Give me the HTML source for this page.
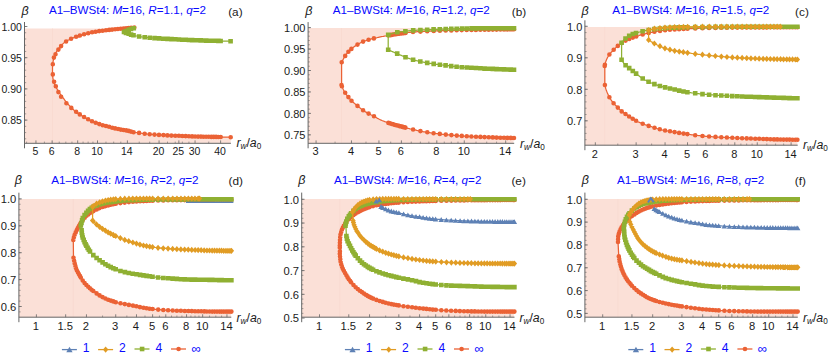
<!DOCTYPE html>
<html><head><meta charset="utf-8"><title>A1-BWSt4 beta vs r_w/a_0</title>
<style>
html,body{margin:0;padding:0;background:#fff;}
body{width:830px;height:362px;overflow:hidden;}
svg{display:block;font-family:"Liberation Sans",sans-serif;}
</style></head><body>
<svg width="830" height="362" viewBox="0 0 830 362">
<rect width="830" height="362" fill="#fff"/>
<path d="M24.5 28.4 H134.3 L134.3 28.4 L133.3 28.4 L132.3 28.4 L131.3 28.4 L130.3 28.4 L129.3 28.4 L128.3 28.4 L127.3 28.4 L126.3 28.4 L125.3 28.4 L124.3 28.4 L123.3 28.5 L122.3 28.6 L121.3 28.7 L120.2 28.8 L119.2 28.9 L118.2 29 L117.2 29.1 L116.2 29.2 L115.2 29.3 L114.2 29.4 L113.2 29.5 L112.2 29.6 L111.2 29.7 L110.2 29.8 L109.2 29.9 L108.2 30 L107.2 30.2 L106.2 30.3 L105.2 30.4 L104.2 30.5 L103.2 30.6 L102.2 30.7 L101.2 30.9 L100.2 31 L99.2 31.1 L98.2 31.3 L97.2 31.4 L96.2 31.6 L95.2 31.8 L94.3 31.9 L93.3 32.1 L92.3 32.3 L91.3 32.5 L90.3 32.7 L89.3 32.9 L88.3 33.1 L87.4 33.4 L86.4 33.6 L85.4 33.9 L84.4 34.1 L83.5 34.4 L82.5 34.7 L81.5 35 L80.6 35.3 L79.6 35.5 L78.6 35.9 L77.7 36.2 L76.7 36.5 L75.8 36.8 L74.8 37.2 L73.9 37.6 L73 38 L72.1 38.5 L71.2 38.9 L70.2 39.3 L69.3 39.7 L68.4 40.1 L67.4 40.5 L66.5 40.9 L65.7 41.4 L64.9 42 L64.1 42.7 L63.4 43.3 L62.7 44.1 L62 44.8 L61.3 45.6 L60.6 46.3 L59.9 47.1 L59.2 47.8 L58.6 48.6 L58 49.4 L57.4 50.2 L56.9 51.1 L56.4 52 L56 52.9 L55.6 53.8 L55.2 54.7 L54.8 55.7 L54.5 56.6 L54.2 57.6 L53.9 58.5 L53.6 59.5 L53.3 60.5 L53.1 61.5 L52.9 62.5 L52.7 63.5 L52.7 64.5 L52.6 65.5 L52.6 66.5 L52.5 67.5 L52.5 68.5 L52.5 69 L52.5 70 L52.5 71 L52.5 72 L52.6 73 L52.6 74 L52.6 75 L52.7 76 L52.8 77 L52.9 78 L53.1 79.1 L53.2 80 L53.4 81 L53.6 82 L53.9 82.9 L54.3 83.8 L54.8 84.7 L55.3 85.6 L55.7 86.5 L56.2 87.4 L56.7 88.3 L57.1 89.2 L57.6 90.1 L58.1 90.9 L58.7 91.8 L59.2 92.6 L59.8 93.4 L60.4 94.2 L61 95 L61.6 95.8 L62.2 96.6 L62.8 97.4 L63.4 98.3 L64 99.1 L64.6 99.9 L65.2 100.7 L65.8 101.5 L66.4 102.3 L67 103.1 L67.7 103.8 L68.4 104.5 L69.1 105.3 L69.8 106 L70.5 106.7 L71.2 107.4 L71.9 108.1 L72.6 108.8 L73.3 109.5 L74.1 110.2 L74.8 110.9 L75.6 111.5 L76.4 112.2 L77.2 112.7 L78 113.3 L78.9 113.8 L79.7 114.4 L80.6 114.9 L81.4 115.4 L82.3 116 L83.1 116.5 L84 117 L84.9 117.5 L85.7 118 L86.6 118.5 L87.5 119 L88.4 119.5 L89.2 119.9 L90.2 120.4 L91.1 120.8 L92 121.2 L92.9 121.6 L93.8 122 L94.7 122.4 L95.7 122.8 L96.6 123.1 L97.5 123.5 L98.5 123.8 L99.4 124.1 L100.4 124.5 L101.3 124.8 L102.3 125 L103.3 125.3 L104.3 125.6 L105.2 125.8 L106.2 126.1 L107.2 126.3 L108.1 126.6 L109.1 126.8 L110.1 127.1 L111 127.3 L112 127.6 L113 127.9 L114 128.1 L114.9 128.3 L115.9 128.6 L116.9 128.8 L117.9 129 L118.9 129.2 L119.8 129.4 L120.8 129.6 L121.8 129.7 L122.8 129.9 L123.8 130.1 L124.8 130.2 L125.8 130.3 L126.8 130.5 L127.8 130.7 L128.7 130.9 L129.7 131.2 L130.7 131.5 L131.6 131.8 L132.6 132 L133.6 132.2 L134.6 132.3 L135.6 132.4 L136.6 132.5 L137.6 132.7 L138.6 132.8 L139.6 132.9 L140.6 133.1 L141.5 133.2 L142.5 133.4 L143.5 133.6 L144.5 133.7 L145.5 133.8 L146.5 133.9 L147.5 134 L148.5 134.1 L149.5 134.2 L150.5 134.3 L151.5 134.4 L152.5 134.4 L153.5 134.5 L154.5 134.6 L155.5 134.7 L156.5 134.7 L157.5 134.8 L158.5 134.9 L159.5 134.9 L160.5 135 L161.5 135 L162.5 135.1 L163.5 135.2 L164.5 135.2 L165.5 135.3 L166.5 135.3 L167.5 135.4 L168.5 135.4 L169.5 135.5 L170.5 135.5 L171.5 135.6 L172.5 135.6 L173.5 135.6 L174.5 135.7 L175.5 135.7 L176.5 135.8 L177.6 135.8 L178.6 135.8 L179.6 135.9 L180.6 135.9 L181.6 135.9 L182.6 136 L183.6 136 L184.6 136.1 L185.6 136.1 L186.6 136.2 L187.6 136.2 L188.6 136.2 L189.6 136.3 L190.6 136.3 L191.6 136.4 L192.6 136.4 L193.6 136.4 L194.6 136.5 L195.6 136.5 L196.6 136.5 L197.6 136.6 L198.6 136.6 L199.6 136.6 L200.6 136.6 L201.6 136.7 L202.6 136.7 L203.6 136.7 L204.6 136.7 L205.6 136.8 L206.6 136.8 L207.6 136.8 L208.6 136.8 L209.6 136.8 L210.6 136.8 L211.6 136.9 L212.6 136.9 L213.6 136.9 L214.7 136.9 L215.7 136.9 L216.7 136.9 L217.7 136.9 L218.7 137 L219.7 137 L220.7 137 L221.7 137 L222.7 137 L223.7 137.1 L224.7 137.1 L225.7 137.1 L226.7 137.2 L227.7 137.2 L228.7 137.2 L229.7 137.3 L230.7 137.3 L230.7 143.3 L24.5 143.3 L24.5 28.4 Z" fill="#FBE0D7"/><path d="M52.5 28.4 V143.3" stroke="#F8D8CE" stroke-width="0.7"/>
<path d="M24.5 22 V148.3" stroke="#666666" stroke-width="1" fill="none"/>
<path d="M24.5 143.3 H230.9" stroke="#666666" stroke-width="1" fill="none"/>
<path d="M35.95 143.3 v-2.9" stroke="#666666" stroke-width="0.8"/>
<text x="35.45" y="155.3" font-size="10.5" fill="#1a1a1a" text-anchor="middle">5</text>
<path d="M52.14 143.3 v-2.9" stroke="#666666" stroke-width="0.8"/>
<text x="51.64" y="155.3" font-size="10.5" fill="#1a1a1a" text-anchor="middle">6</text>
<path d="M77.68 143.3 v-2.9" stroke="#666666" stroke-width="0.8"/>
<text x="77.18" y="155.3" font-size="10.5" fill="#1a1a1a" text-anchor="middle">8</text>
<path d="M97.5 143.3 v-2.9" stroke="#666666" stroke-width="0.8"/>
<text x="97" y="155.3" font-size="10.5" fill="#1a1a1a" text-anchor="middle">10</text>
<path d="M127.38 143.3 v-2.9" stroke="#666666" stroke-width="0.8"/>
<text x="126.88" y="155.3" font-size="10.5" fill="#1a1a1a" text-anchor="middle">14</text>
<path d="M159.05 143.3 v-2.9" stroke="#666666" stroke-width="0.8"/>
<text x="158.55" y="155.3" font-size="10.5" fill="#1a1a1a" text-anchor="middle">20</text>
<path d="M178.86 143.3 v-2.9" stroke="#666666" stroke-width="0.8"/>
<text x="178.36" y="155.3" font-size="10.5" fill="#1a1a1a" text-anchor="middle">25</text>
<path d="M195.05 143.3 v-2.9" stroke="#666666" stroke-width="0.8"/>
<text x="194.55" y="155.3" font-size="10.5" fill="#1a1a1a" text-anchor="middle">30</text>
<path d="M220.6 143.3 v-2.9" stroke="#666666" stroke-width="0.8"/>
<text x="220.1" y="155.3" font-size="10.5" fill="#1a1a1a" text-anchor="middle">40</text>
<path d="M26.59 143.3 v-1.7" stroke="#666666" stroke-width="0.6"/>
<path d="M44.41 143.3 v-1.7" stroke="#666666" stroke-width="0.6"/>
<path d="M59.24 143.3 v-1.7" stroke="#666666" stroke-width="0.6"/>
<path d="M65.82 143.3 v-1.7" stroke="#666666" stroke-width="0.6"/>
<path d="M71.95 143.3 v-1.7" stroke="#666666" stroke-width="0.6"/>
<path d="M83.07 143.3 v-1.7" stroke="#666666" stroke-width="0.6"/>
<path d="M88.14 143.3 v-1.7" stroke="#666666" stroke-width="0.6"/>
<path d="M92.94 143.3 v-1.7" stroke="#666666" stroke-width="0.6"/>
<path d="M105.96 143.3 v-1.7" stroke="#666666" stroke-width="0.6"/>
<path d="M113.69 143.3 v-1.7" stroke="#666666" stroke-width="0.6"/>
<path d="M120.8 143.3 v-1.7" stroke="#666666" stroke-width="0.6"/>
<path d="M139.23 143.3 v-1.7" stroke="#666666" stroke-width="0.6"/>
<path d="M149.69 143.3 v-1.7" stroke="#666666" stroke-width="0.6"/>
<path d="M167.51 143.3 v-1.7" stroke="#666666" stroke-width="0.6"/>
<path d="M175.24 143.3 v-1.7" stroke="#666666" stroke-width="0.6"/>
<path d="M182.35 143.3 v-1.7" stroke="#666666" stroke-width="0.6"/>
<path d="M188.93 143.3 v-1.7" stroke="#666666" stroke-width="0.6"/>
<path d="M208.74 143.3 v-1.7" stroke="#666666" stroke-width="0.6"/>
<path d="M24.5 26.5 h2.9" stroke="#666666" stroke-width="0.8"/>
<text x="21.9" y="30.56" font-size="10.5" fill="#1a1a1a" text-anchor="end">1.00</text>
<path d="M24.5 57.7 h2.9" stroke="#666666" stroke-width="0.8"/>
<text x="21.9" y="61.76" font-size="10.5" fill="#1a1a1a" text-anchor="end">0.95</text>
<path d="M24.5 88.9 h2.9" stroke="#666666" stroke-width="0.8"/>
<text x="21.9" y="92.96" font-size="10.5" fill="#1a1a1a" text-anchor="end">0.90</text>
<path d="M24.5 120.1 h2.9" stroke="#666666" stroke-width="0.8"/>
<text x="21.9" y="124.16" font-size="10.5" fill="#1a1a1a" text-anchor="end">0.85</text>
<path d="M24.5 26.5 h1.7" stroke="#666666" stroke-width="0.6"/>
<path d="M24.5 32.74 h1.7" stroke="#666666" stroke-width="0.6"/>
<path d="M24.5 38.98 h1.7" stroke="#666666" stroke-width="0.6"/>
<path d="M24.5 45.22 h1.7" stroke="#666666" stroke-width="0.6"/>
<path d="M24.5 51.46 h1.7" stroke="#666666" stroke-width="0.6"/>
<path d="M24.5 57.7 h1.7" stroke="#666666" stroke-width="0.6"/>
<path d="M24.5 63.94 h1.7" stroke="#666666" stroke-width="0.6"/>
<path d="M24.5 70.18 h1.7" stroke="#666666" stroke-width="0.6"/>
<path d="M24.5 76.42 h1.7" stroke="#666666" stroke-width="0.6"/>
<path d="M24.5 82.66 h1.7" stroke="#666666" stroke-width="0.6"/>
<path d="M24.5 88.9 h1.7" stroke="#666666" stroke-width="0.6"/>
<path d="M24.5 95.14 h1.7" stroke="#666666" stroke-width="0.6"/>
<path d="M24.5 101.38 h1.7" stroke="#666666" stroke-width="0.6"/>
<path d="M24.5 107.62 h1.7" stroke="#666666" stroke-width="0.6"/>
<path d="M24.5 113.86 h1.7" stroke="#666666" stroke-width="0.6"/>
<path d="M24.5 120.1 h1.7" stroke="#666666" stroke-width="0.6"/>
<path d="M24.5 126.34 h1.7" stroke="#666666" stroke-width="0.6"/>
<path d="M24.5 132.58 h1.7" stroke="#666666" stroke-width="0.6"/>
<path d="M24.5 138.82 h1.7" stroke="#666666" stroke-width="0.6"/>
<path d="M52.5 69L52.5 68L52.5 67L52.6 66L52.6 64.9L52.7 63.9L52.8 62.9L53 61.9L53.2 61L53.4 60L53.7 59L54 58L54.4 57L54.7 56.1L55 55.1L55.4 54.2L55.8 53.3L56.2 52.3L56.7 51.4L57.2 50.6L57.8 49.7L58.3 48.9L59 48.1L59.6 47.3L60.3 46.6L61 45.9L61.7 45.1L62.4 44.4L63.1 43.6L63.9 42.9L64.6 42.2L65.4 41.6L66.2 41.1L67.1 40.6L68 40.2L69 39.8L69.9 39.4L70.9 39L71.8 38.6L72.7 38.2L73.6 37.7L74.6 37.3L75.5 37L76.5 36.6L77.4 36.3L78.4 35.9L79.3 35.6L80.3 35.3L81.3 35L82.2 34.8L83.2 34.5L84.2 34.2L85.2 33.9L86.1 33.7L87.1 33.4L88.1 33.2L89.1 33L90.1 32.7L91.1 32.5L92.1 32.3L93.1 32.2L94.1 32L95.1 31.8L96.1 31.6L97.1 31.5L98.1 31.3L99.1 31.2L100.1 31L101.1 30.9L102.1 30.8L103.1 30.6L104.1 30.5L105.1 30.4L106.1 30.3L107.1 30.2L108.1 30.1L109.1 29.9L110.1 29.8L111.1 29.7L112.1 29.6L113.1 29.5L114.1 29.4L115.1 29.3L116.1 29.2L117.2 29.1L118.2 29L119.2 28.9L120.2 28.8L121.2 28.7L122.2 28.6L123.2 28.5L124.2 28.4L125.2 28.3L126.2 28.2L127.2 28.1L128.2 28.1L129.3 28L130.3 27.9L131.3 27.8L132.3 27.7L133.3 27.7L134.3 27.6M52.5 69L52.5 70L52.5 71L52.5 72L52.6 73L52.6 74L52.6 75L52.7 76.1L52.8 77.1L52.9 78.1L53.1 79.1L53.2 80.1L53.4 81.1L53.6 82L53.9 83L54.3 83.9L54.8 84.8L55.3 85.7L55.8 86.6L56.2 87.5L56.7 88.4L57.2 89.3L57.7 90.2L58.2 91L58.7 91.9L59.3 92.7L59.9 93.5L60.5 94.3L61.1 95.2L61.7 96L62.3 96.8L62.9 97.6L63.5 98.4L64.1 99.2L64.7 100L65.3 100.8L65.9 101.6L66.5 102.4L67.2 103.2L67.8 103.9L68.5 104.7L69.2 105.4L69.9 106.1L70.6 106.8L71.3 107.6L72.1 108.3L72.8 109L73.5 109.7L74.2 110.4L75 111.1L75.8 111.7L76.6 112.3L77.4 112.9L78.2 113.4L79.1 114L79.9 114.5L80.8 115L81.7 115.6L82.5 116.1L83.4 116.6L84.2 117.2L85.1 117.7L86 118.2L86.9 118.7L87.7 119.1L88.6 119.6L89.5 120.1L90.4 120.5L91.4 120.9L92.3 121.3L93.2 121.7L94.1 122.1L95.1 122.5L96 122.9L96.9 123.3L97.9 123.6L98.8 123.9L99.8 124.3L100.8 124.6L101.7 124.9L102.7 125.1L103.7 125.4L104.6 125.7L105.6 125.9L106.6 126.2L107.6 126.4L108.5 126.7L109.5 126.9L110.5 127.2L111.5 127.4L112.4 127.7L113.4 128L114.4 128.2L115.4 128.4L116.4 128.7L117.3 128.9L118.3 129.1L119.3 129.3L120.3 129.5L121.3 129.7L122.3 129.8L123.3 130L124.3 130.1L125.3 130.3L126.3 130.4L127.3 130.6L128.2 130.8L129.2 131.1L130.2 131.4L131.2 131.7L132.1 131.9L133.1 132.1L134.1 132.2L135.1 132.4L136.1 132.5L137.1 132.6L138.1 132.7L139.1 132.9L140.1 133L141.1 133.2L142.1 133.3L143.1 133.5L144.1 133.7L145.1 133.8L146.1 133.9L147.1 134L148.1 134.1L149.1 134.2L150.1 134.3L151.1 134.3L152.1 134.4L153.1 134.5L154.1 134.6L155.1 134.6L156.2 134.7L157.2 134.8L158.2 134.8L159.2 134.9L160.2 135L161.2 135L162.2 135.1L163.2 135.1L164.2 135.2L165.2 135.2L166.2 135.3L167.2 135.4L168.2 135.4L169.2 135.5L170.2 135.5L171.3 135.5L172.3 135.6L173.3 135.6L174.3 135.7L175.3 135.7L176.3 135.7L177.3 135.8L178.3 135.8L179.3 135.9L180.3 135.9L181.3 135.9L182.3 136L183.3 136L184.3 136.1L185.4 136.1L186.4 136.1L187.4 136.2L188.4 136.2L189.4 136.3L190.4 136.3L191.4 136.4L192.4 136.4L193.4 136.4L194.4 136.5L195.4 136.5L196.4 136.5L197.4 136.6L198.4 136.6L199.5 136.6L200.5 136.6L201.5 136.7L202.5 136.7L203.5 136.7L204.5 136.7L205.5 136.8L206.5 136.8L207.5 136.8L208.5 136.8L209.5 136.8L210.5 136.8L211.6 136.9L212.6 136.9L213.6 136.9L214.6 136.9L215.6 136.9L216.6 136.9L217.6 136.9L218.6 137L219.6 137L220.6 137L221.6 137L222.6 137L223.6 137.1L224.7 137.1L225.7 137.1L226.7 137.2L227.7 137.2L228.7 137.2L229.7 137.3L230.7 137.3" fill="none" stroke="#EB6235" stroke-width="1.25" stroke-linejoin="round"/>
<path d="M79.9 35.5h0M84.1 34.2h0M88.2 33.2h0M92.1 32.3h0M95.6 31.7h0M99.2 31.1h0M102.6 30.7h0M106 30.3h0M109.2 29.9h0M112.1 29.6h0M115.1 29.3h0M117.9 29h0M120.7 28.7h0M123.5 28.5h0M126.1 28.2h0M128.7 28h0M131.1 27.8h0M133.5 27.7h0M134.3 27.6h0M79.8 114.4h0M84.1 117h0M88.1 119.3h0M92 121.2h0M95.7 122.8h0M99.3 124.1h0M102.7 125.2h0M106 126h0M109.1 126.8h0M112.2 127.7h0M115.1 128.4h0M118.1 129h0M120.8 129.6h0M123.4 130h0M126.2 130.4h0M128.7 130.9h0M131 131.6h0M133.6 132.2h0M139.1 132.9h0M144.7 133.7h0M149.7 134.2h0M154.5 134.6h0M159 134.9h0M163.4 135.1h0M167.4 135.4h0M171.4 135.6h0M175.3 135.7h0M178.9 135.8h0M182.3 136h0M185.7 136.1h0M188.9 136.3h0M192.1 136.4h0M195.1 136.5h0M198.1 136.6h0M200.9 136.6h0M203.5 136.7h0M206.1 136.8h0M208.7 136.8h0M211.3 136.9h0M213.7 136.9h0M216.1 136.9h0M218.3 137h0M220.7 137h0M230.7 137.3h0M52.8 64.2h0M53.9 57.6h0M55.5 54.2h0M58.4 49.6h0M61.1 46.1h0M66.1 41.5h0M71.1 38.7h0M76.1 36.8h0M52.8 74.4h0M54.1 81.8h0M55.8 86.2h0M58.4 92.1h0M61.1 96.7h0M66.4 103.3h0M71.3 107.9h0M76.1 111.7h0" stroke="#EB6235" stroke-width="4.6" stroke-linecap="round" fill="none"/>
<path d="M124 32L125 31.5L126.1 30.9L127.2 30.4L128.2 30L129.3 29.6L130.4 29.2L131.5 28.8L132.7 28.5L133.8 28.2M124 32L124.9 32.4L125.9 32.8L126.8 33.2L127.8 33.5L128.7 33.8L129.7 34.2L130.6 34.5L131.6 34.8L132.6 35.1L133.6 35.3L134.6 35.6L135.5 35.8L136.5 36L137.5 36.2L138.5 36.4L139.5 36.6L140.5 36.7L141.5 36.9L142.5 37L143.5 37.2L144.5 37.3L145.6 37.4L146.6 37.5L147.6 37.6L148.6 37.7L149.6 37.8L150.6 37.8L151.6 37.9L152.6 38L153.6 38.1L154.6 38.1L155.7 38.2L156.7 38.3L157.7 38.3L158.7 38.4L159.7 38.5L160.7 38.5L161.7 38.6L162.7 38.6L163.8 38.7L164.8 38.7L165.8 38.8L166.8 38.9L167.8 38.9L168.8 39L169.8 39L170.8 39.1L171.8 39.1L172.9 39.2L173.9 39.2L174.9 39.3L175.9 39.3L176.9 39.4L177.9 39.4L178.9 39.5L179.9 39.5L181 39.6L182 39.6L183 39.7L184 39.7L185 39.8L186 39.8L187 39.9L188 39.9L189.1 40L190.1 40L191.1 40.1L192.1 40.1L193.1 40.1L194.1 40.2L195.1 40.2L196.1 40.3L197.2 40.3L198.2 40.3L199.2 40.4L200.2 40.4L201.2 40.4L202.2 40.5L203.2 40.5L204.3 40.5L205.3 40.6L206.3 40.6L207.3 40.6L208.3 40.6L209.3 40.7L210.3 40.7L211.3 40.7L212.4 40.8L213.4 40.8L214.4 40.8L215.4 40.8L216.4 40.9L217.4 40.9L218.4 40.9L219.5 40.9L220.5 41L221.5 41L222.5 41L223.5 41L224.5 41.1L225.5 41.1L226.5 41.1L227.6 41.1L228.6 41.2L229.6 41.2L230.6 41.2" fill="none" stroke="#8FB032" stroke-width="1.25" stroke-linejoin="round"/>
<path d="M124 32h0M126 31h0M128.7 29.8h0M131 29h0M133.6 28.3h0M133.8 28.2h0M124 32h0M126 32.9h0M128.7 33.8h0M131.1 34.6h0M133.5 35.3h0M139.1 36.5h0M144.7 37.3h0M149.7 37.8h0M154.5 38.1h0M159.1 38.4h0M163.3 38.7h0M167.5 38.9h0M171.5 39.1h0M175.3 39.3h0M178.9 39.5h0M182.3 39.7h0M185.7 39.8h0M188.9 40h0M192.1 40.1h0M195.1 40.2h0M197.9 40.3h0M200.7 40.4h0M203.5 40.5h0M206.2 40.6h0M208.8 40.7h0M211.2 40.7h0M213.8 40.8h0M216 40.8h0M218.4 40.9h0M220.6 41h0M230.6 41.2h0" stroke="#8FB032" stroke-width="4.6" stroke-linecap="square" fill="none"/>
<text x="49" y="13.9" font-size="11.65" fill="#0a0aff" text-anchor="start">A1–BWSt4: <tspan font-style="italic">M</tspan>=16, <tspan font-style="italic">R</tspan>=1.1, <tspan font-style="italic">q</tspan>=2</text>
<text x="228.2" y="15.6" font-size="11.8" fill="#1a1a1a" text-anchor="start">(a)</text>
<text x="25" y="15" font-size="12.5" fill="#1a1a1a" text-anchor="middle" font-style="italic">β</text>
<text x="236.4" y="146.7" font-size="12.3" fill="#1a1a1a" font-style="italic">r<tspan font-size="8.2" dy="2.2">w</tspan><tspan dy="-2.2" font-style="normal">/</tspan>a<tspan font-size="8.2" dy="2.4" font-style="normal">0</tspan></text>
<path d="M308.1 28 H514 L514 29.3 L513 29.3 L512 29.3 L511 29.3 L510 29.4 L509 29.4 L508 29.4 L507 29.4 L506 29.4 L505 29.4 L504 29.4 L502.9 29.5 L501.9 29.5 L500.9 29.5 L499.9 29.5 L498.9 29.5 L497.9 29.5 L496.9 29.5 L495.9 29.6 L494.9 29.6 L493.9 29.6 L492.9 29.6 L491.9 29.6 L490.9 29.6 L489.9 29.7 L488.9 29.7 L487.9 29.7 L486.9 29.7 L485.9 29.7 L484.9 29.7 L483.9 29.7 L482.9 29.8 L481.8 29.8 L480.8 29.8 L479.8 29.8 L478.8 29.8 L477.8 29.9 L476.8 29.9 L475.8 29.9 L474.8 29.9 L473.8 29.9 L472.8 29.9 L471.8 30 L470.8 30 L469.8 30 L468.8 30 L467.8 30 L466.8 30 L465.8 30.1 L464.8 30.1 L463.8 30.1 L462.8 30.1 L461.8 30.1 L460.8 30.2 L459.7 30.2 L458.7 30.2 L457.7 30.2 L456.7 30.2 L455.7 30.3 L454.7 30.3 L453.7 30.3 L452.7 30.3 L451.7 30.4 L450.7 30.4 L449.7 30.4 L448.7 30.4 L447.7 30.5 L446.7 30.5 L445.7 30.5 L444.7 30.6 L443.7 30.6 L442.7 30.6 L441.7 30.7 L440.7 30.7 L439.7 30.8 L438.7 30.8 L437.7 30.8 L436.6 30.9 L435.6 30.9 L434.6 31 L433.6 31 L432.6 31.1 L431.6 31.1 L430.6 31.1 L429.6 31.2 L428.6 31.2 L427.6 31.3 L426.6 31.3 L425.6 31.4 L424.6 31.4 L423.6 31.5 L422.6 31.5 L421.6 31.5 L420.6 31.6 L419.6 31.6 L418.6 31.7 L417.6 31.7 L416.6 31.8 L415.6 31.8 L414.6 31.9 L413.6 32 L412.6 32 L411.6 32.1 L410.6 32.2 L409.6 32.4 L408.6 32.5 L407.6 32.6 L406.6 32.8 L405.6 32.9 L404.6 33 L403.6 33.1 L402.6 33.3 L401.6 33.4 L400.6 33.5 L399.6 33.6 L398.6 33.8 L397.6 33.9 L396.6 34 L395.6 34.2 L394.6 34.4 L393.6 34.5 L392.6 34.7 L391.7 34.9 L390.7 35.1 L389.7 35.2 L388.7 35.4 L387.7 35.6 L386.7 35.8 L385.7 35.9 L384.7 36.1 L383.7 36.3 L382.7 36.5 L381.8 36.7 L380.8 36.8 L379.8 37 L378.8 37.2 L377.8 37.5 L376.8 37.7 L375.9 37.9 L374.9 38.1 L373.9 38.4 L372.9 38.6 L372 38.8 L371 39.1 L370 39.3 L369 39.6 L368.1 39.9 L367.1 40.2 L366.1 40.5 L365.2 40.8 L364.2 41.1 L363.3 41.5 L362.4 41.9 L361.5 42.3 L360.6 42.8 L359.7 43.2 L358.8 43.8 L358 44.3 L357.1 44.8 L356.3 45.3 L355.4 45.9 L354.6 46.5 L353.8 47 L352.9 47.6 L352.2 48.3 L351.4 48.9 L350.6 49.5 L349.9 50.2 L349.2 50.9 L348.5 51.7 L347.8 52.4 L347.2 53.2 L346.6 54 L346 54.8 L345.4 55.6 L344.8 56.5 L344.3 57.3 L343.8 58.2 L343.3 59.1 L342.8 59.9 L342.4 60.8 L341.9 61.7 L341.5 85 L341.8 86 L342.2 86.9 L342.6 87.8 L343 88.8 L343.4 89.7 L343.9 90.5 L344.4 91.4 L344.9 92.3 L345.4 93.1 L346 93.9 L346.6 94.7 L347.2 95.5 L347.8 96.3 L348.4 97.1 L349.1 97.9 L349.7 98.7 L350.3 99.5 L351 100.2 L351.7 100.9 L352.4 101.6 L353.2 102.3 L353.9 102.9 L354.7 103.6 L355.5 104.2 L356.3 104.9 L357.1 105.5 L357.8 106.1 L358.6 106.8 L359.4 107.4 L360.1 108.1 L360.9 108.7 L361.7 109.3 L362.5 109.9 L363.3 110.5 L364.2 111 L365 111.6 L365.9 112.1 L366.8 112.6 L367.6 113.1 L368.5 113.6 L369.4 114 L370.3 114.5 L371.2 114.9 L372.1 115.3 L373 115.8 L373.9 116.2 L374.8 116.7 L375.6 117.3 L376.5 117.8 L377.4 118.3 L378.2 118.8 L379.1 119.2 L380 119.6 L381 120 L381.9 120.4 L382.8 120.8 L383.8 121.2 L384.7 121.5 L385.6 121.9 L386.6 122.2 L387.5 122.6 L388.5 122.9 L389.4 123.2 L390.4 123.5 L391.3 123.8 L392.3 124.1 L393.3 124.4 L394.2 124.7 L395.2 125 L396.1 125.3 L397.1 125.5 L398.1 125.8 L399.1 126 L400 126.3 L401 126.5 L402 126.8 L402.9 127 L403.9 127.3 L404.9 127.5 L405.9 127.8 L406.8 128 L407.8 128.2 L408.8 128.5 L409.8 128.7 L410.7 129 L411.7 129.2 L412.7 129.4 L413.7 129.6 L414.6 129.9 L415.6 130.1 L416.6 130.3 L417.6 130.5 L418.6 130.7 L419.5 130.9 L420.5 131.2 L421.5 131.3 L422.5 131.5 L423.5 131.7 L424.5 131.9 L425.5 132.1 L426.5 132.2 L427.4 132.4 L428.4 132.5 L429.4 132.7 L430.4 132.8 L431.4 132.9 L432.4 133.1 L433.4 133.2 L434.4 133.3 L435.4 133.4 L436.4 133.5 L437.4 133.7 L438.4 133.8 L439.4 133.9 L440.4 134 L441.4 134.1 L442.4 134.2 L443.4 134.3 L444.4 134.4 L445.4 134.5 L446.4 134.6 L447.4 134.7 L448.4 134.8 L449.4 134.9 L450.4 135 L451.4 135.1 L452.4 135.2 L453.4 135.3 L454.4 135.4 L455.4 135.4 L456.4 135.5 L457.4 135.6 L458.4 135.7 L459.4 135.8 L460.4 135.8 L461.4 135.9 L462.4 136 L463.4 136 L464.4 136.1 L465.4 136.2 L466.4 136.2 L467.4 136.3 L468.4 136.3 L469.4 136.4 L470.4 136.4 L471.4 136.5 L472.4 136.6 L473.4 136.6 L474.4 136.7 L475.4 136.7 L476.4 136.7 L477.4 136.8 L478.4 136.8 L479.4 136.9 L480.4 136.9 L481.4 137 L482.4 137 L483.4 137 L484.4 137.1 L485.4 137.1 L486.4 137.1 L487.4 137.2 L488.4 137.2 L489.4 137.3 L490.4 137.3 L491.4 137.3 L492.4 137.4 L493.4 137.4 L494.4 137.5 L495.4 137.5 L496.4 137.6 L497.5 137.6 L498.5 137.6 L499.5 137.7 L500.5 137.7 L501.5 137.7 L502.5 137.8 L503.5 137.8 L504.5 137.8 L505.5 137.8 L506.5 137.9 L507.5 137.9 L508.5 137.9 L509.5 137.9 L510.5 137.9 L511.5 138 L512.5 138 L513.5 138 L513.5 143.3 L308.1 143.3 L308.1 28 Z" fill="#FBE0D7"/><path d="M341.5 28 V143.3" stroke="#F8D8CE" stroke-width="0.7"/>
<path d="M308.1 22.1 V148.3" stroke="#666666" stroke-width="1" fill="none"/>
<path d="M308.1 143.3 H514.2" stroke="#666666" stroke-width="1" fill="none"/>
<path d="M316.07 143.3 v-2.9" stroke="#666666" stroke-width="0.8"/>
<text x="315.57" y="155.4" font-size="11.0" fill="#1a1a1a" text-anchor="middle">3</text>
<path d="M351.48 143.3 v-2.9" stroke="#666666" stroke-width="0.8"/>
<text x="350.98" y="155.4" font-size="11.0" fill="#1a1a1a" text-anchor="middle">4</text>
<path d="M378.95 143.3 v-2.9" stroke="#666666" stroke-width="0.8"/>
<text x="378.45" y="155.4" font-size="11.0" fill="#1a1a1a" text-anchor="middle">5</text>
<path d="M401.4 143.3 v-2.9" stroke="#666666" stroke-width="0.8"/>
<text x="400.9" y="155.4" font-size="11.0" fill="#1a1a1a" text-anchor="middle">6</text>
<path d="M436.81 143.3 v-2.9" stroke="#666666" stroke-width="0.8"/>
<text x="436.31" y="155.4" font-size="11.0" fill="#1a1a1a" text-anchor="middle">8</text>
<path d="M464.28 143.3 v-2.9" stroke="#666666" stroke-width="0.8"/>
<text x="463.78" y="155.4" font-size="11.0" fill="#1a1a1a" text-anchor="middle">10</text>
<path d="M505.7 143.3 v-2.9" stroke="#666666" stroke-width="0.8"/>
<text x="505.2" y="155.4" font-size="11.0" fill="#1a1a1a" text-anchor="middle">14</text>
<path d="M335.05 143.3 v-1.7" stroke="#666666" stroke-width="0.6"/>
<path d="M365.98 143.3 v-1.7" stroke="#666666" stroke-width="0.6"/>
<path d="M390.69 143.3 v-1.7" stroke="#666666" stroke-width="0.6"/>
<path d="M411.25 143.3 v-1.7" stroke="#666666" stroke-width="0.6"/>
<path d="M420.37 143.3 v-1.7" stroke="#666666" stroke-width="0.6"/>
<path d="M428.87 143.3 v-1.7" stroke="#666666" stroke-width="0.6"/>
<path d="M444.27 143.3 v-1.7" stroke="#666666" stroke-width="0.6"/>
<path d="M451.31 143.3 v-1.7" stroke="#666666" stroke-width="0.6"/>
<path d="M457.97 143.3 v-1.7" stroke="#666666" stroke-width="0.6"/>
<path d="M476.01 143.3 v-1.7" stroke="#666666" stroke-width="0.6"/>
<path d="M486.72 143.3 v-1.7" stroke="#666666" stroke-width="0.6"/>
<path d="M496.58 143.3 v-1.7" stroke="#666666" stroke-width="0.6"/>
<path d="M308.1 27.6 h2.9" stroke="#666666" stroke-width="0.8"/>
<text x="305.5" y="31.84" font-size="11.0" fill="#1a1a1a" text-anchor="end">1.00</text>
<path d="M308.1 49.05 h2.9" stroke="#666666" stroke-width="0.8"/>
<text x="305.5" y="53.29" font-size="11.0" fill="#1a1a1a" text-anchor="end">0.95</text>
<path d="M308.1 70.5 h2.9" stroke="#666666" stroke-width="0.8"/>
<text x="305.5" y="74.74" font-size="11.0" fill="#1a1a1a" text-anchor="end">0.90</text>
<path d="M308.1 91.95 h2.9" stroke="#666666" stroke-width="0.8"/>
<text x="305.5" y="96.19" font-size="11.0" fill="#1a1a1a" text-anchor="end">0.85</text>
<path d="M308.1 113.4 h2.9" stroke="#666666" stroke-width="0.8"/>
<text x="305.5" y="117.64" font-size="11.0" fill="#1a1a1a" text-anchor="end">0.80</text>
<path d="M308.1 134.85 h2.9" stroke="#666666" stroke-width="0.8"/>
<text x="305.5" y="139.09" font-size="11.0" fill="#1a1a1a" text-anchor="end">0.75</text>
<path d="M308.1 27.6 h1.7" stroke="#666666" stroke-width="0.6"/>
<path d="M308.1 31.89 h1.7" stroke="#666666" stroke-width="0.6"/>
<path d="M308.1 36.18 h1.7" stroke="#666666" stroke-width="0.6"/>
<path d="M308.1 40.47 h1.7" stroke="#666666" stroke-width="0.6"/>
<path d="M308.1 44.76 h1.7" stroke="#666666" stroke-width="0.6"/>
<path d="M308.1 49.05 h1.7" stroke="#666666" stroke-width="0.6"/>
<path d="M308.1 53.34 h1.7" stroke="#666666" stroke-width="0.6"/>
<path d="M308.1 57.63 h1.7" stroke="#666666" stroke-width="0.6"/>
<path d="M308.1 61.92 h1.7" stroke="#666666" stroke-width="0.6"/>
<path d="M308.1 66.21 h1.7" stroke="#666666" stroke-width="0.6"/>
<path d="M308.1 70.5 h1.7" stroke="#666666" stroke-width="0.6"/>
<path d="M308.1 74.79 h1.7" stroke="#666666" stroke-width="0.6"/>
<path d="M308.1 79.08 h1.7" stroke="#666666" stroke-width="0.6"/>
<path d="M308.1 83.37 h1.7" stroke="#666666" stroke-width="0.6"/>
<path d="M308.1 87.66 h1.7" stroke="#666666" stroke-width="0.6"/>
<path d="M308.1 91.95 h1.7" stroke="#666666" stroke-width="0.6"/>
<path d="M308.1 96.24 h1.7" stroke="#666666" stroke-width="0.6"/>
<path d="M308.1 100.53 h1.7" stroke="#666666" stroke-width="0.6"/>
<path d="M308.1 104.82 h1.7" stroke="#666666" stroke-width="0.6"/>
<path d="M308.1 109.11 h1.7" stroke="#666666" stroke-width="0.6"/>
<path d="M308.1 113.4 h1.7" stroke="#666666" stroke-width="0.6"/>
<path d="M308.1 117.69 h1.7" stroke="#666666" stroke-width="0.6"/>
<path d="M308.1 121.98 h1.7" stroke="#666666" stroke-width="0.6"/>
<path d="M308.1 126.27 h1.7" stroke="#666666" stroke-width="0.6"/>
<path d="M308.1 130.56 h1.7" stroke="#666666" stroke-width="0.6"/>
<path d="M308.1 134.85 h1.7" stroke="#666666" stroke-width="0.6"/>
<path d="M308.1 139.14 h1.7" stroke="#666666" stroke-width="0.6"/>
<path d="M341.7 62.2L342.1 61.3L342.6 60.4L343.1 59.5L343.6 58.6L344.1 57.7L344.6 56.9L345.1 56L345.7 55.2L346.3 54.4L346.9 53.6L347.5 52.8L348.2 52L348.9 51.3L349.6 50.6L350.3 49.9L351 49.2L351.8 48.5L352.6 47.9L353.4 47.3L354.2 46.7L355 46.1L355.9 45.6L356.7 45L357.6 44.5L358.5 44L359.3 43.5L360.2 43L361.1 42.5L362 42.1L362.9 41.7L363.9 41.3L364.8 40.9L365.8 40.6L366.7 40.3L367.7 40L368.6 39.7L369.6 39.4L370.6 39.2L371.6 38.9L372.6 38.7L373.5 38.5L374.5 38.2L375.5 38L376.5 37.8L377.5 37.5L378.4 37.3L379.4 37.1L380.4 36.9L381.4 36.7L382.4 36.5L383.4 36.4L384.4 36.2L385.4 36L386.4 35.8L387.4 35.7L388.3 35.5L389.3 35.3L390.3 35.1L391.3 34.9L392.3 34.8L393.3 34.6L394.3 34.4L395.3 34.2L396.3 34.1L397.3 33.9L398.3 33.8L399.3 33.7L400.3 33.5L401.3 33.4L402.3 33.3L403.3 33.2L404.3 33.1L405.3 32.9L406.3 32.8L407.3 32.7L408.3 32.5L409.3 32.4L410.3 32.3L411.3 32.2L412.3 32.1L413.3 32L414.3 31.9L415.3 31.8L416.3 31.8L417.3 31.7L418.3 31.7L419.3 31.6L420.3 31.6L421.3 31.6L422.3 31.5L423.3 31.5L424.4 31.4L425.4 31.4L426.4 31.3L427.4 31.3L428.4 31.2L429.4 31.2L430.4 31.2L431.4 31.1L432.4 31.1L433.4 31L434.4 31L435.4 30.9L436.4 30.9L437.4 30.8L438.4 30.8L439.5 30.8L440.5 30.7L441.5 30.7L442.5 30.6L443.5 30.6L444.5 30.6L445.5 30.5L446.5 30.5L447.5 30.5L448.5 30.4L449.5 30.4L450.5 30.4L451.5 30.4L452.5 30.3L453.6 30.3L454.6 30.3L455.6 30.3L456.6 30.2L457.6 30.2L458.6 30.2L459.6 30.2L460.6 30.2L461.6 30.1L462.6 30.1L463.6 30.1L464.6 30.1L465.6 30.1L466.6 30L467.7 30L468.7 30L469.7 30L470.7 30L471.7 30L472.7 29.9L473.7 29.9L474.7 29.9L475.7 29.9L476.7 29.9L477.7 29.9L478.7 29.8L479.7 29.8L480.8 29.8L481.8 29.8L482.8 29.8L483.8 29.8L484.8 29.7L485.8 29.7L486.8 29.7L487.8 29.7L488.8 29.7L489.8 29.7L490.8 29.6L491.8 29.6L492.8 29.6L493.9 29.6L494.9 29.6L495.9 29.6L496.9 29.5L497.9 29.5L498.9 29.5L499.9 29.5L500.9 29.5L501.9 29.5L502.9 29.5L503.9 29.4L504.9 29.4L505.9 29.4L506.9 29.4L508 29.4L509 29.4L510 29.4L511 29.3L512 29.3L513 29.3L514 29.3M341.6 62.2L341.6 85" fill="none" stroke="#EB6235" stroke-width="1.25" stroke-linejoin="round"/>
<path d="M341.7 62.2h0M345.2 55.9h0M348.4 51.8h0M351.4 48.9h0M357.5 44.6h0M363.1 41.6h0M368.6 39.7h0M373.9 38.4h0M388.4 35.5h0M389.6 35.2h0M390.6 35.1h0M391.8 34.9h0M393 34.6h0M394 34.5h0M395.1 34.3h0M396.1 34.1h0M397.1 34h0M398.3 33.8h0M399.3 33.7h0M400.3 33.5h0M401.5 33.4h0M402.5 33.3h0M403.5 33.2h0M404.5 33h0M405.5 32.9h0M413 32h0M420.4 31.6h0M427.2 31.3h0M433.7 31h0M439.9 30.7h0M445.7 30.5h0M451.3 30.4h0M456.7 30.2h0M461.7 30.1h0M466.7 30h0M471.5 30h0M475.9 29.9h0M480.3 29.8h0M484.7 29.7h0M488.8 29.7h0M492.8 29.6h0M496.6 29.6h0M500.4 29.5h0M504 29.4h0M507.4 29.4h0M510.8 29.3h0M514 29.3h0" stroke="#EB6235" stroke-width="4.6" stroke-linecap="round" fill="none"/>
<path d="M341.5 85L341.8 86L342.2 86.9L342.6 87.8L343 88.8L343.4 89.7L343.9 90.6L344.4 91.4L344.9 92.3L345.4 93.1L346 94L346.6 94.8L347.2 95.6L347.8 96.4L348.5 97.2L349.1 98L349.7 98.7L350.4 99.5L351 100.2L351.7 101L352.5 101.6L353.2 102.3L354 103L354.8 103.6L355.5 104.3L356.3 104.9L357.1 105.5L357.9 106.2L358.7 106.8L359.4 107.5L360.2 108.1L361 108.8L361.8 109.4L362.6 110L363.4 110.5L364.3 111.1L365.1 111.6L366 112.1L366.9 112.6L367.7 113.1L368.6 113.6L369.5 114.1L370.4 114.5L371.3 115L372.2 115.4L373.1 115.8L374 116.3L374.9 116.8L375.8 117.3L376.6 117.8L377.5 118.4L378.4 118.8L379.3 119.3L380.2 119.7L381.1 120.1L382 120.5L383 120.9L383.9 121.2L384.8 121.6L385.8 121.9L386.7 122.3L387.7 122.6L388.6 123L389.6 123.3L390.5 123.6L391.5 123.9L392.5 124.2L393.4 124.5L394.4 124.8L395.4 125L396.3 125.3L397.3 125.6L398.3 125.8L399.2 126.1L400.2 126.3L401.2 126.6L402.2 126.8L403.1 127.1L404.1 127.3L405.1 127.6L406.1 127.8L407 128.1L408 128.3L409 128.5L410 128.8L411 129L411.9 129.2L412.9 129.5L413.9 129.7L414.9 129.9L415.9 130.1L416.8 130.4L417.8 130.6L418.8 130.8L419.8 131L420.8 131.2L421.8 131.4L422.8 131.6L423.7 131.8L424.7 131.9L425.7 132.1L426.7 132.3L427.7 132.4L428.7 132.6L429.7 132.7L430.7 132.8L431.7 133L432.7 133.1L433.7 133.2L434.7 133.3L435.7 133.5L436.7 133.6L437.7 133.7L438.7 133.8L439.7 133.9L440.7 134L441.7 134.1L442.7 134.3L443.7 134.4L444.7 134.5L445.7 134.6L446.7 134.7L447.7 134.8L448.7 134.9L449.7 134.9L450.7 135L451.7 135.1L452.7 135.2L453.7 135.3L454.7 135.4L455.7 135.5L456.7 135.6L457.7 135.6L458.7 135.7L459.7 135.8L460.7 135.9L461.7 135.9L462.7 136L463.7 136.1L464.7 136.1L465.7 136.2L466.8 136.2L467.8 136.3L468.8 136.4L469.8 136.4L470.8 136.5L471.8 136.5L472.8 136.6L473.8 136.6L474.8 136.7L475.8 136.7L476.8 136.8L477.8 136.8L478.8 136.8L479.8 136.9L480.8 136.9L481.8 137L482.8 137L483.8 137L484.8 137.1L485.8 137.1L486.9 137.2L487.9 137.2L488.9 137.2L489.9 137.3L490.9 137.3L491.9 137.4L492.9 137.4L493.9 137.5L494.9 137.5L495.9 137.5L496.9 137.6L497.9 137.6L498.9 137.7L499.9 137.7L500.9 137.7L501.9 137.7L502.9 137.8L503.9 137.8L504.9 137.8L506 137.8L507 137.9L508 137.9L509 137.9L510 137.9L511 138L512 138L513 138L514 138" fill="none" stroke="#EB6235" stroke-width="1.25" stroke-linejoin="round"/>
<path d="M341.5 85h0M341.9 86.2h0M345.2 92.8h0M348.4 97.1h0M351.5 100.8h0M357.5 105.9h0M363.1 110.3h0M368.6 113.6h0M374 116.3h0M388.4 122.9h0M389.5 123.3h0M390.7 123.6h0M391.8 124h0M393 124.3h0M393.9 124.6h0M395.1 125h0M396.2 125.3h0M397.2 125.5h0M398.4 125.8h0M399.3 126.1h0M400.3 126.3h0M401.5 126.6h0M402.4 126.9h0M403.4 127.1h0M404.4 127.4h0M405.4 127.6h0M413.1 129.5h0M420.4 131.1h0M427.3 132.3h0M433.6 133.2h0M439.8 133.9h0M445.8 134.6h0M451.4 135.1h0M456.8 135.6h0M461.8 135.9h0M466.8 136.2h0M471.4 136.5h0M476 136.7h0M480.4 136.9h0M484.6 137.1h0M488.8 137.2h0M492.8 137.4h0M496.6 137.6h0M500.4 137.7h0M504 137.8h0M507.4 137.9h0M510.8 137.9h0M514 138h0" stroke="#EB6235" stroke-width="4.6" stroke-linecap="round" fill="none"/>
<path d="M388.2 34.8L389.2 34.5L390.1 34.2L391.1 33.8L392.1 33.6L393 33.3L394 33L395 32.8L396 32.6L397 32.4L398 32.2L399 32.1L400 31.9L401 31.8L402 31.6L403 31.5L404 31.4L405 31.3L406 31.2L407 31L408 30.9L409 30.8L410 30.7L411 30.6L412 30.5L413 30.5L414 30.4L415 30.3L416 30.3L417 30.2L418.1 30.1L419.1 30.1L420.1 30L421.1 30L422.1 29.9L423.1 29.9L424.1 29.8L425.1 29.8L426.1 29.7L427.1 29.7L428.1 29.7L429.2 29.6L430.2 29.6L431.2 29.5L432.2 29.5L433.2 29.4L434.2 29.4L435.2 29.4L436.2 29.3L437.2 29.3L438.2 29.3L439.2 29.2L440.3 29.2L441.3 29.2L442.3 29.1L443.3 29.1L444.3 29.1L445.3 29L446.3 29L447.3 29L448.3 28.9L449.3 28.9L450.4 28.9L451.4 28.9L452.4 28.8L453.4 28.8L454.4 28.8L455.4 28.8L456.4 28.7L457.4 28.7L458.4 28.7L459.4 28.7L460.5 28.6L461.5 28.6L462.5 28.6L463.5 28.6L464.5 28.6L465.5 28.5L466.5 28.5L467.5 28.5L468.5 28.5L469.5 28.5L470.6 28.5L471.6 28.4L472.6 28.4L473.6 28.4L474.6 28.4L475.6 28.4L476.6 28.4L477.6 28.4L478.6 28.4L479.7 28.3L480.7 28.3L481.7 28.3L482.7 28.3L483.7 28.3L484.7 28.3L485.7 28.3L486.7 28.3L487.7 28.3L488.7 28.2L489.8 28.2L490.8 28.2L491.8 28.2L492.8 28.2L493.8 28.2L494.8 28.2L495.8 28.2L496.8 28.2L497.8 28.2L498.8 28.2L499.9 28.2L500.9 28.2L501.9 28.2L502.9 28.2L503.9 28.2L504.9 28.2L505.9 28.2L506.9 28.2L507.9 28.2L508.9 28.2L510 28.2L511 28.2L512 28.2L513 28.2L514 28.2M388.2 49.8L389.1 50.2L390.1 50.6L391 51L391.9 51.4L392.9 51.8L393.8 52.2L394.7 52.6L395.6 53L396.6 53.4L397.5 53.8L398.4 54.2L399.3 54.6L400.3 55L401.2 55.4L402.1 55.8L403 56.2L404 56.6L404.9 57L405.9 57.3L406.8 57.7L407.8 58L408.7 58.3L409.7 58.7L410.7 59L411.6 59.3L412.6 59.6L413.6 59.8L414.5 60.1L415.5 60.3L416.5 60.6L417.5 60.8L418.5 61.1L419.5 61.3L420.4 61.5L421.4 61.7L422.4 62L423.4 62.2L424.4 62.4L425.4 62.6L426.4 62.8L427.4 62.9L428.4 63.1L429.4 63.3L430.4 63.4L431.4 63.6L432.4 63.7L433.4 63.9L434.4 64L435.4 64.1L436.4 64.3L437.4 64.4L438.4 64.5L439.4 64.6L440.4 64.8L441.4 64.9L442.4 65L443.4 65.1L444.4 65.3L445.4 65.4L446.4 65.5L447.4 65.6L448.4 65.7L449.4 65.9L450.4 66L451.4 66.1L452.4 66.2L453.4 66.3L454.4 66.4L455.5 66.5L456.5 66.7L457.5 66.8L458.5 66.9L459.5 67L460.5 67.1L461.5 67.1L462.5 67.2L463.5 67.3L464.5 67.4L465.5 67.4L466.5 67.5L467.5 67.5L468.6 67.6L469.6 67.6L470.6 67.7L471.6 67.7L472.6 67.8L473.6 67.8L474.6 67.9L475.6 68L476.6 68L477.6 68.1L478.6 68.2L479.7 68.2L480.7 68.3L481.7 68.4L482.7 68.4L483.7 68.5L484.7 68.6L485.7 68.6L486.7 68.7L487.7 68.7L488.7 68.8L489.7 68.8L490.8 68.9L491.8 68.9L492.8 68.9L493.8 69L494.8 69L495.8 69.1L496.8 69.1L497.8 69.1L498.8 69.2L499.9 69.2L500.9 69.3L501.9 69.3L502.9 69.3L503.9 69.4L504.9 69.4L505.9 69.4L506.9 69.5L507.9 69.5L508.9 69.5L510 69.6L511 69.6L512 69.6L513 69.7L514 69.7M388.2 34.8L388.2 49.8" fill="none" stroke="#8FB032" stroke-width="1.25" stroke-linejoin="round"/>
<path d="M388.2 34.8h0M397.3 32.3h0M405.4 31.2h0M413.2 30.4h0M420.4 30h0M427.2 29.7h0M433.6 29.4h0M439.8 29.2h0M445.7 29h0M451.3 28.9h0M456.7 28.7h0M461.9 28.6h0M466.7 28.5h0M471.5 28.4h0M475.9 28.4h0M480.3 28.3h0M484.7 28.3h0M488.7 28.2h0M492.8 28.2h0M496.6 28.2h0M500.4 28.2h0M504 28.2h0M507.4 28.2h0M510.8 28.2h0M514 28.2h0M388.2 49.8h0M397.2 53.6h0M405.5 57.2h0M413.1 59.7h0M420.3 61.5h0M427.2 62.9h0M433.7 63.9h0M439.9 64.7h0M445.6 65.4h0M451.2 66.1h0M456.6 66.7h0M461.8 67.2h0M466.8 67.5h0M471.4 67.7h0M476 68h0M480.4 68.3h0M484.6 68.6h0M488.8 68.8h0M492.8 68.9h0M496.6 69.1h0M500.4 69.2h0M504 69.4h0M507.4 69.5h0M510.8 69.6h0M514 69.7h0" stroke="#8FB032" stroke-width="4.6" stroke-linecap="square" fill="none"/>
<text x="332.7" y="13.9" font-size="11.65" fill="#0a0aff" text-anchor="start">A1–BWSt4: <tspan font-style="italic">M</tspan>=16, <tspan font-style="italic">R</tspan>=1.2, <tspan font-style="italic">q</tspan>=2</text>
<text x="511.8" y="15.6" font-size="11.8" fill="#1a1a1a" text-anchor="start">(b)</text>
<text x="308.8" y="15" font-size="12.5" fill="#1a1a1a" text-anchor="middle" font-style="italic">β</text>
<text x="520" y="147.5" font-size="12.3" fill="#1a1a1a" font-style="italic">r<tspan font-size="8.2" dy="2.2">w</tspan><tspan dy="-2.2" font-style="normal">/</tspan>a<tspan font-size="8.2" dy="2.4" font-style="normal">0</tspan></text>
<path d="M584.9 26.9 H797.4 L797.4 27.2 L796.4 27.2 L795.4 27.2 L794.4 27.2 L793.4 27.2 L792.4 27.2 L791.4 27.2 L790.4 27.2 L789.4 27.2 L788.4 27.2 L787.4 27.2 L786.4 27.2 L785.4 27.2 L784.4 27.3 L783.4 27.3 L782.3 27.3 L781.3 27.3 L780.3 27.3 L779.3 27.3 L778.3 27.3 L777.3 27.3 L776.3 27.3 L775.3 27.3 L774.3 27.3 L773.3 27.3 L772.3 27.3 L771.3 27.3 L770.3 27.3 L769.3 27.3 L768.3 27.3 L767.3 27.4 L766.3 27.4 L765.3 27.4 L764.3 27.4 L763.3 27.4 L762.3 27.4 L761.3 27.4 L760.3 27.4 L759.3 27.4 L758.3 27.4 L757.3 27.4 L756.3 27.4 L755.3 27.4 L754.2 27.4 L753.2 27.4 L752.2 27.5 L751.2 27.5 L750.2 27.5 L749.2 27.5 L748.2 27.5 L747.2 27.5 L746.2 27.5 L745.2 27.5 L744.2 27.5 L743.2 27.5 L742.2 27.5 L741.2 27.5 L740.2 27.6 L739.2 27.6 L738.2 27.6 L737.2 27.6 L736.2 27.6 L735.2 27.6 L734.2 27.6 L733.2 27.6 L732.2 27.6 L731.2 27.7 L730.2 27.7 L729.2 27.7 L728.2 27.7 L727.2 27.7 L726.2 27.7 L725.1 27.7 L724.1 27.7 L723.1 27.8 L722.1 27.8 L721.1 27.8 L720.1 27.8 L719.1 27.8 L718.1 27.8 L717.1 27.8 L716.1 27.9 L715.1 27.9 L714.1 27.9 L713.1 27.9 L712.1 27.9 L711.1 28 L710.1 28 L709.1 28 L708.1 28 L707.1 28 L706.1 28.1 L705.1 28.1 L704.1 28.1 L703.1 28.2 L702.1 28.2 L701.1 28.2 L700.1 28.2 L699.1 28.3 L698.1 28.3 L697.1 28.3 L696.1 28.4 L695 28.4 L694 28.4 L693 28.5 L692 28.5 L691 28.5 L690 28.6 L689 28.6 L688 28.7 L687 28.7 L686 28.7 L685 28.8 L684 28.9 L683 28.9 L682 29 L681 29 L680 29.1 L679 29.2 L678 29.2 L677 29.3 L676 29.4 L675 29.5 L674 29.5 L673 29.6 L672 29.7 L671 29.8 L670 29.8 L669 29.9 L668 30 L667 30.1 L666 30.2 L665 30.3 L664 30.4 L663 30.5 L662 30.6 L661 30.7 L660 30.8 L659 31 L658 31.1 L657.1 31.3 L656.1 31.5 L655.1 31.7 L654.1 31.9 L653.1 32.1 L652.1 32.3 L651.1 32.5 L650.1 32.7 L649.2 32.9 L648.2 33.1 L647.2 33.3 L646.2 33.5 L645.3 33.8 L644.3 34 L643.3 34.3 L642.3 34.6 L641.4 34.8 L640.4 35.1 L639.5 35.4 L638.5 35.7 L637.5 36 L636.6 36.3 L635.6 36.6 L634.7 36.9 L633.7 37.2 L632.8 37.6 L631.8 37.9 L630.9 38.2 L629.9 38.6 L629 39 L628.1 39.4 L627.2 39.8 L626.3 40.2 L625.4 40.7 L624.5 41.2 L623.7 41.8 L622.8 42.3 L622 42.9 L621.2 43.4 L620.3 44 L619.5 44.6 L618.7 45.2 L617.9 45.8 L617.2 46.4 L616.4 47.1 L615.7 47.8 L615 48.5 L614.3 49.2 L613.6 49.9 L612.8 50.6 L612.1 51.3 L611.4 52.1 L610.8 52.8 L610.1 53.6 L609.5 54.4 L608.9 55.2 L608.3 56.1 L607.8 56.9 L607.4 57.8 L607 58.7 L606.6 59.6 L606.2 60.5 L605.9 61.5 L605.5 62.4 L605.3 63.4 L605 64.4 L604.8 65.4 L604.9 85 L605.1 86 L605.4 87 L605.6 88 L605.9 89 L606.2 89.9 L606.6 90.9 L606.9 91.8 L607.3 92.7 L607.7 93.7 L608.1 94.6 L608.5 95.5 L608.9 96.3 L609.4 97.2 L609.9 98.1 L610.4 98.9 L610.9 99.8 L611.5 100.6 L612.1 101.4 L612.8 102.2 L613.4 103 L614 103.8 L614.7 104.5 L615.4 105.2 L616.1 105.9 L616.8 106.6 L617.5 107.3 L618.2 108.1 L619 108.8 L619.7 109.5 L620.4 110.2 L621.1 110.9 L621.9 111.5 L622.7 112.1 L623.5 112.7 L624.3 113.3 L625.2 113.8 L626 114.4 L626.8 114.9 L627.7 115.5 L628.5 116 L629.3 116.6 L630.2 117.1 L631 117.7 L631.9 118.2 L632.7 118.8 L633.5 119.3 L634.4 119.9 L635.3 120.4 L636.1 120.9 L637 121.3 L637.9 121.7 L638.8 122.1 L639.8 122.5 L640.7 122.9 L641.6 123.3 L642.6 123.7 L643.5 124 L644.4 124.4 L645.4 124.7 L646.3 125.1 L647.3 125.4 L648.2 125.7 L649.2 126.1 L650.1 126.4 L651.1 126.6 L652 126.9 L653 127.2 L654 127.5 L654.9 127.8 L655.9 128.1 L656.8 128.4 L657.8 128.7 L658.7 129 L659.7 129.3 L660.7 129.5 L661.6 129.8 L662.6 130 L663.6 130.2 L664.6 130.4 L665.6 130.6 L666.6 130.8 L667.5 130.9 L668.5 131.1 L669.5 131.2 L670.5 131.4 L671.5 131.6 L672.5 131.8 L673.5 131.9 L674.5 132.1 L675.4 132.3 L676.4 132.5 L677.4 132.6 L678.4 132.8 L679.4 132.9 L680.4 133.1 L681.4 133.2 L682.4 133.4 L683.4 133.5 L684.4 133.7 L685.4 133.8 L686.3 134 L687.3 134.1 L688.3 134.3 L689.3 134.4 L690.3 134.6 L691.3 134.7 L692.3 134.8 L693.3 135 L694.3 135.1 L695.3 135.2 L696.3 135.3 L697.3 135.4 L698.3 135.5 L699.3 135.7 L700.3 135.8 L701.3 135.9 L702.3 135.9 L703.3 136 L704.3 136.1 L705.3 136.2 L706.3 136.3 L707.3 136.4 L708.3 136.5 L709.3 136.5 L710.3 136.6 L711.3 136.7 L712.3 136.7 L713.3 136.8 L714.3 136.9 L715.3 136.9 L716.3 137 L717.3 137 L718.3 137.1 L719.3 137.1 L720.3 137.2 L721.3 137.3 L722.3 137.3 L723.3 137.4 L724.3 137.4 L725.3 137.5 L726.3 137.5 L727.3 137.6 L728.3 137.6 L729.3 137.7 L730.3 137.7 L731.3 137.7 L732.3 137.8 L733.3 137.8 L734.3 137.9 L735.3 137.9 L736.3 138 L737.3 138 L738.3 138.1 L739.3 138.1 L740.3 138.1 L741.3 138.2 L742.3 138.2 L743.3 138.3 L744.3 138.3 L745.3 138.3 L746.3 138.4 L747.3 138.4 L748.3 138.4 L749.3 138.5 L750.3 138.5 L751.3 138.6 L752.3 138.6 L753.3 138.6 L754.3 138.7 L755.3 138.7 L756.3 138.7 L757.3 138.8 L758.3 138.8 L759.3 138.8 L760.3 138.9 L761.3 138.9 L762.3 139 L763.3 139 L764.3 139 L765.3 139.1 L766.3 139.1 L767.3 139.1 L768.3 139.2 L769.3 139.2 L770.3 139.2 L771.3 139.3 L772.3 139.3 L773.3 139.3 L774.3 139.4 L775.3 139.4 L776.4 139.4 L777.4 139.4 L778.4 139.5 L779.4 139.5 L780.4 139.5 L781.4 139.5 L782.4 139.5 L783.4 139.5 L784.4 139.6 L785.4 139.6 L786.4 139.6 L787.4 139.6 L788.4 139.6 L789.4 139.6 L790.4 139.6 L791.4 139.7 L792.4 139.7 L793.4 139.7 L794.4 139.7 L795.4 139.7 L796.4 139.7 L797.4 139.7 L797.4 145.2 L584.9 145.2 L584.9 26.9 Z" fill="#FBE0D7"/><path d="M604.79 26.9 V145.2" stroke="#F8D8CE" stroke-width="0.7"/>
<path d="M584.9 20.3 V150.2" stroke="#666666" stroke-width="1" fill="none"/>
<path d="M584.9 145.2 H797.7" stroke="#666666" stroke-width="1" fill="none"/>
<path d="M595.34 145.2 v-2.9" stroke="#666666" stroke-width="0.8"/>
<text x="594.84" y="157.8" font-size="11.0" fill="#1a1a1a" text-anchor="middle">2</text>
<path d="M636.13 145.2 v-2.9" stroke="#666666" stroke-width="0.8"/>
<text x="635.63" y="157.8" font-size="11.0" fill="#1a1a1a" text-anchor="middle">3</text>
<path d="M665.07 145.2 v-2.9" stroke="#666666" stroke-width="0.8"/>
<text x="664.57" y="157.8" font-size="11.0" fill="#1a1a1a" text-anchor="middle">4</text>
<path d="M687.52 145.2 v-2.9" stroke="#666666" stroke-width="0.8"/>
<text x="687.02" y="157.8" font-size="11.0" fill="#1a1a1a" text-anchor="middle">5</text>
<path d="M705.86 145.2 v-2.9" stroke="#666666" stroke-width="0.8"/>
<text x="705.36" y="157.8" font-size="11.0" fill="#1a1a1a" text-anchor="middle">6</text>
<path d="M734.8 145.2 v-2.9" stroke="#666666" stroke-width="0.8"/>
<text x="734.3" y="157.8" font-size="11.0" fill="#1a1a1a" text-anchor="middle">8</text>
<path d="M757.25 145.2 v-2.9" stroke="#666666" stroke-width="0.8"/>
<text x="756.75" y="157.8" font-size="11.0" fill="#1a1a1a" text-anchor="middle">10</text>
<path d="M791.1 145.2 v-2.9" stroke="#666666" stroke-width="0.8"/>
<text x="790.6" y="157.8" font-size="11.0" fill="#1a1a1a" text-anchor="middle">14</text>
<path d="M617.79 145.2 v-1.7" stroke="#666666" stroke-width="0.6"/>
<path d="M651.64 145.2 v-1.7" stroke="#666666" stroke-width="0.6"/>
<path d="M676.92 145.2 v-1.7" stroke="#666666" stroke-width="0.6"/>
<path d="M697.11 145.2 v-1.7" stroke="#666666" stroke-width="0.6"/>
<path d="M713.91 145.2 v-1.7" stroke="#666666" stroke-width="0.6"/>
<path d="M721.37 145.2 v-1.7" stroke="#666666" stroke-width="0.6"/>
<path d="M728.31 145.2 v-1.7" stroke="#666666" stroke-width="0.6"/>
<path d="M740.9 145.2 v-1.7" stroke="#666666" stroke-width="0.6"/>
<path d="M746.65 145.2 v-1.7" stroke="#666666" stroke-width="0.6"/>
<path d="M752.09 145.2 v-1.7" stroke="#666666" stroke-width="0.6"/>
<path d="M766.84 145.2 v-1.7" stroke="#666666" stroke-width="0.6"/>
<path d="M775.59 145.2 v-1.7" stroke="#666666" stroke-width="0.6"/>
<path d="M783.64 145.2 v-1.7" stroke="#666666" stroke-width="0.6"/>
<path d="M584.9 26.3 h2.9" stroke="#666666" stroke-width="0.8"/>
<text x="582.3" y="30.54" font-size="11.0" fill="#1a1a1a" text-anchor="end">1.0</text>
<path d="M584.9 57.8 h2.9" stroke="#666666" stroke-width="0.8"/>
<text x="582.3" y="62.04" font-size="11.0" fill="#1a1a1a" text-anchor="end">0.9</text>
<path d="M584.9 89.3 h2.9" stroke="#666666" stroke-width="0.8"/>
<text x="582.3" y="93.54" font-size="11.0" fill="#1a1a1a" text-anchor="end">0.8</text>
<path d="M584.9 120.8 h2.9" stroke="#666666" stroke-width="0.8"/>
<text x="582.3" y="125.04" font-size="11.0" fill="#1a1a1a" text-anchor="end">0.7</text>
<path d="M584.9 26.3 h1.7" stroke="#666666" stroke-width="0.6"/>
<path d="M584.9 32.6 h1.7" stroke="#666666" stroke-width="0.6"/>
<path d="M584.9 38.9 h1.7" stroke="#666666" stroke-width="0.6"/>
<path d="M584.9 45.2 h1.7" stroke="#666666" stroke-width="0.6"/>
<path d="M584.9 51.5 h1.7" stroke="#666666" stroke-width="0.6"/>
<path d="M584.9 57.8 h1.7" stroke="#666666" stroke-width="0.6"/>
<path d="M584.9 64.1 h1.7" stroke="#666666" stroke-width="0.6"/>
<path d="M584.9 70.4 h1.7" stroke="#666666" stroke-width="0.6"/>
<path d="M584.9 76.7 h1.7" stroke="#666666" stroke-width="0.6"/>
<path d="M584.9 83 h1.7" stroke="#666666" stroke-width="0.6"/>
<path d="M584.9 89.3 h1.7" stroke="#666666" stroke-width="0.6"/>
<path d="M584.9 95.6 h1.7" stroke="#666666" stroke-width="0.6"/>
<path d="M584.9 101.9 h1.7" stroke="#666666" stroke-width="0.6"/>
<path d="M584.9 108.2 h1.7" stroke="#666666" stroke-width="0.6"/>
<path d="M584.9 114.5 h1.7" stroke="#666666" stroke-width="0.6"/>
<path d="M584.9 120.8 h1.7" stroke="#666666" stroke-width="0.6"/>
<path d="M584.9 127.1 h1.7" stroke="#666666" stroke-width="0.6"/>
<path d="M584.9 133.4 h1.7" stroke="#666666" stroke-width="0.6"/>
<path d="M584.9 139.7 h1.7" stroke="#666666" stroke-width="0.6"/>
<path d="M604.7 65.9L604.9 64.9L605.1 63.9L605.4 62.9L605.7 61.9L606 61L606.4 60L606.8 59.1L607.2 58.2L607.6 57.3L608.1 56.5L608.6 55.6L609.2 54.8L609.8 54L610.5 53.2L611.1 52.4L611.8 51.7L612.5 51L613.2 50.2L614 49.5L614.7 48.8L615.4 48.1L616.1 47.4L616.8 46.7L617.6 46.1L618.4 45.5L619.2 44.8L620 44.2L620.8 43.7L621.7 43.1L622.5 42.5L623.3 42L624.2 41.4L625 40.9L625.9 40.4L626.8 39.9L627.7 39.5L628.6 39.1L629.6 38.7L630.5 38.4L631.5 38L632.4 37.7L633.3 37.4L634.3 37L635.2 36.7L636.2 36.4L637.2 36.1L638.1 35.8L639.1 35.5L640 35.2L641 34.9L642 34.7L643 34.4L643.9 34.1L644.9 33.9L645.9 33.6L646.9 33.4L647.8 33.2L648.8 32.9L649.8 32.7L650.8 32.5L651.8 32.3L652.8 32.1L653.7 31.9L654.7 31.7L655.7 31.6L656.7 31.4L657.7 31.2L658.7 31L659.7 30.9L660.7 30.8L661.7 30.6L662.7 30.5L663.7 30.4L664.7 30.3L665.7 30.2L666.7 30.1L667.7 30L668.7 29.9L669.7 29.9L670.7 29.8L671.7 29.7L672.7 29.6L673.7 29.5L674.7 29.5L675.7 29.4L676.7 29.3L677.7 29.3L678.7 29.2L679.7 29.1L680.7 29.1L681.7 29L682.7 28.9L683.7 28.9L684.8 28.8L685.8 28.8L686.8 28.7L687.8 28.7L688.8 28.6L689.8 28.6L690.8 28.5L691.8 28.5L692.8 28.5L693.8 28.4L694.8 28.4L695.8 28.4L696.8 28.3L697.8 28.3L698.8 28.3L699.8 28.2L700.8 28.2L701.8 28.2L702.8 28.2L703.8 28.1L704.9 28.1L705.9 28.1L706.9 28.1L707.9 28L708.9 28L709.9 28L710.9 28L711.9 27.9L712.9 27.9L713.9 27.9L714.9 27.9L715.9 27.9L716.9 27.8L717.9 27.8L718.9 27.8L719.9 27.8L720.9 27.8L722 27.8L723 27.8L724 27.7L725 27.7L726 27.7L727 27.7L728 27.7L729 27.7L730 27.7L731 27.7L732 27.6L733 27.6L734 27.6L735 27.6L736 27.6L737 27.6L738 27.6L739.1 27.6L740.1 27.6L741.1 27.6L742.1 27.5L743.1 27.5L744.1 27.5L745.1 27.5L746.1 27.5L747.1 27.5L748.1 27.5L749.1 27.5L750.1 27.5L751.1 27.5L752.1 27.5L753.1 27.4L754.1 27.4L755.2 27.4L756.2 27.4L757.2 27.4L758.2 27.4L759.2 27.4L760.2 27.4L761.2 27.4L762.2 27.4L763.2 27.4L764.2 27.4L765.2 27.4L766.2 27.4L767.2 27.4L768.2 27.3L769.2 27.3L770.2 27.3L771.2 27.3L772.3 27.3L773.3 27.3L774.3 27.3L775.3 27.3L776.3 27.3L777.3 27.3L778.3 27.3L779.3 27.3L780.3 27.3L781.3 27.3L782.3 27.3L783.3 27.3L784.3 27.3L785.3 27.2L786.3 27.2L787.3 27.2L788.3 27.2L789.4 27.2L790.4 27.2L791.4 27.2L792.4 27.2L793.4 27.2L794.4 27.2L795.4 27.2L796.4 27.2L797.4 27.2M604.9 85L605.1 86L605.4 87L605.6 88L605.9 89L606.2 89.9L606.6 90.9L606.9 91.8L607.3 92.8L607.7 93.7L608.1 94.6L608.5 95.5L609 96.4L609.4 97.3L609.9 98.1L610.4 99L611 99.8L611.6 100.7L612.2 101.5L612.8 102.3L613.4 103.1L614.1 103.8L614.8 104.6L615.5 105.3L616.2 106L616.9 106.7L617.6 107.4L618.3 108.1L619.1 108.9L619.8 109.6L620.5 110.3L621.2 110.9L622 111.6L622.8 112.2L623.6 112.8L624.5 113.3L625.3 113.9L626.1 114.5L627 115L627.8 115.6L628.7 116.1L629.5 116.7L630.3 117.2L631.2 117.8L632 118.3L632.9 118.9L633.7 119.4L634.6 120L635.5 120.5L636.3 121L637.2 121.4L638.1 121.8L639.1 122.2L640 122.6L640.9 123L641.9 123.4L642.8 123.8L643.7 124.1L644.7 124.5L645.6 124.8L646.6 125.2L647.5 125.5L648.5 125.8L649.4 126.1L650.4 126.4L651.4 126.7L652.3 127L653.3 127.3L654.3 127.6L655.2 127.9L656.2 128.2L657.1 128.5L658.1 128.8L659.1 129.1L660 129.4L661 129.6L662 129.9L663 130.1L664 130.3L664.9 130.5L665.9 130.7L666.9 130.8L667.9 131L668.9 131.1L669.9 131.3L670.9 131.5L671.9 131.7L672.9 131.8L673.9 132L674.9 132.2L675.9 132.4L676.9 132.5L677.9 132.7L678.9 132.8L679.8 133L680.8 133.2L681.8 133.3L682.8 133.5L683.8 133.6L684.8 133.7L685.8 133.9L686.8 134L687.8 134.2L688.8 134.3L689.8 134.5L690.8 134.6L691.8 134.8L692.8 134.9L693.8 135L694.8 135.2L695.8 135.3L696.8 135.4L697.8 135.5L698.8 135.6L699.8 135.7L700.8 135.8L701.8 135.9L702.8 136L703.8 136.1L704.8 136.2L705.8 136.3L706.8 136.3L707.8 136.4L708.8 136.5L709.8 136.6L710.8 136.6L711.8 136.7L712.9 136.8L713.9 136.8L714.9 136.9L715.9 137L716.9 137L717.9 137.1L718.9 137.1L719.9 137.2L720.9 137.2L721.9 137.3L722.9 137.3L723.9 137.4L724.9 137.4L725.9 137.5L726.9 137.5L727.9 137.6L728.9 137.6L730 137.7L731 137.7L732 137.8L733 137.8L734 137.9L735 137.9L736 138L737 138L738 138L739 138.1L740 138.1L741 138.2L742 138.2L743 138.2L744 138.3L745 138.3L746.1 138.4L747.1 138.4L748.1 138.4L749.1 138.5L750.1 138.5L751.1 138.5L752.1 138.6L753.1 138.6L754.1 138.7L755.1 138.7L756.1 138.7L757.1 138.8L758.1 138.8L759.1 138.8L760.1 138.9L761.2 138.9L762.2 138.9L763.2 139L764.2 139L765.2 139.1L766.2 139.1L767.2 139.1L768.2 139.2L769.2 139.2L770.2 139.2L771.2 139.3L772.2 139.3L773.2 139.3L774.2 139.4L775.2 139.4L776.3 139.4L777.3 139.4L778.3 139.5L779.3 139.5L780.3 139.5L781.3 139.5L782.3 139.5L783.3 139.5L784.3 139.6L785.3 139.6L786.3 139.6L787.3 139.6L788.3 139.6L789.3 139.6L790.3 139.6L791.4 139.7L792.4 139.7L793.4 139.7L794.4 139.7L795.4 139.7L796.4 139.7L797.4 139.7M604.8 65.9L604.8 85" fill="none" stroke="#EB6235" stroke-width="1.25" stroke-linejoin="round"/>
<path d="M604.7 65.9h0M604.9 64.7h0M609.4 54.5h0M613.7 49.7h0M617.8 45.9h0M621.7 43.1h0M625.6 40.6h0M629.2 38.9h0M632.8 37.6h0M636.2 36.4h0M642.7 34.5h0M648.7 33h0M654.4 31.8h0M660 30.9h0M665.1 30.3h0M669.9 29.8h0M674.7 29.5h0M679.1 29.2h0M683.5 28.9h0M687.5 28.7h0M695.3 28.4h0M702.5 28.2h0M709.1 28h0M715.5 27.9h0M721.3 27.8h0M726.9 27.7h0M732.3 27.6h0M737.3 27.6h0M742.1 27.5h0M746.7 27.5h0M750.9 27.5h0M755.2 27.4h0M759.2 27.4h0M763.2 27.4h0M766.8 27.4h0M770.4 27.3h0M774 27.3h0M777.2 27.3h0M780.6 27.3h0M783.6 27.3h0M786.8 27.2h0M789.6 27.2h0M792.6 27.2h0M795.4 27.2h0M797.4 27.2h0M604.9 85h0M609.4 97.2h0M613.6 103.3h0M617.8 107.6h0M621.7 111.4h0M625.5 114h0M629.1 116.5h0M632.7 118.8h0M636.1 120.8h0M642.7 123.7h0M648.7 125.9h0M654.5 127.7h0M659.8 129.3h0M665.1 130.5h0M670 131.3h0M674.6 132.1h0M679.1 132.9h0M683.5 133.6h0M687.4 134.1h0M695.2 135.2h0M702.5 136h0M709.1 136.5h0M715.5 136.9h0M721.3 137.3h0M726.9 137.5h0M732.3 137.8h0M737.3 138h0M742.1 138.2h0M746.7 138.4h0M750.9 138.5h0M755.2 138.7h0M759.2 138.8h0M763.2 139h0M766.8 139.1h0M770.4 139.2h0M774 139.4h0M777.2 139.4h0M780.6 139.5h0M783.6 139.6h0M786.8 139.6h0M789.6 139.6h0M792.6 139.7h0M795.4 139.7h0M797.4 139.7h0" stroke="#EB6235" stroke-width="4.6" stroke-linecap="round" fill="none"/>
<path d="M621.6 42.8L622.2 42L622.8 41.2L623.5 40.4L624.2 39.7L624.9 39L625.7 38.3L626.4 37.7L627.2 37.1L628.1 36.5L628.9 35.9L629.8 35.3L630.6 34.9L631.6 34.5L632.5 34.1L633.5 33.8L634.4 33.5L635.4 33.2L636.4 32.9L637.3 32.6L638.3 32.3L639.3 32L640.2 31.8L641.2 31.5L642.2 31.3L643.2 31L644.2 30.8L645.2 30.6L646.2 30.4L647.1 30.3L648.1 30.1L649.1 29.9L650.1 29.8L651.1 29.6L652.1 29.5L653.1 29.3L654.1 29.2L655.1 29L656.1 28.9L657.1 28.8L658.1 28.7L659.1 28.6L660.1 28.5L661.2 28.4L662.2 28.3L663.2 28.2L664.2 28.1L665.2 28.1L666.2 28L667.2 27.9L668.2 27.9L669.2 27.8L670.2 27.8L671.2 27.7L672.2 27.7L673.2 27.6L674.3 27.6L675.3 27.5L676.3 27.5L677.3 27.5L678.3 27.4L679.3 27.4L680.3 27.4L681.3 27.4L682.3 27.4L683.3 27.3L684.3 27.3L685.4 27.3L686.4 27.3L687.4 27.3L688.4 27.2L689.4 27.2L690.4 27.2L691.4 27.2L692.4 27.2L693.4 27.2L694.4 27.1L695.4 27.1L696.5 27.1L697.5 27.1L698.5 27.1L699.5 27.1L700.5 27.1L701.5 27.1L702.5 27L703.5 27L704.5 27L705.5 27L706.5 27L707.6 27L708.6 27L709.6 27L710.6 27L711.6 27L712.6 27L713.6 26.9L714.6 26.9L715.6 26.9L716.6 26.9L717.7 26.9L718.7 26.9L719.7 26.9L720.7 26.9L721.7 26.9L722.7 26.9L723.7 26.9L724.7 26.9L725.7 26.9L726.7 26.9L727.7 26.8L728.8 26.8L729.8 26.8L730.8 26.8L731.8 26.8L732.8 26.8L733.8 26.8L734.8 26.8L735.8 26.8L736.8 26.8L737.8 26.8L738.9 26.8L739.9 26.8L740.9 26.8L741.9 26.8L742.9 26.7L743.9 26.7L744.9 26.7L745.9 26.7L746.9 26.7L747.9 26.7L748.9 26.7L750 26.7L751 26.7L752 26.7L753 26.7L754 26.7L755 26.7L756 26.7L757 26.7L758 26.7L759 26.7L760.1 26.7L761.1 26.7L762.1 26.7L763.1 26.7L764.1 26.7L765.1 26.7L766.1 26.7L767.1 26.7L768.1 26.7L769.1 26.7L770.1 26.7L771.2 26.7L772.2 26.7L773.2 26.7L774.2 26.7L775.2 26.7L776.2 26.7L777.2 26.7L778.2 26.7L779.2 26.7L780.2 26.7L781.2 26.7L782.3 26.7L783.3 26.7L784.3 26.7L785.3 26.7L786.3 26.7L787.3 26.7L788.3 26.7L789.3 26.7L790.3 26.7L791.3 26.7L792.4 26.7L793.4 26.7L794.4 26.7L795.4 26.7L796.4 26.7L797.4 26.7M621.6 59.7L622.1 60.6L622.6 61.5L623.2 62.3L623.7 63.2L624.4 63.9L625 64.7L625.8 65.3L626.5 66L627.3 66.6L628.1 67.3L628.9 67.9L629.7 68.5L630.5 69.2L631.3 69.8L632.1 70.4L632.9 71.1L633.6 71.7L634.4 72.3L635.2 73L636 73.6L636.8 74.2L637.6 74.8L638.4 75.5L639.2 76.1L640 76.7L640.8 77.3L641.7 77.8L642.5 78.4L643.4 78.9L644.2 79.4L645.1 80L646 80.4L646.9 80.9L647.8 81.4L648.7 81.8L649.6 82.2L650.6 82.6L651.5 83L652.4 83.3L653.4 83.7L654.3 84L655.3 84.4L656.2 84.8L657.2 85.1L658.1 85.5L659.1 85.8L660 86.1L661 86.4L662 86.6L662.9 86.9L663.9 87.1L664.9 87.4L665.9 87.6L666.9 87.8L667.9 88L668.9 88.2L669.8 88.4L670.8 88.6L671.8 88.8L672.8 89L673.8 89.3L674.8 89.5L675.8 89.7L676.7 90L677.7 90.2L678.7 90.5L679.7 90.7L680.7 90.9L681.6 91.1L682.6 91.3L683.6 91.5L684.6 91.7L685.6 91.9L686.6 92.1L687.6 92.3L688.6 92.4L689.6 92.6L690.6 92.7L691.6 92.9L692.6 93L693.6 93.1L694.6 93.2L695.6 93.4L696.6 93.5L697.6 93.6L698.6 93.7L699.6 93.8L700.6 93.9L701.6 94L702.6 94.1L703.6 94.2L704.6 94.3L705.6 94.3L706.6 94.4L707.7 94.5L708.7 94.6L709.7 94.7L710.7 94.8L711.7 94.9L712.7 94.9L713.7 95L714.7 95.1L715.7 95.2L716.7 95.2L717.7 95.3L718.7 95.4L719.7 95.4L720.7 95.5L721.7 95.6L722.8 95.6L723.8 95.7L724.8 95.7L725.8 95.8L726.8 95.8L727.8 95.9L728.8 95.9L729.8 96L730.8 96L731.8 96.1L732.8 96.1L733.8 96.2L734.9 96.2L735.9 96.3L736.9 96.3L737.9 96.3L738.9 96.4L739.9 96.4L740.9 96.5L741.9 96.5L742.9 96.5L743.9 96.6L744.9 96.6L745.9 96.7L747 96.7L748 96.7L749 96.8L750 96.8L751 96.8L752 96.9L753 96.9L754 97L755 97L756 97L757 97.1L758.1 97.1L759.1 97.1L760.1 97.2L761.1 97.2L762.1 97.2L763.1 97.3L764.1 97.3L765.1 97.3L766.1 97.4L767.1 97.4L768.1 97.4L769.1 97.5L770.2 97.5L771.2 97.5L772.2 97.5L773.2 97.6L774.2 97.6L775.2 97.6L776.2 97.7L777.2 97.7L778.2 97.7L779.2 97.8L780.2 97.8L781.3 97.8L782.3 97.9L783.3 97.9L784.3 97.9L785.3 97.9L786.3 98L787.3 98L788.3 98L789.3 98.1L790.3 98.1L791.3 98.1L792.4 98.2L793.4 98.2L794.4 98.2L795.4 98.2L796.4 98.3L797.4 98.3M621.6 42.8L621.6 59.7" fill="none" stroke="#8FB032" stroke-width="1.25" stroke-linejoin="round"/>
<path d="M621.6 42.8h0M625.5 38.5h0M629.2 35.7h0M632.8 34h0M636 33h0M642.6 31.2h0M648.7 30h0M654.4 29.1h0M659.8 28.5h0M665 28.1h0M670 27.8h0M674.6 27.6h0M679.2 27.4h0M683.4 27.3h0M687.4 27.3h0M695.2 27.1h0M702.4 27.1h0M709.1 27h0M715.5 26.9h0M721.3 26.9h0M726.9 26.9h0M732.3 26.8h0M737.3 26.8h0M742.1 26.8h0M746.7 26.7h0M750.9 26.7h0M755.1 26.7h0M759.3 26.7h0M763.1 26.7h0M766.8 26.7h0M770.4 26.7h0M774 26.7h0M777.2 26.7h0M780.6 26.7h0M783.6 26.7h0M786.8 26.7h0M789.6 26.7h0M792.6 26.7h0M795.4 26.7h0M797.4 26.7h0M621.6 59.7h0M625.6 65.2h0M629.2 68.1h0M632.8 71h0M636.1 73.6h0M642.7 78.5h0M648.6 81.8h0M654.4 84.1h0M659.9 86h0M665.1 87.4h0M670 88.5h0M674.7 89.5h0M679.2 90.6h0M683.5 91.5h0M687.4 92.2h0M695.2 93.3h0M702.5 94.1h0M709.1 94.7h0M715.5 95.2h0M721.3 95.5h0M726.9 95.8h0M732.3 96.1h0M737.3 96.3h0M742.1 96.5h0M746.7 96.7h0M750.9 96.8h0M755.1 97h0M759.2 97.1h0M763.2 97.3h0M766.8 97.4h0M770.4 97.5h0M774 97.6h0M777.2 97.7h0M780.6 97.8h0M783.6 97.9h0M786.8 98h0M789.6 98.1h0M792.6 98.2h0M795.4 98.2h0M797.4 98.3h0" stroke="#8FB032" stroke-width="4.6" stroke-linecap="square" fill="none"/>
<path d="M648.6 30.2L649.6 29.9L650.6 29.6L651.5 29.3L652.5 29.1L653.5 28.9L654.5 28.7L655.5 28.5L656.5 28.4L657.5 28.3L658.5 28.1L659.5 28L660.5 27.9L661.5 27.8L662.6 27.7L663.6 27.7L664.6 27.6L665.6 27.5L666.6 27.5L667.6 27.4L668.6 27.3L669.6 27.3L670.7 27.2L671.7 27.2L672.7 27.2L673.7 27.1L674.7 27.1L675.7 27.1L676.7 27L677.8 27L678.8 27L679.8 27L680.8 26.9L681.8 26.9L682.8 26.9L683.8 26.9L684.9 26.8L685.9 26.8L686.9 26.8L687.9 26.8L688.9 26.8L689.9 26.8L690.9 26.8L692 26.8L693 26.8L694 26.8L695 26.8L696 26.8L697 26.8L698 26.8L699.1 26.7L700.1 26.7L701.1 26.7L702.1 26.7L703.1 26.7L704.1 26.7L705.1 26.7L706.2 26.7L707.2 26.7L708.2 26.7L709.2 26.7L710.2 26.7L711.2 26.7L712.2 26.7L713.3 26.7L714.3 26.7L715.3 26.7L716.3 26.7L717.3 26.7L718.3 26.7L719.3 26.7L720.4 26.7L721.4 26.7L722.4 26.7L723.4 26.7L724.4 26.7L725.4 26.7L726.4 26.7L727.5 26.7L728.5 26.7L729.5 26.7L730.5 26.7L731.5 26.7L732.5 26.7L733.5 26.7L734.6 26.7L735.6 26.7L736.6 26.7L737.6 26.7L738.6 26.7L739.6 26.7L740.6 26.7L741.7 26.7L742.7 26.7L743.7 26.7L744.7 26.7L745.7 26.7L746.7 26.7L747.7 26.7L748.8 26.7L749.8 26.7L750.8 26.7L751.8 26.7L752.8 26.7L753.8 26.7L754.8 26.7L755.9 26.7L756.9 26.7L757.9 26.7L758.9 26.7L759.9 26.7L760.9 26.7L761.9 26.7L763 26.7L764 26.7L765 26.7L766 26.7L767 26.7L768 26.7L769 26.7L770.1 26.7L771.1 26.7L772.1 26.7L773.1 26.7L774.1 26.7L775.1 26.7L776.1 26.7L777.2 26.7L778.2 26.7L779.2 26.7L780.2 26.7M648.6 39.9L649.4 40.5L650.3 41L651.1 41.6L652 42.1L652.9 42.6L653.7 43.1L654.6 43.6L655.5 44.1L656.4 44.5L657.3 45L658.2 45.4L659.2 45.8L660.1 46.3L661 46.7L661.9 47.1L662.9 47.5L663.8 47.8L664.8 48.2L665.7 48.5L666.7 48.8L667.6 49.1L668.6 49.4L669.6 49.6L670.6 49.9L671.6 50.1L672.5 50.3L673.5 50.5L674.5 50.7L675.5 50.9L676.5 51.1L677.5 51.3L678.5 51.5L679.5 51.6L680.5 51.8L681.5 51.9L682.5 52.1L683.5 52.3L684.5 52.4L685.5 52.5L686.5 52.7L687.5 52.8L688.5 53L689.5 53.1L690.5 53.2L691.5 53.4L692.5 53.5L693.5 53.6L694.5 53.8L695.5 53.9L696.5 54L697.5 54.2L698.5 54.3L699.5 54.4L700.5 54.5L701.5 54.6L702.5 54.7L703.5 54.9L704.6 55L705.6 55.1L706.6 55.2L707.6 55.3L708.6 55.4L709.6 55.5L710.6 55.6L711.6 55.7L712.6 55.8L713.6 55.9L714.6 56L715.6 56.1L716.6 56.1L717.6 56.2L718.6 56.3L719.6 56.4L720.7 56.5L721.7 56.6L722.7 56.7L723.7 56.7L724.7 56.8L725.7 56.9L726.7 57L727.7 57.1L728.7 57.1L729.7 57.2L730.7 57.3L731.7 57.3L732.7 57.4L733.8 57.5L734.8 57.5L735.8 57.6L736.8 57.6L737.8 57.7L738.8 57.8L739.8 57.8L740.8 57.9L741.8 57.9L742.8 58L743.9 58L744.9 58.1L745.9 58.1L746.9 58.2L747.9 58.2L748.9 58.3L749.9 58.3L750.9 58.4L751.9 58.4L752.9 58.4L753.9 58.5L755 58.5L756 58.5L757 58.6L758 58.6L759 58.7L760 58.7L761 58.7L762 58.8L763 58.8L764.1 58.8L765.1 58.8L766.1 58.9L767.1 58.9L768.1 58.9L769.1 59L770.1 59L771.1 59L772.1 59L773.1 59.1L774.2 59.1L775.2 59.1L776.2 59.1L777.2 59.2L778.2 59.2L779.2 59.2L780.2 59.2L781.2 59.2L782.2 59.3L783.3 59.3L784.3 59.3L785.3 59.3L786.3 59.3L787.3 59.3L788.3 59.4L789.3 59.4L790.3 59.4L791.3 59.4L792.3 59.4L793.4 59.4L794.4 59.5L795.4 59.5L796.4 59.5L797.4 59.5M648.6 30.2L648.6 39.9" fill="none" stroke="#E19C24" stroke-width="1.25" stroke-linejoin="round"/>
<path d="M646 30.2l2.65-3.1 2.65 3.1-2.65 3.1zM651.8 28.7l2.65-3.1 2.65 3.1-2.65 3.1zM657.3 28l2.65-3.1 2.65 3.1-2.65 3.1zM662.3 27.6l2.65-3.1 2.65 3.1-2.65 3.1zM667.3 27.3l2.65-3.1 2.65 3.1-2.65 3.1zM671.9 27.1l2.65-3.1 2.65 3.1-2.65 3.1zM676.5 27l2.65-3.1 2.65 3.1-2.65 3.1zM680.8 26.9l2.65-3.1 2.65 3.1-2.65 3.1zM685 26.8l2.65-3.1 2.65 3.1-2.65 3.1zM692.6 26.8l2.65-3.1 2.65 3.1-2.65 3.1zM699.8 26.7l2.65-3.1 2.65 3.1-2.65 3.1zM706.6 26.7l2.65-3.1 2.65 3.1-2.65 3.1zM712.8 26.7l2.65-3.1 2.65 3.1-2.65 3.1zM718.6 26.7l2.65-3.1 2.65 3.1-2.65 3.1zM724.2 26.7l2.65-3.1 2.65 3.1-2.65 3.1zM729.7 26.7l2.65-3.1 2.65 3.1-2.65 3.1zM734.7 26.7l2.65-3.1 2.65 3.1-2.65 3.1zM739.5 26.7l2.65-3.1 2.65 3.1-2.65 3.1zM744.1 26.7l2.65-3.1 2.65 3.1-2.65 3.1zM748.3 26.7l2.65-3.1 2.65 3.1-2.65 3.1zM752.5 26.7l2.65-3.1 2.65 3.1-2.65 3.1zM756.5 26.7l2.65-3.1 2.65 3.1-2.65 3.1zM760.5 26.7l2.65-3.1 2.65 3.1-2.65 3.1zM764.1 26.7l2.65-3.1 2.65 3.1-2.65 3.1zM767.7 26.7l2.65-3.1 2.65 3.1-2.65 3.1zM771.3 26.7l2.65-3.1 2.65 3.1-2.65 3.1zM774.5 26.7l2.65-3.1 2.65 3.1-2.65 3.1zM777.6 26.7l2.65-3.1 2.65 3.1-2.65 3.1zM646 39.9l2.65-3.1 2.65 3.1-2.65 3.1zM651.7 43.5l2.65-3.1 2.65 3.1-2.65 3.1zM657.3 46.2l2.65-3.1 2.65 3.1-2.65 3.1zM662.3 48.3l2.65-3.1 2.65 3.1-2.65 3.1zM667.3 49.7l2.65-3.1 2.65 3.1-2.65 3.1zM672 50.8l2.65-3.1 2.65 3.1-2.65 3.1zM676.6 51.6l2.65-3.1 2.65 3.1-2.65 3.1zM680.7 52.2l2.65-3.1 2.65 3.1-2.65 3.1zM684.9 52.8l2.65-3.1 2.65 3.1-2.65 3.1zM692.6 53.9l2.65-3.1 2.65 3.1-2.65 3.1zM699.8 54.7l2.65-3.1 2.65 3.1-2.65 3.1zM706.5 55.4l2.65-3.1 2.65 3.1-2.65 3.1zM712.7 56l2.65-3.1 2.65 3.1-2.65 3.1zM718.7 56.6l2.65-3.1 2.65 3.1-2.65 3.1zM724.3 57l2.65-3.1 2.65 3.1-2.65 3.1zM729.7 57.4l2.65-3.1 2.65 3.1-2.65 3.1zM734.7 57.7l2.65-3.1 2.65 3.1-2.65 3.1zM739.5 57.9l2.65-3.1 2.65 3.1-2.65 3.1zM744.1 58.2l2.65-3.1 2.65 3.1-2.65 3.1zM748.3 58.4l2.65-3.1 2.65 3.1-2.65 3.1zM752.5 58.5l2.65-3.1 2.65 3.1-2.65 3.1zM756.5 58.7l2.65-3.1 2.65 3.1-2.65 3.1zM760.5 58.8l2.65-3.1 2.65 3.1-2.65 3.1zM764.1 58.9l2.65-3.1 2.65 3.1-2.65 3.1zM767.7 59l2.65-3.1 2.65 3.1-2.65 3.1zM771.3 59.1l2.65-3.1 2.65 3.1-2.65 3.1zM774.5 59.2l2.65-3.1 2.65 3.1-2.65 3.1zM777.9 59.2l2.65-3.1 2.65 3.1-2.65 3.1zM780.9 59.3l2.65-3.1 2.65 3.1-2.65 3.1zM784.1 59.3l2.65-3.1 2.65 3.1-2.65 3.1zM786.9 59.4l2.65-3.1 2.65 3.1-2.65 3.1zM789.9 59.4l2.65-3.1 2.65 3.1-2.65 3.1zM792.7 59.5l2.65-3.1 2.65 3.1-2.65 3.1zM794.8 59.5l2.65-3.1 2.65 3.1-2.65 3.1z" fill="#E19C24"/>
<text x="612.2" y="13.9" font-size="11.65" fill="#0a0aff" text-anchor="start">A1–BWSt4: <tspan font-style="italic">M</tspan>=16, <tspan font-style="italic">R</tspan>=1.5, <tspan font-style="italic">q</tspan>=2</text>
<text x="795.1" y="15.6" font-size="11.8" fill="#1a1a1a" text-anchor="start">(c)</text>
<text x="585.2" y="15" font-size="12.5" fill="#1a1a1a" text-anchor="middle" font-style="italic">β</text>
<text x="803" y="148.7" font-size="12.3" fill="#1a1a1a" font-style="italic">r<tspan font-size="8.2" dy="2.2">w</tspan><tspan dy="-2.2" font-style="normal">/</tspan>a<tspan font-size="8.2" dy="2.4" font-style="normal">0</tspan></text>
<path d="M18.9 199 H231.4 L231.4 199.8 L230.4 199.8 L229.4 199.8 L228.4 199.8 L227.4 199.8 L226.4 199.8 L225.4 199.8 L224.4 199.8 L223.4 199.8 L222.4 199.8 L221.4 199.8 L220.4 199.8 L219.4 199.8 L218.3 199.8 L217.3 199.8 L216.3 199.8 L215.3 199.8 L214.3 199.8 L213.3 199.8 L212.3 199.9 L211.3 199.9 L210.3 199.9 L209.3 199.9 L208.3 199.9 L207.3 199.9 L206.3 199.9 L205.3 199.9 L204.3 199.9 L203.3 199.9 L202.3 199.9 L201.3 199.9 L200.3 199.9 L199.3 199.9 L198.3 199.9 L197.3 199.9 L196.3 200 L195.3 200 L194.3 200 L193.2 200 L192.2 200 L191.2 200 L190.2 200 L189.2 200 L188.2 200 L187.2 200 L186.2 200 L185.2 200 L184.2 200.1 L183.2 200.1 L182.2 200.1 L181.2 200.1 L180.2 200.1 L179.2 200.1 L178.2 200.1 L177.2 200.2 L176.2 200.2 L175.2 200.2 L174.2 200.2 L173.2 200.2 L172.2 200.2 L171.2 200.3 L170.2 200.3 L169.2 200.3 L168.2 200.3 L167.1 200.3 L166.1 200.4 L165.1 200.4 L164.1 200.4 L163.1 200.4 L162.1 200.5 L161.1 200.5 L160.1 200.5 L159.1 200.5 L158.1 200.5 L157.1 200.6 L156.1 200.6 L155.1 200.6 L154.1 200.7 L153.1 200.7 L152.1 200.7 L151.1 200.8 L150.1 200.8 L149.1 200.8 L148.1 200.9 L147.1 200.9 L146.1 201 L145.1 201 L144.1 201.1 L143.1 201.1 L142.1 201.2 L141.1 201.2 L140.1 201.3 L139.1 201.3 L138.1 201.4 L137.1 201.4 L136.1 201.5 L135 201.6 L134 201.7 L133 201.7 L132 201.8 L131 201.9 L130 202 L129 202.1 L128 202.2 L127 202.3 L126.1 202.4 L125.1 202.5 L124.1 202.6 L123.1 202.7 L122.1 202.9 L121.1 203 L120.1 203.1 L119.1 203.3 L118.1 203.4 L117.1 203.6 L116.1 203.7 L115.1 203.9 L114.1 204.1 L113.1 204.2 L112.2 204.5 L111.2 204.7 L110.2 204.9 L109.2 205.1 L108.2 205.4 L107.3 205.6 L106.3 205.9 L105.3 206.2 L104.4 206.5 L103.4 206.7 L102.4 207.1 L101.5 207.4 L100.6 207.7 L99.6 208.1 L98.7 208.5 L97.8 208.9 L96.9 209.3 L96 209.8 L95.1 210.2 L94.2 210.7 L93.3 211.1 L92.4 211.6 L91.5 212.1 L90.6 212.6 L89.8 213.2 L89 213.7 L88.2 214.4 L87.4 215 L86.7 215.7 L85.9 216.4 L85.2 217.1 L84.6 217.8 L83.9 218.6 L83.3 219.4 L82.7 220.2 L82.1 221 L81.5 221.8 L81 222.6 L80.4 223.5 L79.9 224.3 L79.4 225.2 L78.9 226.1 L78.4 227 L77.9 227.8 L77.5 228.7 L77 229.6 L76.6 230.5 L76.2 231.5 L75.7 232.4 L75.3 233.3 L74.9 234.2 L74.6 235.2 L74.3 236.1 L74 237.1 L73.7 238 L73.5 239 L73.3 240 L73.5 257.7 L73.7 258.7 L73.9 259.7 L74.1 260.7 L74.3 261.6 L74.5 262.6 L74.7 263.6 L75 264.6 L75.2 265.6 L75.5 266.5 L75.8 267.5 L76.1 268.4 L76.4 269.4 L76.9 270.3 L77.3 271.2 L77.8 272.1 L78.3 273 L78.8 273.8 L79.2 274.7 L79.7 275.6 L80.2 276.5 L80.7 277.4 L81.2 278.2 L81.8 279.1 L82.3 279.9 L82.9 280.8 L83.5 281.6 L84.1 282.4 L84.7 283.1 L85.4 283.9 L86.1 284.6 L86.8 285.4 L87.5 286.1 L88.2 286.8 L88.9 287.4 L89.7 288.1 L90.5 288.8 L91.2 289.4 L92 290 L92.8 290.6 L93.6 291.3 L94.4 291.9 L95.2 292.4 L96.1 293 L96.9 293.6 L97.7 294.2 L98.6 294.7 L99.4 295.3 L100.3 295.8 L101.1 296.3 L102 296.8 L102.9 297.3 L103.8 297.8 L104.7 298.2 L105.6 298.6 L106.5 299 L107.4 299.4 L108.4 299.8 L109.3 300.1 L110.3 300.5 L111.2 300.8 L112.2 301.1 L113.1 301.4 L114.1 301.7 L115.1 302 L116 302.2 L117 302.5 L118 302.7 L119 303 L119.9 303.2 L120.9 303.4 L121.9 303.6 L122.9 303.8 L123.9 304 L124.9 304.1 L125.9 304.3 L126.8 304.5 L127.8 304.7 L128.8 304.9 L129.8 305.1 L130.8 305.2 L131.8 305.4 L132.8 305.6 L133.8 305.8 L134.8 306 L135.7 306.1 L136.7 306.4 L137.7 306.6 L138.7 306.8 L139.7 307 L140.7 307.2 L141.6 307.4 L142.6 307.6 L143.6 307.8 L144.6 308 L145.6 308.1 L146.6 308.3 L147.6 308.4 L148.6 308.5 L149.6 308.7 L150.6 308.8 L151.6 308.9 L152.6 309 L153.6 309.2 L154.6 309.3 L155.6 309.4 L156.6 309.5 L157.6 309.5 L158.6 309.6 L159.6 309.7 L160.6 309.8 L161.6 309.9 L162.6 309.9 L163.6 310 L164.6 310.1 L165.6 310.1 L166.6 310.2 L167.6 310.3 L168.6 310.3 L169.6 310.4 L170.6 310.4 L171.6 310.5 L172.6 310.5 L173.6 310.6 L174.6 310.6 L175.6 310.6 L176.6 310.7 L177.6 310.7 L178.6 310.8 L179.6 310.8 L180.7 310.8 L181.7 310.9 L182.7 310.9 L183.7 310.9 L184.7 311 L185.7 311 L186.7 311 L187.7 311 L188.7 311.1 L189.7 311.1 L190.7 311.1 L191.7 311.1 L192.7 311.1 L193.7 311.2 L194.7 311.2 L195.7 311.2 L196.7 311.2 L197.7 311.2 L198.7 311.3 L199.7 311.3 L200.7 311.3 L201.8 311.3 L202.8 311.4 L203.8 311.4 L204.8 311.4 L205.8 311.4 L206.8 311.5 L207.8 311.5 L208.8 311.5 L209.8 311.5 L210.8 311.6 L211.8 311.6 L212.8 311.6 L213.8 311.6 L214.8 311.6 L215.8 311.6 L216.8 311.6 L217.8 311.6 L218.8 311.6 L219.8 311.6 L220.8 311.6 L221.9 311.6 L222.9 311.6 L223.9 311.6 L224.9 311.6 L225.9 311.6 L226.9 311.6 L227.9 311.6 L228.9 311.6 L229.9 311.6 L230.9 311.6 L230.9 317.2 L18.9 317.2 L18.9 199 Z" fill="#FBE0D7"/><path d="M73.3 199 V317.2" stroke="#F8D8CE" stroke-width="0.7"/>
<path d="M18.9 192.7 V322.2" stroke="#666666" stroke-width="1" fill="none"/>
<path d="M18.9 317.2 H231.3" stroke="#666666" stroke-width="1" fill="none"/>
<path d="M36.4 317.2 v-2.9" stroke="#666666" stroke-width="0.8"/>
<text x="35.9" y="330.4" font-size="11.2" fill="#1a1a1a" text-anchor="middle">1</text>
<path d="M65.67 317.2 v-2.9" stroke="#666666" stroke-width="0.8"/>
<text x="65.17" y="330.4" font-size="11.2" fill="#1a1a1a" text-anchor="middle">1.5</text>
<path d="M86.45 317.2 v-2.9" stroke="#666666" stroke-width="0.8"/>
<text x="85.95" y="330.4" font-size="11.2" fill="#1a1a1a" text-anchor="middle">2</text>
<path d="M115.72 317.2 v-2.9" stroke="#666666" stroke-width="0.8"/>
<text x="115.22" y="330.4" font-size="11.2" fill="#1a1a1a" text-anchor="middle">3</text>
<path d="M136.49 317.2 v-2.9" stroke="#666666" stroke-width="0.8"/>
<text x="135.99" y="330.4" font-size="11.2" fill="#1a1a1a" text-anchor="middle">4</text>
<path d="M152.6 317.2 v-2.9" stroke="#666666" stroke-width="0.8"/>
<text x="152.1" y="330.4" font-size="11.2" fill="#1a1a1a" text-anchor="middle">5</text>
<path d="M165.77 317.2 v-2.9" stroke="#666666" stroke-width="0.8"/>
<text x="165.27" y="330.4" font-size="11.2" fill="#1a1a1a" text-anchor="middle">6</text>
<path d="M186.54 317.2 v-2.9" stroke="#666666" stroke-width="0.8"/>
<text x="186.04" y="330.4" font-size="11.2" fill="#1a1a1a" text-anchor="middle">8</text>
<path d="M202.65 317.2 v-2.9" stroke="#666666" stroke-width="0.8"/>
<text x="202.15" y="330.4" font-size="11.2" fill="#1a1a1a" text-anchor="middle">10</text>
<path d="M226.94 317.2 v-2.9" stroke="#666666" stroke-width="0.8"/>
<text x="226.44" y="330.4" font-size="11.2" fill="#1a1a1a" text-anchor="middle">14</text>
<path d="M102.56 317.2 v-1.7" stroke="#666666" stroke-width="0.6"/>
<path d="M126.85 317.2 v-1.7" stroke="#666666" stroke-width="0.6"/>
<path d="M144.99 317.2 v-1.7" stroke="#666666" stroke-width="0.6"/>
<path d="M159.48 317.2 v-1.7" stroke="#666666" stroke-width="0.6"/>
<path d="M171.54 317.2 v-1.7" stroke="#666666" stroke-width="0.6"/>
<path d="M176.89 317.2 v-1.7" stroke="#666666" stroke-width="0.6"/>
<path d="M181.88 317.2 v-1.7" stroke="#666666" stroke-width="0.6"/>
<path d="M190.91 317.2 v-1.7" stroke="#666666" stroke-width="0.6"/>
<path d="M195.04 317.2 v-1.7" stroke="#666666" stroke-width="0.6"/>
<path d="M198.94 317.2 v-1.7" stroke="#666666" stroke-width="0.6"/>
<path d="M209.53 317.2 v-1.7" stroke="#666666" stroke-width="0.6"/>
<path d="M215.81 317.2 v-1.7" stroke="#666666" stroke-width="0.6"/>
<path d="M221.59 317.2 v-1.7" stroke="#666666" stroke-width="0.6"/>
<path d="M18.9 198.9 h2.9" stroke="#666666" stroke-width="0.8"/>
<text x="16.3" y="203.21" font-size="11.2" fill="#1a1a1a" text-anchor="end">1.0</text>
<path d="M18.9 225.8 h2.9" stroke="#666666" stroke-width="0.8"/>
<text x="16.3" y="230.11" font-size="11.2" fill="#1a1a1a" text-anchor="end">0.9</text>
<path d="M18.9 252.7 h2.9" stroke="#666666" stroke-width="0.8"/>
<text x="16.3" y="257.01" font-size="11.2" fill="#1a1a1a" text-anchor="end">0.8</text>
<path d="M18.9 279.6 h2.9" stroke="#666666" stroke-width="0.8"/>
<text x="16.3" y="283.91" font-size="11.2" fill="#1a1a1a" text-anchor="end">0.7</text>
<path d="M18.9 306.5 h2.9" stroke="#666666" stroke-width="0.8"/>
<text x="16.3" y="310.81" font-size="11.2" fill="#1a1a1a" text-anchor="end">0.6</text>
<path d="M18.9 198.9 h1.7" stroke="#666666" stroke-width="0.6"/>
<path d="M18.9 204.28 h1.7" stroke="#666666" stroke-width="0.6"/>
<path d="M18.9 209.66 h1.7" stroke="#666666" stroke-width="0.6"/>
<path d="M18.9 215.04 h1.7" stroke="#666666" stroke-width="0.6"/>
<path d="M18.9 220.42 h1.7" stroke="#666666" stroke-width="0.6"/>
<path d="M18.9 225.8 h1.7" stroke="#666666" stroke-width="0.6"/>
<path d="M18.9 231.18 h1.7" stroke="#666666" stroke-width="0.6"/>
<path d="M18.9 236.56 h1.7" stroke="#666666" stroke-width="0.6"/>
<path d="M18.9 241.94 h1.7" stroke="#666666" stroke-width="0.6"/>
<path d="M18.9 247.32 h1.7" stroke="#666666" stroke-width="0.6"/>
<path d="M18.9 252.7 h1.7" stroke="#666666" stroke-width="0.6"/>
<path d="M18.9 258.08 h1.7" stroke="#666666" stroke-width="0.6"/>
<path d="M18.9 263.46 h1.7" stroke="#666666" stroke-width="0.6"/>
<path d="M18.9 268.84 h1.7" stroke="#666666" stroke-width="0.6"/>
<path d="M18.9 274.22 h1.7" stroke="#666666" stroke-width="0.6"/>
<path d="M18.9 279.6 h1.7" stroke="#666666" stroke-width="0.6"/>
<path d="M18.9 284.98 h1.7" stroke="#666666" stroke-width="0.6"/>
<path d="M18.9 290.36 h1.7" stroke="#666666" stroke-width="0.6"/>
<path d="M18.9 295.74 h1.7" stroke="#666666" stroke-width="0.6"/>
<path d="M18.9 301.12 h1.7" stroke="#666666" stroke-width="0.6"/>
<path d="M18.9 306.5 h1.7" stroke="#666666" stroke-width="0.6"/>
<path d="M18.9 311.88 h1.7" stroke="#666666" stroke-width="0.6"/>
<path d="M73.3 240L73.5 239L73.7 238L74 237L74.3 236.1L74.6 235.1L75 234.2L75.4 233.3L75.8 232.3L76.2 231.4L76.6 230.5L77 229.6L77.5 228.7L77.9 227.8L78.4 226.9L78.9 226L79.4 225.1L79.9 224.3L80.5 223.4L81 222.5L81.6 221.7L82.2 220.9L82.8 220.1L83.4 219.3L84 218.5L84.7 217.7L85.3 217L86.1 216.3L86.8 215.6L87.6 214.9L88.3 214.2L89.1 213.6L90 213.1L90.8 212.5L91.7 212L92.6 211.5L93.5 211L94.4 210.6L95.3 210.1L96.2 209.7L97.1 209.2L98 208.8L98.9 208.4L99.9 208L100.8 207.6L101.7 207.3L102.7 207L103.7 206.7L104.6 206.4L105.6 206.1L106.6 205.8L107.6 205.6L108.5 205.3L109.5 205.1L110.5 204.8L111.5 204.6L112.5 204.4L113.5 204.2L114.4 204L115.4 203.8L116.4 203.7L117.4 203.5L118.4 203.4L119.4 203.2L120.4 203.1L121.4 202.9L122.4 202.8L123.4 202.7L124.4 202.6L125.4 202.5L126.5 202.4L127.5 202.3L128.5 202.2L129.5 202.1L130.5 202L131.5 201.9L132.5 201.8L133.5 201.7L134.5 201.6L135.5 201.5L136.5 201.5L137.5 201.4L138.5 201.3L139.5 201.3L140.5 201.2L141.5 201.2L142.6 201.1L143.6 201.1L144.6 201L145.6 201L146.6 200.9L147.6 200.9L148.6 200.9L149.6 200.8L150.6 200.8L151.6 200.7L152.6 200.7L153.7 200.7L154.7 200.6L155.7 200.6L156.7 200.6L157.7 200.6L158.7 200.5L159.7 200.5L160.7 200.5L161.7 200.5L162.7 200.4L163.8 200.4L164.8 200.4L165.8 200.4L166.8 200.3L167.8 200.3L168.8 200.3L169.8 200.3L170.8 200.3L171.8 200.2L172.8 200.2L173.8 200.2L174.9 200.2L175.9 200.2L176.9 200.2L177.9 200.1L178.9 200.1L179.9 200.1L180.9 200.1L181.9 200.1L182.9 200.1L183.9 200.1L185 200L186 200L187 200L188 200L189 200L190 200L191 200L192 200L193 200L194 200L195 200L196.1 200L197.1 199.9L198.1 199.9L199.1 199.9L200.1 199.9L201.1 199.9L202.1 199.9L203.1 199.9L204.1 199.9L205.1 199.9L206.2 199.9L207.2 199.9L208.2 199.9L209.2 199.9L210.2 199.9L211.2 199.9L212.2 199.9L213.2 199.8L214.2 199.8L215.2 199.8L216.3 199.8L217.3 199.8L218.3 199.8L219.3 199.8L220.3 199.8L221.3 199.8L222.3 199.8L223.3 199.8L224.3 199.8L225.3 199.8L226.4 199.8L227.4 199.8L228.4 199.8L229.4 199.8L230.4 199.8L231.4 199.8M73.5 257.7L73.7 258.7L73.9 259.7L74.1 260.7L74.3 261.7L74.5 262.6L74.7 263.6L75 264.6L75.2 265.6L75.5 266.6L75.8 267.5L76.1 268.5L76.5 269.4L76.9 270.3L77.3 271.2L77.8 272.1L78.3 273L78.8 273.9L79.3 274.8L79.8 275.7L80.2 276.5L80.7 277.4L81.3 278.3L81.8 279.2L82.3 280L82.9 280.8L83.5 281.6L84.1 282.4L84.8 283.2L85.4 284L86.1 284.7L86.8 285.4L87.5 286.1L88.3 286.8L89 287.5L89.8 288.2L90.5 288.8L91.3 289.5L92.1 290.1L92.9 290.7L93.7 291.3L94.5 291.9L95.3 292.5L96.2 293.1L97 293.7L97.8 294.2L98.7 294.8L99.5 295.3L100.4 295.9L101.2 296.4L102.1 296.9L103 297.4L103.9 297.8L104.8 298.3L105.7 298.7L106.6 299.1L107.6 299.5L108.5 299.8L109.5 300.2L110.4 300.5L111.4 300.8L112.3 301.1L113.3 301.4L114.3 301.7L115.2 302L116.2 302.3L117.2 302.5L118.2 302.8L119.1 303L120.1 303.2L121.1 303.4L122.1 303.6L123.1 303.8L124.1 304L125.1 304.2L126.1 304.4L127.1 304.5L128 304.7L129 304.9L130 305.1L131 305.3L132 305.4L133 305.6L134 305.8L135 306L136 306.2L137 306.4L137.9 306.6L138.9 306.9L139.9 307.1L140.9 307.3L141.9 307.5L142.9 307.7L143.9 307.9L144.9 308L145.9 308.2L146.9 308.3L147.8 308.5L148.8 308.6L149.8 308.7L150.8 308.8L151.9 309L152.9 309.1L153.9 309.2L154.9 309.3L155.9 309.4L156.9 309.5L157.9 309.6L158.9 309.7L159.9 309.7L160.9 309.8L161.9 309.9L162.9 310L163.9 310L164.9 310.1L165.9 310.2L166.9 310.2L167.9 310.3L168.9 310.3L169.9 310.4L170.9 310.4L172 310.5L173 310.5L174 310.6L175 310.6L176 310.7L177 310.7L178 310.7L179 310.8L180 310.8L181 310.8L182 310.9L183 310.9L184 310.9L185 311L186.1 311L187.1 311L188.1 311L189.1 311.1L190.1 311.1L191.1 311.1L192.1 311.1L193.1 311.2L194.1 311.2L195.1 311.2L196.1 311.2L197.1 311.2L198.1 311.3L199.2 311.3L200.2 311.3L201.2 311.3L202.2 311.3L203.2 311.4L204.2 311.4L205.2 311.4L206.2 311.5L207.2 311.5L208.2 311.5L209.2 311.5L210.2 311.6L211.2 311.6L212.3 311.6L213.3 311.6L214.3 311.6L215.3 311.6L216.3 311.6L217.3 311.6L218.3 311.6L219.3 311.6L220.3 311.6L221.3 311.6L222.3 311.6L223.3 311.6L224.3 311.6L225.4 311.6L226.4 311.6L227.4 311.6L228.4 311.6L229.4 311.6L230.4 311.6L231.4 311.6M73.3 240L73.5 257.7" fill="none" stroke="#EB6235" stroke-width="1.25" stroke-linejoin="round"/>
<path d="M73.3 240h0M73.9 237.3h0M74.7 234.8h0M75.7 232.4h0M76.8 230h0M77.8 228h0M78.9 226.1h0M79.9 224.4h0M80.8 222.8h0M82.8 220.1h0M84.7 217.7h0M86.5 215.8h0M88.2 214.4h0M89.9 213.1h0M91.8 211.9h0M93.4 211.1h0M96.6 209.5h0M99.5 208.1h0M102.5 207h0M105.4 206.1h0M108.1 205.4h0M110.7 204.8h0M113.2 204.2h0M115.8 203.8h0M120.3 203.1h0M124.7 202.6h0M128.9 202.1h0M132.9 201.7h0M136.5 201.5h0M140.1 201.3h0M143.5 201.1h0M146.7 200.9h0M149.7 200.8h0M152.7 200.7h0M158.1 200.5h0M163.3 200.4h0M168.1 200.3h0M172.7 200.2h0M176.9 200.2h0M180.9 200.1h0M184.7 200.1h0M188.3 200h0M191.7 200h0M195.1 200h0M198.1 199.9h0M201.1 199.9h0M204.2 199.9h0M206.8 199.9h0M209.6 199.9h0M212.2 199.9h0M214.6 199.8h0M217 199.8h0M219.4 199.8h0M221.6 199.8h0M223.8 199.8h0M226 199.8h0M228 199.8h0M230 199.8h0M231.4 199.8h0M73.5 257.7h0M74.1 260.7h0M74.7 263.4h0M75.3 265.7h0M75.9 268h0M76.8 270.2h0M77.9 272.2h0M78.8 274h0M79.9 275.9h0M80.8 277.5h0M82.7 280.5h0M84.6 283.1h0M86.4 285h0M88.2 286.8h0M89.9 288.3h0M91.6 289.7h0M93.3 291h0M96.6 293.4h0M99.6 295.4h0M102.5 297.1h0M105.4 298.5h0M108.2 299.7h0M110.8 300.6h0M113.3 301.4h0M115.8 302.2h0M120.5 303.3h0M124.8 304.1h0M128.9 304.9h0M132.9 305.6h0M136.4 306.3h0M139.9 307.1h0M143.5 307.8h0M146.6 308.3h0M149.6 308.7h0M152.6 309h0M158.2 309.6h0M163.3 310h0M168.1 310.3h0M172.7 310.5h0M176.9 310.7h0M180.9 310.8h0M184.8 311h0M188.4 311h0M191.8 311.1h0M195 311.2h0M198.2 311.3h0M201.2 311.3h0M204.2 311.4h0M206.8 311.5h0M209.6 311.5h0M212.2 311.6h0M214.6 311.6h0M217 311.6h0M219.4 311.6h0M221.6 311.6h0M223.8 311.6h0M226 311.6h0M228 311.6h0M230 311.6h0M231.4 311.6h0" stroke="#EB6235" stroke-width="4.6" stroke-linecap="round" fill="none"/>
<path d="M80.8 225.5L81.1 224.5L81.3 223.6L81.6 222.6L81.8 221.6L82.1 220.6L82.3 219.6L82.6 218.7L82.9 217.7L83.4 216.8L83.9 216L84.5 215.2L85.1 214.4L85.8 213.6L86.5 212.9L87.1 212.1L87.8 211.3L88.4 210.5L89.1 209.8L89.8 209.1L90.6 208.5L91.4 207.9L92.3 207.3L93.2 206.8L94.1 206.4L95 206L95.9 205.6L96.9 205.3L97.8 205L98.8 204.7L99.8 204.4L100.8 204.2L101.7 203.9L102.7 203.7L103.7 203.4L104.7 203.2L105.7 203L106.6 202.8L107.6 202.6L108.6 202.4L109.6 202.3L110.6 202.1L111.6 202L112.6 201.8L113.6 201.7L114.6 201.5L115.6 201.4L116.6 201.3L117.6 201.2L118.6 201L119.6 200.9L120.6 200.8L121.6 200.7L122.6 200.7L123.6 200.6L124.6 200.5L125.6 200.5L126.6 200.4L127.6 200.4L128.7 200.3L129.7 200.3L130.7 200.2L131.7 200.2L132.7 200.1L133.7 200.1L134.7 200.1L135.7 200L136.7 200L137.7 200L138.7 199.9L139.7 199.9L140.7 199.9L141.7 199.9L142.8 199.8L143.8 199.8L144.8 199.8L145.8 199.8L146.8 199.7L147.8 199.7L148.8 199.7L149.8 199.7L150.8 199.7L151.8 199.7L152.8 199.7L153.8 199.7L154.8 199.6L155.8 199.6L156.9 199.6L157.9 199.6L158.9 199.6L159.9 199.6L160.9 199.6L161.9 199.6L162.9 199.6L163.9 199.5L164.9 199.5L165.9 199.5L166.9 199.5L167.9 199.5L168.9 199.5L169.9 199.5L171 199.5L172 199.5L173 199.5L174 199.5L175 199.5L176 199.4L177 199.4L178 199.4L179 199.4L180 199.4L181 199.4L182 199.4L183 199.4L184.1 199.4L185.1 199.4L186.1 199.4L187.1 199.4L188.1 199.4L189.1 199.4L190.1 199.4L191.1 199.4L192.1 199.4L193.1 199.4L194.1 199.4L195.1 199.4L196.1 199.4L197.1 199.4L198.2 199.4L199.2 199.4L200.2 199.4L201.2 199.4L202.2 199.4L203.2 199.4L204.2 199.4L205.2 199.4L206.2 199.4L207.2 199.4L208.2 199.4L209.2 199.4L210.2 199.4L211.3 199.4L212.3 199.4L213.3 199.4L214.3 199.4L215.3 199.4L216.3 199.4L217.3 199.4L218.3 199.4L219.3 199.4L220.3 199.4L221.3 199.4L222.3 199.4L223.3 199.4L224.3 199.4L225.4 199.4L226.4 199.4L227.4 199.4L228.4 199.4L229.4 199.4L230.4 199.4L231.4 199.4M81.6 230.2L81.6 231.2L81.7 232.2L81.9 233.2L82 234.2L82.2 235.2L82.4 236.2L82.6 237.2L82.9 238.1L83.3 239.1L83.7 240L84.1 240.9L84.5 241.9L84.9 242.8L85.3 243.7L85.8 244.6L86.3 245.5L86.8 246.4L87.2 247.3L87.8 248.1L88.3 249L88.8 249.8L89.4 250.7L90 251.5L90.6 252.3L91.3 253L92 253.8L92.7 254.5L93.4 255.2L94.1 255.9L94.9 256.5L95.7 257.2L96.4 257.8L97.2 258.5L98 259.1L98.8 259.7L99.7 260.3L100.5 260.9L101.3 261.5L102.1 262.1L102.9 262.7L103.8 263.2L104.6 263.8L105.5 264.3L106.3 264.8L107.2 265.3L108.1 265.8L109 266.2L109.9 266.7L110.8 267.1L111.7 267.6L112.6 268L113.6 268.4L114.5 268.8L115.4 269.2L116.4 269.6L117.3 269.9L118.3 270.3L119.2 270.6L120.2 270.9L121.1 271.2L122.1 271.5L123.1 271.7L124 272L125 272.2L126 272.4L127 272.6L128 272.8L129 273L130 273.2L131 273.4L132 273.6L132.9 273.7L133.9 273.9L134.9 274.1L135.9 274.2L136.9 274.4L137.9 274.6L138.9 274.7L139.9 274.9L140.9 275L141.9 275.2L142.9 275.3L143.9 275.5L144.9 275.6L145.9 275.8L146.9 275.9L147.9 276.1L148.9 276.2L149.9 276.4L150.9 276.6L151.9 276.7L152.9 276.8L153.9 277L154.9 277.1L155.9 277.2L156.9 277.4L157.9 277.5L158.9 277.6L159.9 277.7L160.9 277.8L161.9 277.8L162.9 277.9L163.9 278L164.9 278.1L165.9 278.2L166.9 278.2L167.9 278.3L168.9 278.4L169.9 278.4L170.9 278.5L172 278.6L173 278.6L174 278.7L175 278.8L176 278.9L177 279L178 279L179 279.1L180 279.2L181 279.2L182 279.3L183 279.4L184 279.4L185 279.5L186 279.5L187 279.5L188.1 279.5L189.1 279.6L190.1 279.6L191.1 279.6L192.1 279.6L193.1 279.6L194.1 279.6L195.1 279.6L196.1 279.6L197.1 279.7L198.1 279.7L199.1 279.7L200.2 279.7L201.2 279.7L202.2 279.7L203.2 279.8L204.2 279.8L205.2 279.8L206.2 279.8L207.2 279.8L208.2 279.9L209.2 279.9L210.2 279.9L211.2 279.9L212.2 280L213.3 280L214.3 280L215.3 280L216.3 280L217.3 280.1L218.3 280.1L219.3 280.1L220.3 280.1L221.3 280.1L222.3 280.1L223.3 280.2L224.3 280.2L225.4 280.2L226.4 280.2L227.4 280.2L228.4 280.3L229.4 280.3L230.4 280.3L231.4 280.3M80.8 225.5L81.6 230.2" fill="none" stroke="#8FB032" stroke-width="1.25" stroke-linejoin="round"/>
<path d="M80.8 225.5h0M81.5 223h0M82.1 220.4h0M82.8 218.1h0M84.6 215h0M86.4 212.9h0M88.1 210.9h0M89.9 209h0M91.7 207.7h0M93.2 206.8h0M96.6 205.4h0M99.6 204.5h0M102.5 203.7h0M105.5 203h0M108 202.5h0M110.8 202.1h0M113.2 201.7h0M115.8 201.4h0M120.4 200.9h0M124.8 200.5h0M129 200.3h0M132.8 200.1h0M136.6 200h0M140 199.9h0M143.4 199.8h0M146.6 199.8h0M149.6 199.7h0M152.6 199.7h0M158.2 199.6h0M163.2 199.5h0M168 199.5h0M172.7 199.5h0M176.9 199.4h0M180.9 199.4h0M184.7 199.4h0M188.3 199.4h0M191.7 199.4h0M195.1 199.4h0M198.1 199.4h0M201.1 199.4h0M204.1 199.4h0M206.9 199.4h0M209.5 199.4h0M212.2 199.4h0M214.6 199.4h0M217 199.4h0M219.4 199.4h0M221.6 199.4h0M223.8 199.4h0M226 199.4h0M228 199.4h0M230 199.4h0M231.4 199.4h0M81.6 230.2h0M81.8 232.8h0M82.2 235.2h0M82.7 237.5h0M83.7 239.9h0M84.6 242.2h0M85.6 244.2h0M86.4 245.8h0M87.6 247.9h0M88.8 249.7h0M90 251.5h0M93.3 255.1h0M96.6 258h0M99.6 260.3h0M102.6 262.4h0M105.4 264.2h0M108.1 265.7h0M110.7 267.1h0M113.3 268.3h0M115.7 269.3h0M120.4 271h0M124.9 272.1h0M128.8 273h0M132.7 273.7h0M136.5 274.3h0M140.1 274.9h0M143.4 275.4h0M146.6 275.9h0M149.6 276.3h0M152.5 276.8h0M158.1 277.5h0M163.3 278h0M168.1 278.3h0M172.7 278.6h0M176.9 278.9h0M180.9 279.2h0M184.7 279.4h0M188.3 279.5h0M191.7 279.6h0M195.1 279.6h0M198.1 279.7h0M201.1 279.7h0M204.1 279.8h0M206.9 279.8h0M209.6 279.9h0M212.2 279.9h0M214.6 280h0M217 280h0M219.4 280.1h0M221.6 280.1h0M223.8 280.2h0M226 280.2h0M228 280.2h0M230 280.3h0M231.4 280.3h0" stroke="#8FB032" stroke-width="4.6" stroke-linecap="square" fill="none"/>
<path d="M186 202.3 H233.4" stroke="#5E81B5" stroke-width="1.2"/>
<path d="M92.6 206.8L93.3 206.1L94.1 205.4L94.9 204.7L95.7 204.2L96.6 203.7L97.5 203.2L98.4 202.8L99.4 202.4L100.3 202L101.3 201.7L102.2 201.4L103.2 201.1L104.2 200.9L105.2 200.6L106.2 200.4L107.2 200.2L108.2 200L109.2 199.9L110.2 199.7L111.2 199.6L112.2 199.5L113.2 199.4L114.2 199.3L115.3 199.2L116.3 199.1L117.3 199L118.3 199L119.3 198.9L120.3 198.9L121.4 198.8L122.4 198.8L123.4 198.8L124.4 198.8L125.4 198.7L126.4 198.7L127.4 198.7L128.5 198.7L129.5 198.7L130.5 198.6L131.5 198.6L132.5 198.6L133.5 198.6L134.6 198.6L135.6 198.6L136.6 198.6L137.6 198.6L138.6 198.6L139.6 198.5L140.7 198.5L141.7 198.5L142.7 198.5L143.7 198.5L144.7 198.5L145.7 198.5L146.8 198.5L147.8 198.5L148.8 198.5L149.8 198.5L150.8 198.5L151.8 198.5L152.9 198.5L153.9 198.5L154.9 198.5L155.9 198.5L156.9 198.5L157.9 198.5L159 198.5L160 198.5L161 198.5L162 198.5L163 198.5L164 198.5L165 198.5L166.1 198.5L167.1 198.5L168.1 198.5L169.1 198.5L170.1 198.5L171.1 198.5L172.2 198.5L173.2 198.5L174.2 198.5L175.2 198.5L176.2 198.5L177.2 198.5L178.3 198.5L179.3 198.5L180.3 198.5L181.3 198.5L182.3 198.5L183.3 198.5L184.4 198.5L185.4 198.5L186.4 198.5L187.4 198.5L188.4 198.5L189.4 198.5L190.5 198.5L191.5 198.5L192.5 198.5L193.5 198.5L194.5 198.5L195.5 198.5L196.6 198.5L197.6 198.5L198.6 198.5L199.6 198.5M92.6 220.5L93.3 221.2L94 222L94.7 222.7L95.5 223.4L96.2 224L97 224.7L97.7 225.4L98.5 226L99.3 226.6L100.1 227.2L101 227.8L101.8 228.4L102.6 229L103.5 229.5L104.3 230.1L105.2 230.6L106 231.1L106.9 231.6L107.8 232.1L108.7 232.6L109.6 233.1L110.5 233.5L111.4 234L112.3 234.4L113.2 234.8L114.2 235.2L115.1 235.7L116 236.1L116.9 236.5L117.8 236.9L118.8 237.4L119.7 237.8L120.6 238.2L121.5 238.6L122.5 239L123.4 239.4L124.3 239.7L125.3 240.1L126.2 240.4L127.2 240.7L128.2 241L129.1 241.3L130.1 241.6L131.1 241.9L132 242.2L133 242.5L134 242.8L134.9 243.1L135.9 243.4L136.9 243.7L137.8 244L138.8 244.3L139.8 244.6L140.8 244.8L141.7 245.1L142.7 245.3L143.7 245.5L144.7 245.7L145.7 245.9L146.7 246.1L147.7 246.3L148.7 246.5L149.7 246.7L150.7 246.8L151.7 247L152.7 247.1L153.7 247.3L154.7 247.4L155.7 247.5L156.7 247.7L157.7 247.8L158.7 247.9L159.7 248L160.7 248L161.7 248.1L162.7 248.2L163.7 248.3L164.7 248.4L165.7 248.4L166.7 248.5L167.8 248.6L168.8 248.7L169.8 248.7L170.8 248.8L171.8 248.9L172.8 248.9L173.8 249L174.8 249.1L175.8 249.1L176.8 249.2L177.8 249.3L178.9 249.3L179.9 249.4L180.9 249.4L181.9 249.5L182.9 249.5L183.9 249.6L184.9 249.6L185.9 249.6L186.9 249.7L187.9 249.7L189 249.8L190 249.8L191 249.8L192 249.9L193 249.9L194 249.9L195 250L196 250L197 250.1L198 250.1L199.1 250.1L200.1 250.2L201.1 250.2L202.1 250.3L203.1 250.3L204.1 250.4L205.1 250.4L206.1 250.4L207.1 250.5L208.1 250.5L209.2 250.5L210.2 250.5L211.2 250.6L212.2 250.6L213.2 250.6L214.2 250.6L215.2 250.6L216.2 250.6L217.2 250.7L218.3 250.7L219.3 250.7L220.3 250.7L221.3 250.7L222.3 250.7L223.3 250.8L224.3 250.8L225.3 250.8L226.3 250.8L227.4 250.8L228.4 250.8L229.4 250.8L230.4 250.8L231.4 250.8M92.6 206.8L92.6 220.5" fill="none" stroke="#E19C24" stroke-width="1.25" stroke-linejoin="round"/>
<path d="M89.9 206.8l2.65-3.1 2.65 3.1-2.65 3.1zM90.7 206.1l2.65-3.1 2.65 3.1-2.65 3.1zM93.9 203.7l2.65-3.1 2.65 3.1-2.65 3.1zM97 202.3l2.65-3.1 2.65 3.1-2.65 3.1zM99.8 201.4l2.65-3.1 2.65 3.1-2.65 3.1zM102.8 200.6l2.65-3.1 2.65 3.1-2.65 3.1zM105.5 200l2.65-3.1 2.65 3.1-2.65 3.1zM108.1 199.7l2.65-3.1 2.65 3.1-2.65 3.1zM110.7 199.4l2.65-3.1 2.65 3.1-2.65 3.1zM113.1 199.2l2.65-3.1 2.65 3.1-2.65 3.1zM117.7 198.9l2.65-3.1 2.65 3.1-2.65 3.1zM122.1 198.7l2.65-3.1 2.65 3.1-2.65 3.1zM126.3 198.7l2.65-3.1 2.65 3.1-2.65 3.1zM130.1 198.6l2.65-3.1 2.65 3.1-2.65 3.1zM133.8 198.6l2.65-3.1 2.65 3.1-2.65 3.1zM137.4 198.5l2.65-3.1 2.65 3.1-2.65 3.1zM140.8 198.5l2.65-3.1 2.65 3.1-2.65 3.1zM144 198.5l2.65-3.1 2.65 3.1-2.65 3.1zM147 198.5l2.65-3.1 2.65 3.1-2.65 3.1zM150 198.5l2.65-3.1 2.65 3.1-2.65 3.1zM155.4 198.5l2.65-3.1 2.65 3.1-2.65 3.1zM160.6 198.5l2.65-3.1 2.65 3.1-2.65 3.1zM165.5 198.5l2.65-3.1 2.65 3.1-2.65 3.1zM170.1 198.5l2.65-3.1 2.65 3.1-2.65 3.1zM174.3 198.5l2.65-3.1 2.65 3.1-2.65 3.1zM178.3 198.5l2.65-3.1 2.65 3.1-2.65 3.1zM182.1 198.5l2.65-3.1 2.65 3.1-2.65 3.1zM185.7 198.5l2.65-3.1 2.65 3.1-2.65 3.1zM189.1 198.5l2.65-3.1 2.65 3.1-2.65 3.1zM192.3 198.5l2.65-3.1 2.65 3.1-2.65 3.1zM195.5 198.5l2.65-3.1 2.65 3.1-2.65 3.1zM196.9 198.5l2.65-3.1 2.65 3.1-2.65 3.1zM89.9 220.5l2.65-3.1 2.65 3.1-2.65 3.1zM90.6 221.2l2.65-3.1 2.65 3.1-2.65 3.1zM93.8 224.3l2.65-3.1 2.65 3.1-2.65 3.1zM96.9 226.8l2.65-3.1 2.65 3.1-2.65 3.1zM99.9 228.9l2.65-3.1 2.65 3.1-2.65 3.1zM102.8 230.7l2.65-3.1 2.65 3.1-2.65 3.1zM105.5 232.4l2.65-3.1 2.65 3.1-2.65 3.1zM108 233.6l2.65-3.1 2.65 3.1-2.65 3.1zM110.6 234.8l2.65-3.1 2.65 3.1-2.65 3.1zM113.1 236l2.65-3.1 2.65 3.1-2.65 3.1zM117.7 238.1l2.65-3.1 2.65 3.1-2.65 3.1zM122.1 239.9l2.65-3.1 2.65 3.1-2.65 3.1zM126.1 241.2l2.65-3.1 2.65 3.1-2.65 3.1zM130.2 242.5l2.65-3.1 2.65 3.1-2.65 3.1zM133.8 243.6l2.65-3.1 2.65 3.1-2.65 3.1zM137.3 244.6l2.65-3.1 2.65 3.1-2.65 3.1zM140.8 245.5l2.65-3.1 2.65 3.1-2.65 3.1zM143.9 246.1l2.65-3.1 2.65 3.1-2.65 3.1zM147.1 246.7l2.65-3.1 2.65 3.1-2.65 3.1zM149.9 247.1l2.65-3.1 2.65 3.1-2.65 3.1zM155.4 247.8l2.65-3.1 2.65 3.1-2.65 3.1zM160.6 248.3l2.65-3.1 2.65 3.1-2.65 3.1zM165.4 248.6l2.65-3.1 2.65 3.1-2.65 3.1zM170 248.9l2.65-3.1 2.65 3.1-2.65 3.1zM174.2 249.2l2.65-3.1 2.65 3.1-2.65 3.1zM178.2 249.4l2.65-3.1 2.65 3.1-2.65 3.1zM182 249.6l2.65-3.1 2.65 3.1-2.65 3.1zM185.6 249.7l2.65-3.1 2.65 3.1-2.65 3.1zM189.1 249.9l2.65-3.1 2.65 3.1-2.65 3.1zM192.5 250l2.65-3.1 2.65 3.1-2.65 3.1zM195.5 250.1l2.65-3.1 2.65 3.1-2.65 3.1zM198.5 250.2l2.65-3.1 2.65 3.1-2.65 3.1zM201.5 250.4l2.65-3.1 2.65 3.1-2.65 3.1zM204.3 250.5l2.65-3.1 2.65 3.1-2.65 3.1zM206.9 250.5l2.65-3.1 2.65 3.1-2.65 3.1zM209.5 250.6l2.65-3.1 2.65 3.1-2.65 3.1zM211.9 250.6l2.65-3.1 2.65 3.1-2.65 3.1zM214.3 250.7l2.65-3.1 2.65 3.1-2.65 3.1zM216.7 250.7l2.65-3.1 2.65 3.1-2.65 3.1zM218.9 250.7l2.65-3.1 2.65 3.1-2.65 3.1zM221.1 250.8l2.65-3.1 2.65 3.1-2.65 3.1zM223.3 250.8l2.65-3.1 2.65 3.1-2.65 3.1zM225.3 250.8l2.65-3.1 2.65 3.1-2.65 3.1zM227.3 250.8l2.65-3.1 2.65 3.1-2.65 3.1zM228.8 250.8l2.65-3.1 2.65 3.1-2.65 3.1z" fill="#E19C24"/>
<text x="51.2" y="183.7" font-size="11.65" fill="#0a0aff" text-anchor="start">A1–BWSt4: <tspan font-style="italic">M</tspan>=16, <tspan font-style="italic">R</tspan>=2, <tspan font-style="italic">q</tspan>=2</text>
<text x="228.5" y="185.4" font-size="11.8" fill="#1a1a1a" text-anchor="start">(d)</text>
<text x="18.3" y="184.2" font-size="12.5" fill="#1a1a1a" text-anchor="middle" font-style="italic">β</text>
<text x="236.5" y="322" font-size="12.3" fill="#1a1a1a" font-style="italic">r<tspan font-size="8.2" dy="2.2">w</tspan><tspan dy="-2.2" font-style="normal">/</tspan>a<tspan font-size="8.2" dy="2.4" font-style="normal">0</tspan></text>
<path d="M61.9 349.6 h15" stroke="#5E81B5" stroke-width="1.3"/>
<path d="M66.3 352.3l3.15-5.5 3.15 5.5z" fill="#5E81B5"/>
<text x="82.8" y="352" font-size="12.1" fill="#0a0aff" text-anchor="start">1</text>
<path d="M98.1 349.6 h15" stroke="#E19C24" stroke-width="1.3"/>
<path d="M103 349.6l2.65-3.1 2.65 3.1-2.65 3.1z" fill="#E19C24"/>
<text x="119" y="352" font-size="12.1" fill="#0a0aff" text-anchor="start">2</text>
<path d="M134.5 349 h15" stroke="#8FB032" stroke-width="1.3"/>
<path d="M142.1 349h0" stroke="#8FB032" stroke-width="4.6" stroke-linecap="square" fill="none"/>
<text x="155.4" y="352" font-size="12.1" fill="#0a0aff" text-anchor="start">4</text>
<path d="M171 349 h15" stroke="#EB6235" stroke-width="1.3"/>
<path d="M178.6 349h0" stroke="#EB6235" stroke-width="4.6" stroke-linecap="round" fill="none"/>
<text x="191.4" y="353.2" font-size="13" fill="#0a0aff" text-anchor="start">∞</text>
<path d="M301.7 199 H514.4 L514.4 200 L513.4 200 L512.4 200 L511.4 200 L510.4 200 L509.4 200 L508.4 200 L507.4 200 L506.4 200 L505.4 200 L504.4 200 L503.4 200 L502.4 200 L501.4 200 L500.4 200.1 L499.3 200.1 L498.3 200.1 L497.3 200.1 L496.3 200.1 L495.3 200.1 L494.3 200.1 L493.3 200.1 L492.3 200.1 L491.3 200.1 L490.3 200.1 L489.3 200.1 L488.3 200.1 L487.3 200.1 L486.3 200.1 L485.3 200.2 L484.3 200.2 L483.3 200.2 L482.3 200.2 L481.3 200.2 L480.3 200.2 L479.3 200.2 L478.3 200.2 L477.3 200.2 L476.3 200.2 L475.3 200.2 L474.3 200.3 L473.3 200.3 L472.3 200.3 L471.3 200.3 L470.2 200.3 L469.2 200.3 L468.2 200.3 L467.2 200.3 L466.2 200.3 L465.2 200.4 L464.2 200.4 L463.2 200.4 L462.2 200.4 L461.2 200.4 L460.2 200.4 L459.2 200.4 L458.2 200.5 L457.2 200.5 L456.2 200.5 L455.2 200.5 L454.2 200.5 L453.2 200.5 L452.2 200.6 L451.2 200.6 L450.2 200.6 L449.2 200.6 L448.2 200.6 L447.2 200.7 L446.2 200.7 L445.2 200.7 L444.2 200.7 L443.2 200.7 L442.2 200.8 L441.1 200.8 L440.1 200.8 L439.1 200.8 L438.1 200.8 L437.1 200.9 L436.1 200.9 L435.1 200.9 L434.1 201 L433.1 201 L432.1 201 L431.1 201 L430.1 201.1 L429.1 201.1 L428.1 201.1 L427.1 201.2 L426.1 201.2 L425.1 201.2 L424.1 201.3 L423.1 201.3 L422.1 201.3 L421.1 201.4 L420.1 201.4 L419.1 201.4 L418.1 201.5 L417.1 201.5 L416.1 201.6 L415.1 201.6 L414.1 201.7 L413.1 201.7 L412.1 201.8 L411.1 201.8 L410.1 201.9 L409.1 201.9 L408.1 202 L407.1 202 L406.1 202.1 L405.1 202.2 L404.1 202.2 L403.1 202.3 L402 202.4 L401 202.4 L400 202.5 L399 202.6 L398 202.7 L397 202.8 L396 202.8 L395 202.9 L394 203 L393 203.1 L392 203.2 L391.1 203.3 L390.1 203.4 L389.1 203.5 L388.1 203.6 L387.1 203.7 L386.1 203.8 L385.1 204 L384.1 204.1 L383.1 204.2 L382.1 204.4 L381.1 204.5 L380.1 204.7 L379.1 204.8 L378.1 205 L377.1 205.2 L376.1 205.4 L375.2 205.6 L374.2 205.8 L373.2 206.1 L372.2 206.3 L371.3 206.6 L370.3 206.9 L369.3 207.2 L368.4 207.5 L367.4 207.8 L366.5 208.1 L365.6 208.5 L364.6 208.9 L363.7 209.3 L362.8 209.7 L361.9 210.1 L361 210.6 L360.1 211.1 L359.2 211.5 L358.4 212 L357.5 212.5 L356.6 213 L355.8 213.6 L354.9 214.1 L354.1 214.7 L353.3 215.2 L352.5 215.9 L351.7 216.5 L350.9 217.2 L350.2 217.8 L349.5 218.5 L348.7 219.2 L348 219.9 L347.3 220.7 L346.7 221.4 L346.1 222.2 L345.5 223 L344.9 223.9 L344.4 224.7 L343.9 225.6 L343.4 226.5 L343 227.4 L342.5 228.3 L342.1 229.2 L341.7 230.1 L341.5 231.1 L341.2 232 L340.9 233 L340.7 234 L340.5 235 L340.3 236 L340.2 237 L340.1 238 L340 239 L340 240 L339.9 241 L339.9 242 L339.9 243 L339.8 244 L339.8 245 L339.8 253.8 L339.8 254.8 L339.9 255.8 L340 256.8 L340.1 257.8 L340.2 258.8 L340.3 259.8 L340.5 260.8 L340.6 261.8 L340.8 262.8 L341 263.8 L341.3 264.7 L341.6 265.7 L341.9 266.7 L342.2 267.6 L342.6 268.5 L343.1 269.4 L343.5 270.3 L344 271.2 L344.5 272.1 L345 272.9 L345.5 273.8 L346 274.7 L346.5 275.6 L347 276.4 L347.5 277.3 L348.1 278.1 L348.7 279 L349.2 279.8 L349.8 280.6 L350.4 281.4 L351.1 282.2 L351.7 283 L352.4 283.7 L353 284.5 L353.7 285.2 L354.4 286 L355.1 286.7 L355.8 287.4 L356.5 288.1 L357.3 288.7 L358.1 289.3 L358.9 290 L359.7 290.6 L360.5 291.1 L361.3 291.7 L362.2 292.3 L363 292.9 L363.8 293.4 L364.6 294 L365.5 294.6 L366.3 295.1 L367.2 295.6 L368.1 296.1 L368.9 296.6 L369.8 297.1 L370.7 297.5 L371.6 298 L372.6 298.4 L373.5 298.8 L374.4 299.2 L375.3 299.5 L376.3 299.9 L377.2 300.2 L378.2 300.5 L379.1 300.8 L380.1 301.1 L381.1 301.4 L382 301.7 L383 302 L384 302.3 L384.9 302.5 L385.9 302.8 L386.9 303 L387.8 303.3 L388.8 303.5 L389.8 303.7 L390.8 304 L391.8 304.2 L392.7 304.4 L393.7 304.5 L394.7 304.7 L395.7 304.9 L396.7 305.1 L397.7 305.3 L398.7 305.4 L399.7 305.6 L400.7 305.7 L401.7 305.9 L402.6 306 L403.6 306.2 L404.6 306.3 L405.6 306.4 L406.6 306.6 L407.6 306.7 L408.6 306.8 L409.6 307 L410.6 307.1 L411.6 307.2 L412.6 307.3 L413.6 307.4 L414.6 307.6 L415.6 307.7 L416.6 307.8 L417.6 307.9 L418.6 308 L419.6 308.2 L420.6 308.3 L421.6 308.4 L422.6 308.5 L423.6 308.6 L424.6 308.7 L425.6 308.9 L426.6 309 L427.6 309.1 L428.6 309.2 L429.6 309.3 L430.6 309.4 L431.6 309.5 L432.6 309.5 L433.6 309.6 L434.6 309.7 L435.6 309.8 L436.6 309.9 L437.6 309.9 L438.6 310 L439.6 310.1 L440.6 310.1 L441.6 310.2 L442.6 310.2 L443.6 310.3 L444.6 310.4 L445.6 310.4 L446.6 310.5 L447.6 310.5 L448.6 310.6 L449.6 310.6 L450.6 310.7 L451.6 310.7 L452.6 310.8 L453.6 310.8 L454.6 310.9 L455.6 310.9 L456.6 310.9 L457.7 311 L458.7 311 L459.7 311 L460.7 311.1 L461.7 311.1 L462.7 311.1 L463.7 311.2 L464.7 311.2 L465.7 311.2 L466.7 311.2 L467.7 311.3 L468.7 311.3 L469.7 311.3 L470.7 311.3 L471.7 311.4 L472.7 311.4 L473.7 311.4 L474.7 311.4 L475.7 311.4 L476.7 311.5 L477.7 311.5 L478.7 311.5 L479.7 311.5 L480.7 311.5 L481.8 311.5 L482.8 311.6 L483.8 311.6 L484.8 311.6 L485.8 311.6 L486.8 311.6 L487.8 311.6 L488.8 311.6 L489.8 311.6 L490.8 311.6 L491.8 311.6 L492.8 311.6 L493.8 311.6 L494.8 311.6 L495.8 311.6 L496.8 311.6 L497.8 311.6 L498.8 311.6 L499.8 311.6 L500.8 311.6 L501.8 311.6 L502.8 311.6 L503.9 311.6 L504.9 311.6 L505.9 311.6 L506.9 311.6 L507.9 311.6 L508.9 311.6 L509.9 311.6 L510.9 311.6 L511.9 311.6 L512.9 311.6 L513.9 311.6 L513.9 317.2 L301.7 317.2 L301.7 199 Z" fill="#FBE0D7"/><path d="M339.8 199 V317.2" stroke="#F8D8CE" stroke-width="0.7"/>
<path d="M301.7 192.6 V322.2" stroke="#666666" stroke-width="1" fill="none"/>
<path d="M301.7 317.2 H514.5" stroke="#666666" stroke-width="1" fill="none"/>
<path d="M319.5 317.2 v-2.9" stroke="#666666" stroke-width="0.8"/>
<text x="319" y="330.4" font-size="11.2" fill="#1a1a1a" text-anchor="middle">1</text>
<path d="M348.77 317.2 v-2.9" stroke="#666666" stroke-width="0.8"/>
<text x="348.27" y="330.4" font-size="11.2" fill="#1a1a1a" text-anchor="middle">1.5</text>
<path d="M369.55 317.2 v-2.9" stroke="#666666" stroke-width="0.8"/>
<text x="369.05" y="330.4" font-size="11.2" fill="#1a1a1a" text-anchor="middle">2</text>
<path d="M398.82 317.2 v-2.9" stroke="#666666" stroke-width="0.8"/>
<text x="398.32" y="330.4" font-size="11.2" fill="#1a1a1a" text-anchor="middle">3</text>
<path d="M419.59 317.2 v-2.9" stroke="#666666" stroke-width="0.8"/>
<text x="419.09" y="330.4" font-size="11.2" fill="#1a1a1a" text-anchor="middle">4</text>
<path d="M435.7 317.2 v-2.9" stroke="#666666" stroke-width="0.8"/>
<text x="435.2" y="330.4" font-size="11.2" fill="#1a1a1a" text-anchor="middle">5</text>
<path d="M448.87 317.2 v-2.9" stroke="#666666" stroke-width="0.8"/>
<text x="448.37" y="330.4" font-size="11.2" fill="#1a1a1a" text-anchor="middle">6</text>
<path d="M469.64 317.2 v-2.9" stroke="#666666" stroke-width="0.8"/>
<text x="469.14" y="330.4" font-size="11.2" fill="#1a1a1a" text-anchor="middle">8</text>
<path d="M485.75 317.2 v-2.9" stroke="#666666" stroke-width="0.8"/>
<text x="485.25" y="330.4" font-size="11.2" fill="#1a1a1a" text-anchor="middle">10</text>
<path d="M510.04 317.2 v-2.9" stroke="#666666" stroke-width="0.8"/>
<text x="509.54" y="330.4" font-size="11.2" fill="#1a1a1a" text-anchor="middle">14</text>
<path d="M385.66 317.2 v-1.7" stroke="#666666" stroke-width="0.6"/>
<path d="M409.95 317.2 v-1.7" stroke="#666666" stroke-width="0.6"/>
<path d="M428.09 317.2 v-1.7" stroke="#666666" stroke-width="0.6"/>
<path d="M442.58 317.2 v-1.7" stroke="#666666" stroke-width="0.6"/>
<path d="M454.64 317.2 v-1.7" stroke="#666666" stroke-width="0.6"/>
<path d="M459.99 317.2 v-1.7" stroke="#666666" stroke-width="0.6"/>
<path d="M464.98 317.2 v-1.7" stroke="#666666" stroke-width="0.6"/>
<path d="M474.01 317.2 v-1.7" stroke="#666666" stroke-width="0.6"/>
<path d="M478.14 317.2 v-1.7" stroke="#666666" stroke-width="0.6"/>
<path d="M482.04 317.2 v-1.7" stroke="#666666" stroke-width="0.6"/>
<path d="M492.63 317.2 v-1.7" stroke="#666666" stroke-width="0.6"/>
<path d="M498.91 317.2 v-1.7" stroke="#666666" stroke-width="0.6"/>
<path d="M504.69 317.2 v-1.7" stroke="#666666" stroke-width="0.6"/>
<path d="M301.7 199.3 h2.9" stroke="#666666" stroke-width="0.8"/>
<text x="299.1" y="203.61" font-size="11.2" fill="#1a1a1a" text-anchor="end">1.0</text>
<path d="M301.7 223.06 h2.9" stroke="#666666" stroke-width="0.8"/>
<text x="299.1" y="227.37" font-size="11.2" fill="#1a1a1a" text-anchor="end">0.9</text>
<path d="M301.7 246.82 h2.9" stroke="#666666" stroke-width="0.8"/>
<text x="299.1" y="251.13" font-size="11.2" fill="#1a1a1a" text-anchor="end">0.8</text>
<path d="M301.7 270.58 h2.9" stroke="#666666" stroke-width="0.8"/>
<text x="299.1" y="274.89" font-size="11.2" fill="#1a1a1a" text-anchor="end">0.7</text>
<path d="M301.7 294.34 h2.9" stroke="#666666" stroke-width="0.8"/>
<text x="299.1" y="298.65" font-size="11.2" fill="#1a1a1a" text-anchor="end">0.6</text>
<path d="M301.7 318.1 h2.9" stroke="#666666" stroke-width="0.8"/>
<text x="299.1" y="322.41" font-size="11.2" fill="#1a1a1a" text-anchor="end">0.5</text>
<path d="M301.7 199.3 h1.7" stroke="#666666" stroke-width="0.6"/>
<path d="M301.7 204.05 h1.7" stroke="#666666" stroke-width="0.6"/>
<path d="M301.7 208.8 h1.7" stroke="#666666" stroke-width="0.6"/>
<path d="M301.7 213.56 h1.7" stroke="#666666" stroke-width="0.6"/>
<path d="M301.7 218.31 h1.7" stroke="#666666" stroke-width="0.6"/>
<path d="M301.7 223.06 h1.7" stroke="#666666" stroke-width="0.6"/>
<path d="M301.7 227.81 h1.7" stroke="#666666" stroke-width="0.6"/>
<path d="M301.7 232.56 h1.7" stroke="#666666" stroke-width="0.6"/>
<path d="M301.7 237.32 h1.7" stroke="#666666" stroke-width="0.6"/>
<path d="M301.7 242.07 h1.7" stroke="#666666" stroke-width="0.6"/>
<path d="M301.7 246.82 h1.7" stroke="#666666" stroke-width="0.6"/>
<path d="M301.7 251.57 h1.7" stroke="#666666" stroke-width="0.6"/>
<path d="M301.7 256.32 h1.7" stroke="#666666" stroke-width="0.6"/>
<path d="M301.7 261.08 h1.7" stroke="#666666" stroke-width="0.6"/>
<path d="M301.7 265.83 h1.7" stroke="#666666" stroke-width="0.6"/>
<path d="M301.7 270.58 h1.7" stroke="#666666" stroke-width="0.6"/>
<path d="M301.7 275.33 h1.7" stroke="#666666" stroke-width="0.6"/>
<path d="M301.7 280.08 h1.7" stroke="#666666" stroke-width="0.6"/>
<path d="M301.7 284.84 h1.7" stroke="#666666" stroke-width="0.6"/>
<path d="M301.7 289.59 h1.7" stroke="#666666" stroke-width="0.6"/>
<path d="M301.7 294.34 h1.7" stroke="#666666" stroke-width="0.6"/>
<path d="M301.7 299.09 h1.7" stroke="#666666" stroke-width="0.6"/>
<path d="M301.7 303.84 h1.7" stroke="#666666" stroke-width="0.6"/>
<path d="M301.7 308.6 h1.7" stroke="#666666" stroke-width="0.6"/>
<path d="M301.7 313.35 h1.7" stroke="#666666" stroke-width="0.6"/>
<path d="M339.8 245.5L339.8 244.5L339.8 243.5L339.9 242.5L339.9 241.5L340 240.5L340 239.5L340.1 238.5L340.1 237.5L340.2 236.5L340.4 235.5L340.6 234.5L340.8 233.5L341 232.5L341.3 231.5L341.6 230.6L341.9 229.6L342.3 228.7L342.7 227.8L343.2 226.9L343.7 226L344.2 225.1L344.7 224.3L345.3 223.4L345.8 222.6L346.4 221.8L347.1 221L347.7 220.2L348.4 219.5L349.1 218.8L349.9 218.1L350.6 217.4L351.4 216.8L352.1 216.1L352.9 215.5L353.7 214.9L354.6 214.3L355.4 213.8L356.3 213.2L357.1 212.7L358 212.2L358.9 211.7L359.8 211.3L360.7 210.8L361.6 210.3L362.5 209.9L363.4 209.4L364.3 209L365.2 208.6L366.1 208.3L367.1 207.9L368 207.6L369 207.3L370 207L370.9 206.7L371.9 206.4L372.9 206.2L373.8 205.9L374.8 205.7L375.8 205.5L376.8 205.2L377.8 205.1L378.8 204.9L379.8 204.7L380.7 204.6L381.7 204.4L382.7 204.3L383.7 204.1L384.7 204L385.7 203.9L386.7 203.8L387.7 203.7L388.7 203.5L389.7 203.4L390.7 203.3L391.7 203.2L392.7 203.1L393.7 203.1L394.7 203L395.7 202.9L396.7 202.8L397.8 202.7L398.8 202.6L399.8 202.5L400.8 202.5L401.8 202.4L402.8 202.3L403.8 202.3L404.8 202.2L405.8 202.1L406.8 202.1L407.8 202L408.8 201.9L409.8 201.9L410.8 201.8L411.8 201.8L412.8 201.7L413.8 201.7L414.8 201.6L415.8 201.6L416.8 201.5L417.8 201.5L418.8 201.4L419.8 201.4L420.9 201.4L421.9 201.3L422.9 201.3L423.9 201.3L424.9 201.2L425.9 201.2L426.9 201.2L427.9 201.1L428.9 201.1L429.9 201.1L430.9 201L431.9 201L432.9 201L433.9 201L434.9 200.9L435.9 200.9L436.9 200.9L437.9 200.9L439 200.8L440 200.8L441 200.8L442 200.8L443 200.7L444 200.7L445 200.7L446 200.7L447 200.7L448 200.6L449 200.6L450 200.6L451 200.6L452 200.6L453 200.5L454 200.5L455 200.5L456.1 200.5L457.1 200.5L458.1 200.5L459.1 200.4L460.1 200.4L461.1 200.4L462.1 200.4L463.1 200.4L464.1 200.4L465.1 200.4L466.1 200.3L467.1 200.3L468.1 200.3L469.1 200.3L470.1 200.3L471.1 200.3L472.1 200.3L473.2 200.3L474.2 200.3L475.2 200.2L476.2 200.2L477.2 200.2L478.2 200.2L479.2 200.2L480.2 200.2L481.2 200.2L482.2 200.2L483.2 200.2L484.2 200.2L485.2 200.2L486.2 200.2L487.2 200.1L488.2 200.1L489.2 200.1L490.3 200.1L491.3 200.1L492.3 200.1L493.3 200.1L494.3 200.1L495.3 200.1L496.3 200.1L497.3 200.1L498.3 200.1L499.3 200.1L500.3 200.1L501.3 200L502.3 200L503.3 200L504.3 200L505.3 200L506.4 200L507.4 200L508.4 200L509.4 200L510.4 200L511.4 200L512.4 200L513.4 200L514.4 200M339.8 253.8L339.8 254.8L339.9 255.8L340 256.8L340.1 257.8L340.2 258.8L340.3 259.8L340.5 260.8L340.6 261.8L340.8 262.8L341.1 263.8L341.3 264.8L341.6 265.7L341.9 266.7L342.2 267.6L342.6 268.5L343.1 269.4L343.6 270.3L344.1 271.2L344.6 272.1L345.1 273L345.5 273.9L346 274.7L346.5 275.6L347.1 276.5L347.6 277.3L348.1 278.2L348.7 279L349.3 279.8L349.9 280.7L350.5 281.5L351.1 282.2L351.8 283L352.4 283.8L353.1 284.5L353.7 285.3L354.4 286L355.2 286.8L355.9 287.5L356.6 288.1L357.4 288.8L358.2 289.4L359 290L359.8 290.6L360.6 291.2L361.4 291.8L362.2 292.4L363.1 292.9L363.9 293.5L364.7 294.1L365.6 294.6L366.4 295.2L367.3 295.7L368.2 296.2L369.1 296.7L369.9 297.1L370.9 297.6L371.8 298L372.7 298.4L373.6 298.8L374.5 299.2L375.5 299.6L376.4 299.9L377.4 300.3L378.3 300.6L379.3 300.9L380.3 301.2L381.2 301.5L382.2 301.8L383.2 302L384.1 302.3L385.1 302.6L386.1 302.8L387 303.1L388 303.3L389 303.6L390 303.8L391 304L391.9 304.2L392.9 304.4L393.9 304.6L394.9 304.8L395.9 304.9L396.9 305.1L397.9 305.3L398.9 305.4L399.9 305.6L400.9 305.8L401.9 305.9L402.9 306.1L403.9 306.2L404.9 306.3L405.9 306.5L406.9 306.6L407.9 306.7L408.9 306.9L409.9 307L410.9 307.1L411.9 307.2L412.9 307.3L413.9 307.5L414.9 307.6L415.9 307.7L416.9 307.8L417.9 307.9L418.9 308.1L419.9 308.2L420.9 308.3L421.9 308.4L422.9 308.5L423.9 308.7L424.9 308.8L425.9 308.9L426.9 309L427.9 309.1L428.9 309.2L429.9 309.3L430.9 309.4L431.9 309.5L432.9 309.6L433.9 309.7L434.9 309.7L435.9 309.8L436.9 309.9L437.9 309.9L438.9 310L439.9 310.1L440.9 310.1L441.9 310.2L442.9 310.3L443.9 310.3L444.9 310.4L445.9 310.4L446.9 310.5L448 310.5L449 310.6L450 310.6L451 310.7L452 310.7L453 310.8L454 310.8L455 310.9L456 310.9L457 311L458 311L459 311L460 311.1L461 311.1L462 311.1L463 311.1L464.1 311.2L465.1 311.2L466.1 311.2L467.1 311.2L468.1 311.3L469.1 311.3L470.1 311.3L471.1 311.3L472.1 311.4L473.1 311.4L474.1 311.4L475.1 311.4L476.1 311.5L477.1 311.5L478.1 311.5L479.2 311.5L480.2 311.5L481.2 311.5L482.2 311.6L483.2 311.6L484.2 311.6L485.2 311.6L486.2 311.6L487.2 311.6L488.2 311.6L489.2 311.6L490.2 311.6L491.2 311.6L492.2 311.6L493.3 311.6L494.3 311.6L495.3 311.6L496.3 311.6L497.3 311.6L498.3 311.6L499.3 311.6L500.3 311.6L501.3 311.6L502.3 311.6L503.3 311.6L504.3 311.6L505.3 311.6L506.3 311.6L507.4 311.6L508.4 311.6L509.4 311.6L510.4 311.6L511.4 311.6L512.4 311.6L513.4 311.6L514.4 311.6M339.8 245.5L339.8 253.8" fill="none" stroke="#EB6235" stroke-width="1.25" stroke-linejoin="round"/>
<path d="M339.8 245.5h0M339.9 242.7h0M340 239.9h0M340.2 237.3h0M340.5 234.5h0M341.2 232h0M341.9 229.7h0M342.8 227.7h0M343.8 225.7h0M345.1 223.7h0M346.4 221.9h0M348.8 219.2h0M351.1 217h0M353.5 215.1h0M355.6 213.6h0M357.9 212.3h0M360 211.1h0M361.9 210.1h0M363.9 209.2h0M365.8 208.4h0M367.6 207.7h0M369.6 207.1h0M373 206.1h0M376.4 205.3h0M379.7 204.7h0M382.7 204.3h0M385.7 203.9h0M388.4 203.6h0M391.2 203.3h0M393.8 203h0M396.4 202.8h0M398.8 202.6h0M403.4 202.3h0M407.8 202h0M412 201.8h0M415.8 201.6h0M419.6 201.4h0M423 201.3h0M426.4 201.2h0M429.6 201.1h0M432.8 201h0M435.7 200.9h0M441.3 200.8h0M446.5 200.7h0M451.3 200.6h0M455.7 200.5h0M460.1 200.4h0M464.1 200.4h0M467.7 200.3h0M471.5 200.3h0M474.9 200.2h0M478.1 200.2h0M481.3 200.2h0M484.3 200.2h0M487.1 200.1h0M490 200.1h0M492.6 200.1h0M495.2 200.1h0M497.8 200.1h0M500.2 200.1h0M502.4 200h0M504.8 200h0M506.8 200h0M509 200h0M511 200h0M513 200h0M514.4 200h0M339.8 253.8h0M340 256.6h0M340.3 259.2h0M340.6 261.8h0M341.2 264.3h0M341.9 266.6h0M342.8 268.8h0M343.8 270.8h0M345.1 273.1h0M346.4 275.3h0M347.6 277.4h0M348.8 279.2h0M350 280.8h0M351.1 282.3h0M353.5 285h0M355.7 287.3h0M357.8 289.1h0M359.9 290.7h0M361.9 292.1h0M364 293.6h0M365.8 294.8h0M367.7 295.9h0M369.5 296.9h0M371.5 297.9h0M373.1 298.6h0M376.4 299.9h0M379.7 301h0M382.8 301.9h0M385.6 302.7h0M388.6 303.5h0M391.3 304.1h0M393.8 304.6h0M396.4 305h0M398.8 305.4h0M403.5 306.2h0M407.9 306.7h0M412.1 307.3h0M415.8 307.7h0M419.6 308.2h0M423.2 308.6h0M426.4 308.9h0M429.8 309.3h0M432.8 309.6h0M435.8 309.8h0M441.3 310.2h0M446.3 310.5h0M451.1 310.7h0M455.7 310.9h0M459.9 311.1h0M464 311.2h0M467.8 311.3h0M471.4 311.4h0M474.8 311.4h0M478.2 311.5h0M481.4 311.5h0M484.4 311.6h0M487.2 311.6h0M490 311.6h0M492.6 311.6h0M495.2 311.6h0M497.8 311.6h0M500.2 311.6h0M502.4 311.6h0M504.6 311.6h0M506.8 311.6h0M509 311.6h0M511 311.6h0M513 311.6h0M514.4 311.6h0" stroke="#EB6235" stroke-width="4.6" stroke-linecap="round" fill="none"/>
<path d="M345.5 225.6L345.6 224.6L345.8 223.5L346 222.5L346.3 221.6L346.6 220.6L347 219.7L347.4 218.8L347.8 217.9L348.3 217.1L348.9 216.2L349.6 215.4L350.2 214.6L350.8 213.8L351.4 213L352.1 212.3L352.8 211.5L353.5 210.8L354.2 210.1L355 209.5L355.8 208.9L356.6 208.3L357.4 207.7L358.3 207.2L359.2 206.8L360.1 206.3L361 205.9L362 205.5L362.9 205.2L363.8 204.8L364.8 204.5L365.8 204.2L366.7 203.9L367.7 203.7L368.7 203.5L369.7 203.3L370.7 203.1L371.7 202.9L372.7 202.7L373.6 202.6L374.6 202.4L375.6 202.2L376.6 202.1L377.6 201.9L378.6 201.8L379.6 201.6L380.6 201.5L381.6 201.4L382.6 201.3L383.6 201.2L384.6 201L385.6 200.9L386.6 200.8L387.6 200.7L388.6 200.6L389.6 200.6L390.6 200.5L391.6 200.4L392.6 200.3L393.6 200.3L394.6 200.2L395.6 200.2L396.7 200.1L397.7 200.1L398.7 200L399.7 200L400.7 200L401.7 199.9L402.7 199.9L403.7 199.9L404.7 199.8L405.7 199.8L406.7 199.8L407.7 199.7L408.7 199.7L409.7 199.7L410.7 199.6L411.7 199.6L412.7 199.6L413.8 199.6L414.8 199.6L415.8 199.5L416.8 199.5L417.8 199.5L418.8 199.5L419.8 199.5L420.8 199.5L421.8 199.5L422.8 199.5L423.8 199.5L424.8 199.5L425.8 199.5L426.8 199.5L427.8 199.4L428.8 199.4L429.9 199.4L430.9 199.4L431.9 199.4L432.9 199.4L433.9 199.4L434.9 199.4L435.9 199.4L436.9 199.4L437.9 199.4L438.9 199.4L439.9 199.4L440.9 199.4L441.9 199.4L442.9 199.4L443.9 199.4L445 199.4L446 199.4L447 199.3L448 199.3L449 199.3L450 199.3L451 199.3L452 199.3L453 199.3L454 199.3L455 199.3L456 199.3L457 199.3L458 199.3L459 199.3L460 199.3L461.1 199.3L462.1 199.3L463.1 199.3L464.1 199.3L465.1 199.3L466.1 199.3L467.1 199.3L468.1 199.3L469.1 199.3L470.1 199.3L471.1 199.3L472.1 199.3L473.1 199.3L474.1 199.3L475.1 199.2L476.1 199.2L477.2 199.2L478.2 199.2L479.2 199.2L480.2 199.2L481.2 199.2L482.2 199.2L483.2 199.2L484.2 199.2L485.2 199.2L486.2 199.2L487.2 199.2L488.2 199.2L489.2 199.2L490.2 199.2L491.2 199.2L492.3 199.2L493.3 199.2L494.3 199.2L495.3 199.2L496.3 199.2L497.3 199.2L498.3 199.2L499.3 199.2L500.3 199.2L501.3 199.2L502.3 199.2L503.3 199.2L504.3 199.2L505.3 199.2L506.3 199.2L507.4 199.2L508.4 199.2L509.4 199.2L510.4 199.2L511.4 199.2L512.4 199.2L513.4 199.2L514.4 199.2M346.4 236L346.5 237L346.7 238L346.9 239L347.2 240L347.5 240.9L347.9 241.8L348.3 242.7L348.8 243.7L349.3 244.6L349.7 245.5L350.2 246.4L350.6 247.3L351.1 248.2L351.6 249.1L352.1 249.9L352.6 250.8L353.1 251.7L353.6 252.5L354.2 253.4L354.7 254.2L355.3 255.1L355.9 255.9L356.5 256.7L357.1 257.5L357.8 258.3L358.4 259L359.1 259.8L359.8 260.5L360.5 261.2L361.3 261.9L362 262.6L362.8 263.2L363.6 263.9L364.4 264.5L365.2 265.1L366 265.7L366.8 266.3L367.7 266.8L368.5 267.3L369.4 267.8L370.3 268.3L371.2 268.8L372.1 269.3L373 269.7L373.9 270.1L374.8 270.5L375.8 270.9L376.7 271.3L377.6 271.7L378.6 272.1L379.5 272.4L380.5 272.8L381.4 273.1L382.4 273.4L383.4 273.7L384.3 274L385.3 274.3L386.3 274.6L387.2 274.8L388.2 275.1L389.2 275.4L390.2 275.6L391.1 275.9L392.1 276.1L393.1 276.3L394.1 276.6L395.1 276.8L396.1 277L397 277.3L398 277.5L399 277.7L400 277.9L401 278.1L402 278.3L403 278.5L404 278.7L404.9 278.9L405.9 279.1L406.9 279.2L407.9 279.4L408.9 279.6L409.9 279.8L410.9 279.9L411.9 280.1L412.9 280.3L413.9 280.5L414.9 280.8L415.8 281L416.8 281.3L417.8 281.6L418.7 281.9L419.7 282.1L420.7 282.3L421.7 282.5L422.7 282.7L423.7 282.9L424.7 283.1L425.7 283.2L426.7 283.4L427.7 283.5L428.7 283.6L429.7 283.8L430.7 283.9L431.7 284L432.7 284.1L433.7 284.3L434.7 284.4L435.7 284.5L436.7 284.6L437.7 284.7L438.7 284.8L439.7 284.9L440.7 284.9L441.7 285L442.8 285.1L443.8 285.2L444.8 285.3L445.8 285.3L446.8 285.4L447.8 285.4L448.8 285.5L449.8 285.5L450.8 285.6L451.8 285.6L452.8 285.6L453.8 285.7L454.8 285.7L455.9 285.7L456.9 285.8L457.9 285.8L458.9 285.8L459.9 285.9L460.9 285.9L461.9 285.9L462.9 286L463.9 286L464.9 286L466 286.1L467 286.1L468 286.1L469 286.2L470 286.2L471 286.2L472 286.3L473 286.3L474 286.4L475 286.4L476 286.4L477.1 286.5L478.1 286.5L479.1 286.5L480.1 286.6L481.1 286.6L482.1 286.6L483.1 286.7L484.1 286.7L485.1 286.7L486.1 286.7L487.1 286.8L488.2 286.8L489.2 286.8L490.2 286.8L491.2 286.8L492.2 286.8L493.2 286.9L494.2 286.9L495.2 286.9L496.2 286.9L497.2 286.9L498.2 286.9L499.3 287L500.3 287L501.3 287L502.3 287L503.3 287L504.3 287L505.3 287L506.3 287L507.3 287.1L508.3 287.1L509.4 287.1L510.4 287.1L511.4 287.1L512.4 287.1L513.4 287.1L514.4 287.1M345.9 225.6L346.4 236" fill="none" stroke="#8FB032" stroke-width="1.25" stroke-linejoin="round"/>
<path d="M345.5 225.6h0M345.8 223.5h0M346.3 221.6h0M347.3 218.8h0M348.8 216.4h0M350 214.8h0M351.1 213.4h0M353.4 210.9h0M355.7 208.9h0M357.9 207.5h0M359.8 206.5h0M361.8 205.6h0M363.9 204.8h0M365.8 204.2h0M367.8 203.7h0M369.5 203.3h0M373.1 202.7h0M376.4 202.1h0M379.6 201.6h0M382.8 201.2h0M385.6 200.9h0M388.6 200.6h0M391.2 200.4h0M393.8 200.3h0M396.4 200.1h0M398.8 200h0M403.4 199.9h0M407.8 199.7h0M412 199.6h0M415.8 199.5h0M419.6 199.5h0M423 199.5h0M426.4 199.5h0M429.6 199.4h0M432.8 199.4h0M435.6 199.4h0M441.3 199.4h0M446.5 199.3h0M451.3 199.3h0M455.7 199.3h0M460.1 199.3h0M464.1 199.3h0M467.9 199.3h0M471.5 199.3h0M474.9 199.2h0M478.1 199.2h0M481.3 199.2h0M484.3 199.2h0M487.1 199.2h0M489.9 199.2h0M492.6 199.2h0M495.2 199.2h0M497.8 199.2h0M500.2 199.2h0M502.4 199.2h0M504.8 199.2h0M506.8 199.2h0M509 199.2h0M511 199.2h0M513 199.2h0M514.4 199.2h0M346.4 236h0M346.9 238.8h0M347.6 241.2h0M348.8 243.6h0M350 245.9h0M351.1 248.3h0M352.3 250.4h0M353.4 252.2h0M354.6 254.1h0M355.7 255.6h0M357.8 258.3h0M360 260.6h0M362 262.6h0M364 264.2h0M365.8 265.5h0M367.8 266.9h0M369.5 267.9h0M371.4 268.9h0M373.1 269.7h0M376.4 271.2h0M379.5 272.4h0M382.8 273.5h0M385.6 274.4h0M388.5 275.2h0M391.3 275.9h0M393.8 276.5h0M396.3 277.1h0M398.9 277.7h0M403.4 278.6h0M407.9 279.4h0M412.1 280.2h0M416 281.1h0M419.6 282.1h0M423.2 282.8h0M426.5 283.3h0M429.7 283.8h0M432.7 284.1h0M435.7 284.5h0M441.3 285h0M446.5 285.4h0M451.3 285.6h0M455.7 285.7h0M459.9 285.9h0M463.9 286h0M467.7 286.1h0M471.3 286.3h0M474.9 286.4h0M478.1 286.5h0M481.3 286.6h0M484.3 286.7h0M487.1 286.8h0M490 286.8h0M492.6 286.9h0M495.2 286.9h0M497.8 286.9h0M500.2 287h0M502.4 287h0M504.8 287h0M506.8 287.1h0M509 287.1h0M511 287.1h0M513 287.1h0M514.4 287.1h0" stroke="#8FB032" stroke-width="4.6" stroke-linecap="square" fill="none"/>
<path d="M352.4 211.9L352.9 211L353.5 210.2L354 209.3L354.6 208.5L355.3 207.7L355.9 207L356.6 206.2L357.3 205.5L358.1 204.8L358.9 204.2L359.7 203.6L360.6 203.1L361.5 202.6L362.4 202.2L363.4 201.8L364.3 201.4L365.2 201.1L366.2 200.8L367.2 200.5L368.2 200.2L369.2 200L370.1 199.8L371.1 199.7L372.1 199.5L373.2 199.4L374.2 199.2L375.2 199.1L376.2 199.1L377.2 199.1L378.2 199L379.2 199L380.2 199L381.2 198.9L382.2 198.9L383.3 198.9L384.3 198.9L385.3 198.9L386.3 198.9L387.3 198.9L388.3 198.9L389.3 198.9L390.3 198.9L391.4 198.9L392.4 198.9L393.4 198.9L394.4 198.9L395.4 198.9L396.4 198.9L397.4 198.9L398.4 198.9L399.5 198.9L400.5 198.9L401.5 199L402.5 199L403.5 199L404.5 199L405.5 199L406.5 199L407.6 199L408.6 199L409.6 199L410.6 199L411.6 199L412.6 199L413.6 199L414.6 199L415.6 199L416.7 199L417.7 199L418.7 199L419.7 199L420.7 199L421.7 199L422.7 199L423.7 199L424.8 199L425.8 199L426.8 199L427.8 199L428.8 199L429.8 199L430.8 199L431.8 199L432.9 199L433.9 199L434.9 199L435.9 199L436.9 199L437.9 199L438.9 199L439.9 199L440.9 199L442 199L443 199L444 199L445 199L446 199L447 199L448 199L449 199L450.1 199L451.1 199L452.1 199L453.1 199L454.1 199L455.1 199L456.1 199L457.1 199L458.2 199L459.2 199L460.2 199L461.2 199L462.2 199L463.2 199L464.2 199L465.2 199L466.3 199L467.3 199L468.3 199L469.3 199L470.3 199M353 220.6L353.2 221.6L353.5 222.6L353.7 223.6L354 224.5L354.3 225.5L354.7 226.4L355 227.4L355.4 228.3L355.9 229.2L356.3 230.1L356.8 231L357.3 231.9L357.9 232.7L358.4 233.6L359 234.4L359.6 235.2L360.2 236L360.9 236.8L361.5 237.5L362.2 238.3L362.9 239L363.6 239.7L364.4 240.4L365.1 241.1L365.9 241.8L366.6 242.5L367.4 243.1L368.2 243.7L369 244.3L369.8 244.9L370.7 245.5L371.5 246L372.4 246.5L373.2 247.1L374.1 247.6L375 248.1L375.9 248.5L376.8 249L377.7 249.5L378.6 249.9L379.5 250.3L380.4 250.7L381.4 251.2L382.3 251.5L383.2 251.9L384.2 252.3L385.1 252.6L386.1 252.9L387 253.3L388 253.6L389 253.9L389.9 254.1L390.9 254.4L391.9 254.7L392.9 254.9L393.9 255.2L394.8 255.4L395.8 255.7L396.8 255.9L397.8 256.1L398.8 256.4L399.7 256.6L400.7 256.8L401.7 257L402.7 257.2L403.7 257.4L404.7 257.6L405.7 257.8L406.7 258L407.7 258.1L408.7 258.3L409.7 258.5L410.7 258.7L411.6 258.8L412.6 259L413.6 259.1L414.6 259.3L415.6 259.5L416.6 259.6L417.6 259.7L418.6 259.9L419.6 260L420.6 260.1L421.6 260.3L422.6 260.4L423.6 260.5L424.6 260.6L425.6 260.8L426.7 260.9L427.7 261L428.7 261.1L429.7 261.2L430.7 261.3L431.7 261.3L432.7 261.4L433.7 261.5L434.7 261.6L435.7 261.6L436.7 261.7L437.7 261.8L438.7 261.9L439.7 261.9L440.7 262L441.7 262L442.8 262.1L443.8 262.2L444.8 262.2L445.8 262.3L446.8 262.3L447.8 262.4L448.8 262.4L449.8 262.5L450.8 262.5L451.8 262.6L452.8 262.6L453.8 262.7L454.9 262.7L455.9 262.7L456.9 262.8L457.9 262.8L458.9 262.8L459.9 262.9L460.9 262.9L461.9 262.9L462.9 263L463.9 263L464.9 263L466 263.1L467 263.1L468 263.1L469 263.1L470 263.2L471 263.2L472 263.2L473 263.2L474 263.2L475 263.3L476 263.3L477.1 263.3L478.1 263.3L479.1 263.3L480.1 263.4L481.1 263.4L482.1 263.4L483.1 263.4L484.1 263.4L485.1 263.4L486.1 263.4L487.1 263.4L488.2 263.4L489.2 263.5L490.2 263.5L491.2 263.5L492.2 263.5L493.2 263.5L494.2 263.5L495.2 263.5L496.2 263.5L497.2 263.5L498.2 263.5L499.3 263.5L500.3 263.5L501.3 263.6L502.3 263.6L503.3 263.6L504.3 263.6L505.3 263.6L506.3 263.6L507.3 263.6L508.3 263.6L509.4 263.6L510.4 263.6L511.4 263.6L512.4 263.6L513.4 263.6L514.4 263.6M352.6 211.9L353 220.6" fill="none" stroke="#E19C24" stroke-width="1.25" stroke-linejoin="round"/>
<path d="M349.8 211.9l2.65-3.1 2.65 3.1-2.65 3.1zM350.8 210.2l2.65-3.1 2.65 3.1-2.65 3.1zM353 207.3l2.65-3.1 2.65 3.1-2.65 3.1zM355.2 205l2.65-3.1 2.65 3.1-2.65 3.1zM357.3 203.5l2.65-3.1 2.65 3.1-2.65 3.1zM359.3 202.4l2.65-3.1 2.65 3.1-2.65 3.1zM361.3 201.6l2.65-3.1 2.65 3.1-2.65 3.1zM363.2 200.9l2.65-3.1 2.65 3.1-2.65 3.1zM365.1 200.3l2.65-3.1 2.65 3.1-2.65 3.1zM366.9 199.9l2.65-3.1 2.65 3.1-2.65 3.1zM370.5 199.4l2.65-3.1 2.65 3.1-2.65 3.1zM373.9 199.1l2.65-3.1 2.65 3.1-2.65 3.1zM377.1 199l2.65-3.1 2.65 3.1-2.65 3.1zM380.1 198.9l2.65-3.1 2.65 3.1-2.65 3.1zM383.1 198.9l2.65-3.1 2.65 3.1-2.65 3.1zM385.9 198.9l2.65-3.1 2.65 3.1-2.65 3.1zM388.5 198.9l2.65-3.1 2.65 3.1-2.65 3.1zM391.3 198.9l2.65-3.1 2.65 3.1-2.65 3.1zM393.7 198.9l2.65-3.1 2.65 3.1-2.65 3.1zM396.1 198.9l2.65-3.1 2.65 3.1-2.65 3.1zM400.9 199l2.65-3.1 2.65 3.1-2.65 3.1zM405.1 199l2.65-3.1 2.65 3.1-2.65 3.1zM409.3 199l2.65-3.1 2.65 3.1-2.65 3.1zM413.3 199l2.65-3.1 2.65 3.1-2.65 3.1zM416.9 199l2.65-3.1 2.65 3.1-2.65 3.1zM420.5 199l2.65-3.1 2.65 3.1-2.65 3.1zM423.8 199l2.65-3.1 2.65 3.1-2.65 3.1zM427 199l2.65-3.1 2.65 3.1-2.65 3.1zM430.2 199l2.65-3.1 2.65 3.1-2.65 3.1zM433 199l2.65-3.1 2.65 3.1-2.65 3.1zM438.6 199l2.65-3.1 2.65 3.1-2.65 3.1zM443.8 199l2.65-3.1 2.65 3.1-2.65 3.1zM448.6 199l2.65-3.1 2.65 3.1-2.65 3.1zM453 199l2.65-3.1 2.65 3.1-2.65 3.1zM457.4 199l2.65-3.1 2.65 3.1-2.65 3.1zM461.4 199l2.65-3.1 2.65 3.1-2.65 3.1zM465.2 199l2.65-3.1 2.65 3.1-2.65 3.1zM467.7 199l2.65-3.1 2.65 3.1-2.65 3.1zM350.4 220.6l2.65-3.1 2.65 3.1-2.65 3.1zM350.8 222.6l2.65-3.1 2.65 3.1-2.65 3.1zM351.4 224.7l2.65-3.1 2.65 3.1-2.65 3.1zM352.2 226.8l2.65-3.1 2.65 3.1-2.65 3.1zM353 228.8l2.65-3.1 2.65 3.1-2.65 3.1zM354.1 230.9l2.65-3.1 2.65 3.1-2.65 3.1zM355.2 232.6l2.65-3.1 2.65 3.1-2.65 3.1zM357.2 235.6l2.65-3.1 2.65 3.1-2.65 3.1zM359.3 238l2.65-3.1 2.65 3.1-2.65 3.1zM361.3 240l2.65-3.1 2.65 3.1-2.65 3.1zM363.2 241.8l2.65-3.1 2.65 3.1-2.65 3.1zM365.1 243.3l2.65-3.1 2.65 3.1-2.65 3.1zM366.8 244.7l2.65-3.1 2.65 3.1-2.65 3.1zM368.6 245.9l2.65-3.1 2.65 3.1-2.65 3.1zM370.4 246.9l2.65-3.1 2.65 3.1-2.65 3.1zM372.1 247.9l2.65-3.1 2.65 3.1-2.65 3.1zM373.7 248.8l2.65-3.1 2.65 3.1-2.65 3.1zM376.9 250.4l2.65-3.1 2.65 3.1-2.65 3.1zM380.1 251.7l2.65-3.1 2.65 3.1-2.65 3.1zM383.1 252.8l2.65-3.1 2.65 3.1-2.65 3.1zM385.9 253.7l2.65-3.1 2.65 3.1-2.65 3.1zM388.6 254.5l2.65-3.1 2.65 3.1-2.65 3.1zM391.2 255.2l2.65-3.1 2.65 3.1-2.65 3.1zM393.7 255.8l2.65-3.1 2.65 3.1-2.65 3.1zM396.2 256.4l2.65-3.1 2.65 3.1-2.65 3.1zM400.9 257.4l2.65-3.1 2.65 3.1-2.65 3.1zM405.3 258.2l2.65-3.1 2.65 3.1-2.65 3.1zM409.4 258.9l2.65-3.1 2.65 3.1-2.65 3.1zM413.2 259.5l2.65-3.1 2.65 3.1-2.65 3.1zM416.9 260l2.65-3.1 2.65 3.1-2.65 3.1zM420.5 260.5l2.65-3.1 2.65 3.1-2.65 3.1zM423.9 260.9l2.65-3.1 2.65 3.1-2.65 3.1zM427.1 261.2l2.65-3.1 2.65 3.1-2.65 3.1zM430.1 261.4l2.65-3.1 2.65 3.1-2.65 3.1zM433.1 261.6l2.65-3.1 2.65 3.1-2.65 3.1zM438.7 262l2.65-3.1 2.65 3.1-2.65 3.1zM443.9 262.3l2.65-3.1 2.65 3.1-2.65 3.1zM448.7 262.6l2.65-3.1 2.65 3.1-2.65 3.1zM453.1 262.7l2.65-3.1 2.65 3.1-2.65 3.1zM457.3 262.9l2.65-3.1 2.65 3.1-2.65 3.1zM461.3 263l2.65-3.1 2.65 3.1-2.65 3.1zM465.1 263.1l2.65-3.1 2.65 3.1-2.65 3.1zM468.7 263.2l2.65-3.1 2.65 3.1-2.65 3.1zM472.3 263.3l2.65-3.1 2.65 3.1-2.65 3.1zM475.5 263.3l2.65-3.1 2.65 3.1-2.65 3.1zM478.7 263.4l2.65-3.1 2.65 3.1-2.65 3.1zM481.7 263.4l2.65-3.1 2.65 3.1-2.65 3.1zM484.5 263.4l2.65-3.1 2.65 3.1-2.65 3.1zM487.3 263.5l2.65-3.1 2.65 3.1-2.65 3.1zM489.9 263.5l2.65-3.1 2.65 3.1-2.65 3.1zM492.5 263.5l2.65-3.1 2.65 3.1-2.65 3.1zM495.1 263.5l2.65-3.1 2.65 3.1-2.65 3.1zM497.5 263.5l2.65-3.1 2.65 3.1-2.65 3.1zM499.7 263.6l2.65-3.1 2.65 3.1-2.65 3.1zM502.1 263.6l2.65-3.1 2.65 3.1-2.65 3.1zM504.1 263.6l2.65-3.1 2.65 3.1-2.65 3.1zM506.3 263.6l2.65-3.1 2.65 3.1-2.65 3.1zM508.3 263.6l2.65-3.1 2.65 3.1-2.65 3.1zM510.3 263.6l2.65-3.1 2.65 3.1-2.65 3.1zM511.8 263.6l2.65-3.1 2.65 3.1-2.65 3.1z" fill="#E19C24"/>
<path d="M381 206.6L381.9 207.1L382.8 207.6L383.7 208L384.6 208.5L385.5 208.9L386.4 209.3L387.4 209.7L388.3 210.1L389.2 210.4L390.2 210.8L391.1 211.1L392.1 211.4L393.1 211.6L394.1 211.8L395.1 212L396 212.2L397 212.4L398 212.6L399 212.8L400 213.1L401 213.4L401.9 213.6L402.9 213.9L403.9 214.1L404.9 214.4L405.9 214.6L406.8 214.8L407.8 215L408.8 215.2L409.8 215.4L410.8 215.6L411.8 215.8L412.8 215.9L413.8 216.1L414.8 216.2L415.8 216.3L416.8 216.5L417.8 216.6L418.8 216.7L419.8 216.9L420.8 217L421.8 217.2L422.8 217.3L423.8 217.5L424.8 217.7L425.8 217.8L426.8 218L427.8 218.1L428.8 218.3L429.8 218.4L430.8 218.5L431.8 218.7L432.8 218.8L433.8 218.9L434.8 219L435.8 219.1L436.8 219.2L437.8 219.3L438.8 219.4L439.8 219.4L440.8 219.5L441.8 219.6L442.8 219.7L443.8 219.8L444.8 219.8L445.8 219.9L446.8 220L447.8 220.1L448.9 220.1L449.9 220.2L450.9 220.2L451.9 220.3L452.9 220.4L453.9 220.4L454.9 220.5L455.9 220.5L456.9 220.6L457.9 220.6L458.9 220.7L459.9 220.7L460.9 220.7L461.9 220.8L463 220.8L464 220.9L465 220.9L466 220.9L467 221L468 221L469 221L470 221.1L471 221.1L472 221.1L473 221.2L474 221.2L475.1 221.2L476.1 221.2L477.1 221.3L478.1 221.3L479.1 221.3L480.1 221.3L481.1 221.4L482.1 221.4L483.1 221.4L484.1 221.4L485.1 221.4L486.2 221.4L487.2 221.5L488.2 221.5L489.2 221.5L490.2 221.5L491.2 221.5L492.2 221.5L493.2 221.5L494.2 221.5L495.2 221.6L496.2 221.6L497.2 221.6L498.3 221.6L499.3 221.6L500.3 221.6L501.3 221.6L502.3 221.6L503.3 221.6L504.3 221.7L505.3 221.7L506.3 221.7L507.3 221.7L508.3 221.7L509.4 221.7L510.4 221.7L511.4 221.7L512.4 221.7L513.4 221.7L514.4 221.7" fill="none" stroke="#5E81B5" stroke-width="1.25" stroke-linejoin="round"/>
<path d="M378.3 208.9l2.7-4.8 2.7 4.8zM380.1 209.9l2.7-4.8 2.7 4.8zM383 211.3l2.7-4.8 2.7 4.8zM385.7 212.4l2.7-4.8 2.7 4.8zM388.6 213.4l2.7-4.8 2.7 4.8zM391.1 214.1l2.7-4.8 2.7 4.8zM393.6 214.6l2.7-4.8 2.7 4.8zM396.2 215.1l2.7-4.8 2.7 4.8zM400.9 216.3l2.7-4.8 2.7 4.8zM405.2 217.3l2.7-4.8 2.7 4.8zM409.3 218.1l2.7-4.8 2.7 4.8zM413.3 218.7l2.7-4.8 2.7 4.8zM416.9 219.1l2.7-4.8 2.7 4.8zM420.4 219.7l2.7-4.8 2.7 4.8zM423.8 220.2l2.7-4.8 2.7 4.8zM427 220.7l2.7-4.8 2.7 4.8zM430.1 221.1l2.7-4.8 2.7 4.8zM432.9 221.4l2.7-4.8 2.7 4.8zM438.5 221.9l2.7-4.8 2.7 4.8zM443.7 222.3l2.7-4.8 2.7 4.8zM448.5 222.6l2.7-4.8 2.7 4.8zM452.9 222.8l2.7-4.8 2.7 4.8zM457.4 223l2.7-4.8 2.7 4.8zM461.4 223.2l2.7-4.8 2.7 4.8zM465.2 223.3l2.7-4.8 2.7 4.8zM468.8 223.4l2.7-4.8 2.7 4.8zM472.2 223.5l2.7-4.8 2.7 4.8zM475.4 223.6l2.7-4.8 2.7 4.8zM478.6 223.7l2.7-4.8 2.7 4.8zM481.6 223.7l2.7-4.8 2.7 4.8zM484.4 223.8l2.7-4.8 2.7 4.8zM487.2 223.8l2.7-4.8 2.7 4.8zM489.8 223.8l2.7-4.8 2.7 4.8zM492.4 223.9l2.7-4.8 2.7 4.8zM495.1 223.9l2.7-4.8 2.7 4.8zM497.5 223.9l2.7-4.8 2.7 4.8zM499.7 223.9l2.7-4.8 2.7 4.8zM502.1 224l2.7-4.8 2.7 4.8zM504.1 224l2.7-4.8 2.7 4.8zM506.3 224l2.7-4.8 2.7 4.8zM508.3 224l2.7-4.8 2.7 4.8zM510.3 224l2.7-4.8 2.7 4.8zM511.7 224l2.7-4.8 2.7 4.8z" fill="#5E81B5"/>
<path d="M373.5 203.5l2.7-4.8 2.7 4.8zM376.5 202.2l2.7-4.8 2.7 4.8z" fill="#5E81B5"/>
<path d="M339.8 247.7h0M339.9 251.2h0" stroke="#EB6235" stroke-width="4.6" stroke-linecap="round" fill="none"/>
<text x="334.1" y="183.7" font-size="11.65" fill="#0a0aff" text-anchor="start">A1–BWSt4: <tspan font-style="italic">M</tspan>=16, <tspan font-style="italic">R</tspan>=4, <tspan font-style="italic">q</tspan>=2</text>
<text x="511.4" y="185.4" font-size="11.8" fill="#1a1a1a" text-anchor="start">(e)</text>
<text x="301.9" y="184.2" font-size="12.5" fill="#1a1a1a" text-anchor="middle" font-style="italic">β</text>
<text x="519.4" y="322" font-size="12.3" fill="#1a1a1a" font-style="italic">r<tspan font-size="8.2" dy="2.2">w</tspan><tspan dy="-2.2" font-style="normal">/</tspan>a<tspan font-size="8.2" dy="2.4" font-style="normal">0</tspan></text>
<path d="M344.9 349.6 h15" stroke="#5E81B5" stroke-width="1.3"/>
<path d="M349.4 352.3l3.15-5.5 3.15 5.5z" fill="#5E81B5"/>
<text x="365.8" y="352" font-size="12.1" fill="#0a0aff" text-anchor="start">1</text>
<path d="M381.1 349.6 h15" stroke="#E19C24" stroke-width="1.3"/>
<path d="M386.1 349.6l2.65-3.1 2.65 3.1-2.65 3.1z" fill="#E19C24"/>
<text x="402" y="352" font-size="12.1" fill="#0a0aff" text-anchor="start">2</text>
<path d="M417.5 349 h15" stroke="#8FB032" stroke-width="1.3"/>
<path d="M425.1 349h0" stroke="#8FB032" stroke-width="4.6" stroke-linecap="square" fill="none"/>
<text x="438.4" y="352" font-size="12.1" fill="#0a0aff" text-anchor="start">4</text>
<path d="M454 349 h15" stroke="#EB6235" stroke-width="1.3"/>
<path d="M461.6 349h0" stroke="#EB6235" stroke-width="4.6" stroke-linecap="round" fill="none"/>
<text x="474.4" y="353.2" font-size="13" fill="#0a0aff" text-anchor="start">∞</text>
<path d="M584.9 199 H797.7 L797.7 200 L796.7 200 L795.7 200 L794.7 200 L793.7 200 L792.7 200 L791.7 200 L790.7 200 L789.7 200 L788.7 200 L787.7 200 L786.7 200 L785.7 200 L784.7 200 L783.7 200 L782.7 200 L781.6 200 L780.6 200 L779.6 200 L778.6 200.1 L777.6 200.1 L776.6 200.1 L775.6 200.1 L774.6 200.1 L773.6 200.1 L772.6 200.1 L771.6 200.1 L770.6 200.1 L769.6 200.1 L768.6 200.1 L767.6 200.1 L766.6 200.1 L765.6 200.1 L764.6 200.1 L763.6 200.2 L762.6 200.2 L761.6 200.2 L760.6 200.2 L759.6 200.2 L758.6 200.2 L757.6 200.2 L756.6 200.2 L755.6 200.2 L754.6 200.2 L753.6 200.2 L752.6 200.2 L751.6 200.3 L750.5 200.3 L749.5 200.3 L748.5 200.3 L747.5 200.3 L746.5 200.3 L745.5 200.3 L744.5 200.3 L743.5 200.3 L742.5 200.4 L741.5 200.4 L740.5 200.4 L739.5 200.4 L738.5 200.4 L737.5 200.4 L736.5 200.4 L735.5 200.4 L734.5 200.4 L733.5 200.5 L732.5 200.5 L731.5 200.5 L730.5 200.5 L729.5 200.5 L728.5 200.5 L727.5 200.5 L726.5 200.5 L725.5 200.6 L724.5 200.6 L723.5 200.6 L722.5 200.6 L721.5 200.6 L720.5 200.7 L719.5 200.7 L718.5 200.7 L717.4 200.7 L716.4 200.7 L715.4 200.8 L714.4 200.8 L713.4 200.8 L712.4 200.8 L711.4 200.9 L710.4 200.9 L709.4 200.9 L708.4 200.9 L707.4 201 L706.4 201 L705.4 201 L704.4 201.1 L703.4 201.1 L702.4 201.1 L701.4 201.2 L700.4 201.2 L699.4 201.2 L698.4 201.3 L697.4 201.3 L696.4 201.3 L695.4 201.4 L694.4 201.4 L693.4 201.5 L692.4 201.5 L691.4 201.6 L690.4 201.6 L689.4 201.7 L688.4 201.8 L687.4 201.8 L686.4 201.9 L685.4 201.9 L684.4 202 L683.4 202.1 L682.4 202.2 L681.4 202.3 L680.4 202.3 L679.4 202.4 L678.4 202.5 L677.4 202.6 L676.4 202.7 L675.4 202.8 L674.4 203 L673.4 203.1 L672.4 203.2 L671.4 203.3 L670.4 203.4 L669.4 203.5 L668.4 203.7 L667.4 203.8 L666.4 203.9 L665.4 204.1 L664.4 204.2 L663.4 204.3 L662.4 204.5 L661.4 204.6 L660.5 204.8 L659.5 205 L658.5 205.1 L657.5 205.3 L656.5 205.5 L655.5 205.7 L654.5 205.9 L653.6 206.1 L652.6 206.3 L651.6 206.6 L650.6 206.8 L649.7 207.1 L648.7 207.4 L647.8 207.7 L646.8 208.1 L645.9 208.4 L644.9 208.8 L644 209.1 L643.1 209.5 L642.1 209.9 L641.2 210.3 L640.3 210.8 L639.5 211.2 L638.6 211.7 L637.7 212.2 L636.8 212.8 L636 213.3 L635.2 213.8 L634.3 214.4 L633.5 215 L632.7 215.5 L631.9 216.1 L631.1 216.8 L630.3 217.4 L629.5 218 L628.8 218.7 L628 219.4 L627.3 220.1 L626.6 220.8 L625.9 221.5 L625.2 222.2 L624.6 223 L623.9 223.8 L623.3 224.6 L622.7 225.4 L622.2 226.2 L621.7 227.1 L621.2 228 L620.7 228.9 L620.3 229.8 L620 230.7 L619.6 231.7 L619.2 232.6 L618.9 233.6 L618.6 234.5 L618.4 235.5 L618.2 236.5 L618.2 237.5 L618.1 238.5 L618.1 239.5 L618 240.5 L618 241.5 L618.8 256.4 L618.9 257.4 L619.1 258.4 L619.2 259.4 L619.4 260.4 L619.6 261.4 L619.8 262.3 L620 263.3 L620.2 264.3 L620.5 265.3 L620.8 266.2 L621.1 267.2 L621.4 268.2 L621.7 269.1 L622.1 270.1 L622.4 271 L622.8 271.9 L623.2 272.8 L623.6 273.8 L624.1 274.7 L624.5 275.5 L625 276.4 L625.5 277.3 L626.1 278.2 L626.6 279 L627.2 279.8 L627.8 280.7 L628.3 281.5 L629 282.2 L629.6 283 L630.3 283.8 L630.9 284.5 L631.6 285.3 L632.3 286 L633 286.8 L633.7 287.5 L634.4 288.2 L635.1 288.9 L635.9 289.6 L636.6 290.2 L637.4 290.8 L638.2 291.5 L639 292.1 L639.8 292.7 L640.7 293.2 L641.5 293.8 L642.3 294.3 L643.2 294.9 L644 295.4 L644.9 296 L645.7 296.5 L646.6 297 L647.5 297.5 L648.4 297.9 L649.3 298.3 L650.2 298.7 L651.1 299.1 L652.1 299.5 L653 299.9 L654 300.2 L654.9 300.6 L655.9 300.9 L656.8 301.2 L657.8 301.5 L658.7 301.8 L659.7 302 L660.7 302.3 L661.7 302.5 L662.6 302.8 L663.6 303 L664.6 303.2 L665.6 303.5 L666.6 303.7 L667.5 303.9 L668.5 304.1 L669.5 304.3 L670.5 304.5 L671.5 304.7 L672.5 304.8 L673.5 305 L674.4 305.2 L675.4 305.4 L676.4 305.5 L677.4 305.7 L678.4 305.9 L679.4 306 L680.4 306.2 L681.4 306.4 L682.4 306.5 L683.4 306.7 L684.4 306.8 L685.4 307 L686.4 307.1 L687.4 307.2 L688.3 307.4 L689.3 307.5 L690.3 307.6 L691.3 307.8 L692.3 307.9 L693.3 308 L694.3 308.2 L695.3 308.3 L696.3 308.4 L697.3 308.5 L698.3 308.7 L699.3 308.8 L700.3 308.9 L701.3 309 L702.3 309.1 L703.3 309.2 L704.3 309.3 L705.3 309.4 L706.3 309.5 L707.3 309.6 L708.3 309.7 L709.3 309.8 L710.3 309.9 L711.3 309.9 L712.3 310 L713.3 310.1 L714.3 310.1 L715.3 310.2 L716.3 310.3 L717.3 310.3 L718.3 310.4 L719.3 310.4 L720.3 310.5 L721.3 310.6 L722.3 310.6 L723.4 310.7 L724.4 310.7 L725.4 310.8 L726.4 310.8 L727.4 310.9 L728.4 310.9 L729.4 311 L730.4 311 L731.4 311 L732.4 311.1 L733.4 311.1 L734.4 311.1 L735.4 311.2 L736.4 311.2 L737.4 311.2 L738.4 311.2 L739.4 311.3 L740.4 311.3 L741.4 311.3 L742.4 311.3 L743.4 311.4 L744.4 311.4 L745.4 311.4 L746.5 311.4 L747.5 311.4 L748.5 311.4 L749.5 311.5 L750.5 311.5 L751.5 311.5 L752.5 311.5 L753.5 311.5 L754.5 311.5 L755.5 311.5 L756.5 311.6 L757.5 311.6 L758.5 311.6 L759.5 311.6 L760.5 311.6 L761.5 311.6 L762.5 311.6 L763.5 311.6 L764.5 311.6 L765.5 311.6 L766.5 311.6 L767.6 311.6 L768.6 311.6 L769.6 311.6 L770.6 311.6 L771.6 311.6 L772.6 311.6 L773.6 311.6 L774.6 311.6 L775.6 311.6 L776.6 311.6 L777.6 311.6 L778.6 311.6 L779.6 311.6 L780.6 311.6 L781.6 311.6 L782.6 311.6 L783.6 311.6 L784.6 311.6 L785.6 311.6 L786.6 311.6 L787.7 311.6 L788.7 311.6 L789.7 311.6 L790.7 311.6 L791.7 311.6 L792.7 311.6 L793.7 311.6 L794.7 311.6 L795.7 311.6 L796.7 311.6 L797.7 311.6 L797.7 317.2 L584.9 317.2 L584.9 199 Z" fill="#FBE0D7"/><path d="M618 199 V317.2" stroke="#F8D8CE" stroke-width="0.7"/>
<path d="M584.9 192.6 V322.2" stroke="#666666" stroke-width="1" fill="none"/>
<path d="M584.9 317.2 H797.8" stroke="#666666" stroke-width="1" fill="none"/>
<path d="M602.7 317.2 v-2.9" stroke="#666666" stroke-width="0.8"/>
<text x="602.2" y="330.4" font-size="11.2" fill="#1a1a1a" text-anchor="middle">1</text>
<path d="M631.93 317.2 v-2.9" stroke="#666666" stroke-width="0.8"/>
<text x="631.43" y="330.4" font-size="11.2" fill="#1a1a1a" text-anchor="middle">1.5</text>
<path d="M652.68 317.2 v-2.9" stroke="#666666" stroke-width="0.8"/>
<text x="652.18" y="330.4" font-size="11.2" fill="#1a1a1a" text-anchor="middle">2</text>
<path d="M681.91 317.2 v-2.9" stroke="#666666" stroke-width="0.8"/>
<text x="681.41" y="330.4" font-size="11.2" fill="#1a1a1a" text-anchor="middle">3</text>
<path d="M702.65 317.2 v-2.9" stroke="#666666" stroke-width="0.8"/>
<text x="702.15" y="330.4" font-size="11.2" fill="#1a1a1a" text-anchor="middle">4</text>
<path d="M718.74 317.2 v-2.9" stroke="#666666" stroke-width="0.8"/>
<text x="718.24" y="330.4" font-size="11.2" fill="#1a1a1a" text-anchor="middle">5</text>
<path d="M731.89 317.2 v-2.9" stroke="#666666" stroke-width="0.8"/>
<text x="731.39" y="330.4" font-size="11.2" fill="#1a1a1a" text-anchor="middle">6</text>
<path d="M752.63 317.2 v-2.9" stroke="#666666" stroke-width="0.8"/>
<text x="752.13" y="330.4" font-size="11.2" fill="#1a1a1a" text-anchor="middle">8</text>
<path d="M768.72 317.2 v-2.9" stroke="#666666" stroke-width="0.8"/>
<text x="768.22" y="330.4" font-size="11.2" fill="#1a1a1a" text-anchor="middle">10</text>
<path d="M792.98 317.2 v-2.9" stroke="#666666" stroke-width="0.8"/>
<text x="792.48" y="330.4" font-size="11.2" fill="#1a1a1a" text-anchor="middle">14</text>
<path d="M668.76 317.2 v-1.7" stroke="#666666" stroke-width="0.6"/>
<path d="M693.02 317.2 v-1.7" stroke="#666666" stroke-width="0.6"/>
<path d="M711.14 317.2 v-1.7" stroke="#666666" stroke-width="0.6"/>
<path d="M725.61 317.2 v-1.7" stroke="#666666" stroke-width="0.6"/>
<path d="M737.66 317.2 v-1.7" stroke="#666666" stroke-width="0.6"/>
<path d="M743 317.2 v-1.7" stroke="#666666" stroke-width="0.6"/>
<path d="M747.97 317.2 v-1.7" stroke="#666666" stroke-width="0.6"/>
<path d="M757 317.2 v-1.7" stroke="#666666" stroke-width="0.6"/>
<path d="M761.12 317.2 v-1.7" stroke="#666666" stroke-width="0.6"/>
<path d="M765.02 317.2 v-1.7" stroke="#666666" stroke-width="0.6"/>
<path d="M775.59 317.2 v-1.7" stroke="#666666" stroke-width="0.6"/>
<path d="M781.86 317.2 v-1.7" stroke="#666666" stroke-width="0.6"/>
<path d="M787.63 317.2 v-1.7" stroke="#666666" stroke-width="0.6"/>
<path d="M584.9 199.3 h2.9" stroke="#666666" stroke-width="0.8"/>
<text x="582.3" y="203.61" font-size="11.2" fill="#1a1a1a" text-anchor="end">1.0</text>
<path d="M584.9 222.12 h2.9" stroke="#666666" stroke-width="0.8"/>
<text x="582.3" y="226.43" font-size="11.2" fill="#1a1a1a" text-anchor="end">0.9</text>
<path d="M584.9 244.94 h2.9" stroke="#666666" stroke-width="0.8"/>
<text x="582.3" y="249.25" font-size="11.2" fill="#1a1a1a" text-anchor="end">0.8</text>
<path d="M584.9 267.76 h2.9" stroke="#666666" stroke-width="0.8"/>
<text x="582.3" y="272.07" font-size="11.2" fill="#1a1a1a" text-anchor="end">0.7</text>
<path d="M584.9 290.58 h2.9" stroke="#666666" stroke-width="0.8"/>
<text x="582.3" y="294.89" font-size="11.2" fill="#1a1a1a" text-anchor="end">0.6</text>
<path d="M584.9 313.4 h2.9" stroke="#666666" stroke-width="0.8"/>
<text x="582.3" y="317.71" font-size="11.2" fill="#1a1a1a" text-anchor="end">0.5</text>
<path d="M584.9 199.3 h1.7" stroke="#666666" stroke-width="0.6"/>
<path d="M584.9 203.86 h1.7" stroke="#666666" stroke-width="0.6"/>
<path d="M584.9 208.43 h1.7" stroke="#666666" stroke-width="0.6"/>
<path d="M584.9 212.99 h1.7" stroke="#666666" stroke-width="0.6"/>
<path d="M584.9 217.56 h1.7" stroke="#666666" stroke-width="0.6"/>
<path d="M584.9 222.12 h1.7" stroke="#666666" stroke-width="0.6"/>
<path d="M584.9 226.68 h1.7" stroke="#666666" stroke-width="0.6"/>
<path d="M584.9 231.25 h1.7" stroke="#666666" stroke-width="0.6"/>
<path d="M584.9 235.81 h1.7" stroke="#666666" stroke-width="0.6"/>
<path d="M584.9 240.38 h1.7" stroke="#666666" stroke-width="0.6"/>
<path d="M584.9 244.94 h1.7" stroke="#666666" stroke-width="0.6"/>
<path d="M584.9 249.5 h1.7" stroke="#666666" stroke-width="0.6"/>
<path d="M584.9 254.07 h1.7" stroke="#666666" stroke-width="0.6"/>
<path d="M584.9 258.63 h1.7" stroke="#666666" stroke-width="0.6"/>
<path d="M584.9 263.2 h1.7" stroke="#666666" stroke-width="0.6"/>
<path d="M584.9 267.76 h1.7" stroke="#666666" stroke-width="0.6"/>
<path d="M584.9 272.32 h1.7" stroke="#666666" stroke-width="0.6"/>
<path d="M584.9 276.89 h1.7" stroke="#666666" stroke-width="0.6"/>
<path d="M584.9 281.45 h1.7" stroke="#666666" stroke-width="0.6"/>
<path d="M584.9 286.02 h1.7" stroke="#666666" stroke-width="0.6"/>
<path d="M584.9 290.58 h1.7" stroke="#666666" stroke-width="0.6"/>
<path d="M584.9 295.14 h1.7" stroke="#666666" stroke-width="0.6"/>
<path d="M584.9 299.71 h1.7" stroke="#666666" stroke-width="0.6"/>
<path d="M584.9 304.27 h1.7" stroke="#666666" stroke-width="0.6"/>
<path d="M584.9 308.84 h1.7" stroke="#666666" stroke-width="0.6"/>
<path d="M584.9 313.4 h1.7" stroke="#666666" stroke-width="0.6"/>
<path d="M618 242L618 241L618 240L618.1 239L618.1 238L618.2 237L618.3 236L618.5 235L618.8 234L619.1 233.1L619.4 232.1L619.8 231.2L620.1 230.2L620.5 229.3L621 228.4L621.4 227.5L621.9 226.6L622.4 225.7L623 224.9L623.6 224.1L624.3 223.3L624.9 222.6L625.6 221.8L626.3 221.1L627 220.4L627.7 219.7L628.4 219L629.2 218.3L630 217.7L630.7 217L631.5 216.4L632.3 215.8L633.1 215.2L634 214.6L634.8 214.1L635.6 213.5L636.5 213L637.4 212.4L638.2 211.9L639.1 211.4L640 211L640.9 210.5L641.8 210.1L642.7 209.7L643.6 209.3L644.6 208.9L645.5 208.5L646.5 208.2L647.4 207.9L648.4 207.5L649.3 207.2L650.3 207L651.3 206.7L652.2 206.4L653.2 206.2L654.2 205.9L655.2 205.7L656.1 205.5L657.1 205.4L658.1 205.2L659.1 205L660.1 204.8L661.1 204.7L662.1 204.5L663.1 204.4L664.1 204.2L665.1 204.1L666.1 204L667.1 203.8L668.1 203.7L669.1 203.6L670.1 203.4L671.1 203.3L672.1 203.2L673.1 203.1L674.1 203L675.1 202.9L676.1 202.8L677.1 202.7L678.1 202.6L679.1 202.5L680.1 202.4L681.1 202.3L682.1 202.2L683.1 202.1L684.1 202L685.1 202L686.1 201.9L687.1 201.8L688.1 201.8L689.1 201.7L690.1 201.7L691.1 201.6L692.1 201.5L693.1 201.5L694.1 201.4L695.1 201.4L696.1 201.3L697.1 201.3L698.1 201.3L699.1 201.2L700.2 201.2L701.2 201.2L702.2 201.1L703.2 201.1L704.2 201.1L705.2 201L706.2 201L707.2 201L708.2 200.9L709.2 200.9L710.2 200.9L711.2 200.9L712.2 200.8L713.2 200.8L714.2 200.8L715.2 200.8L716.2 200.7L717.2 200.7L718.3 200.7L719.3 200.7L720.3 200.7L721.3 200.6L722.3 200.6L723.3 200.6L724.3 200.6L725.3 200.6L726.3 200.6L727.3 200.5L728.3 200.5L729.3 200.5L730.3 200.5L731.3 200.5L732.3 200.5L733.3 200.5L734.3 200.4L735.3 200.4L736.4 200.4L737.4 200.4L738.4 200.4L739.4 200.4L740.4 200.4L741.4 200.4L742.4 200.4L743.4 200.3L744.4 200.3L745.4 200.3L746.4 200.3L747.4 200.3L748.4 200.3L749.4 200.3L750.4 200.3L751.4 200.3L752.4 200.3L753.4 200.2L754.5 200.2L755.5 200.2L756.5 200.2L757.5 200.2L758.5 200.2L759.5 200.2L760.5 200.2L761.5 200.2L762.5 200.2L763.5 200.2L764.5 200.1L765.5 200.1L766.5 200.1L767.5 200.1L768.5 200.1L769.5 200.1L770.5 200.1L771.5 200.1L772.6 200.1L773.6 200.1L774.6 200.1L775.6 200.1L776.6 200.1L777.6 200.1L778.6 200.1L779.6 200L780.6 200L781.6 200L782.6 200L783.6 200L784.6 200L785.6 200L786.6 200L787.6 200L788.6 200L789.7 200L790.7 200L791.7 200L792.7 200L793.7 200L794.7 200L795.7 200L796.7 200L797.7 200M618.8 256.4L618.9 257.4L619.1 258.4L619.2 259.4L619.4 260.4L619.6 261.4L619.8 262.4L620 263.4L620.2 264.3L620.5 265.3L620.8 266.3L621.1 267.3L621.4 268.2L621.7 269.2L622.1 270.1L622.5 271.1L622.8 272L623.3 272.9L623.7 273.8L624.1 274.7L624.6 275.6L625.1 276.5L625.6 277.4L626.1 278.3L626.7 279.1L627.2 279.9L627.8 280.8L628.4 281.6L629.1 282.4L629.7 283.1L630.4 283.9L631 284.7L631.7 285.4L632.4 286.2L633.1 286.9L633.8 287.6L634.5 288.3L635.3 289L636 289.7L636.8 290.3L637.6 291L638.4 291.6L639.2 292.2L640 292.8L640.8 293.4L641.7 293.9L642.5 294.5L643.4 295L644.2 295.6L645.1 296.1L646 296.6L646.8 297.1L647.7 297.6L648.6 298L649.5 298.4L650.5 298.8L651.4 299.2L652.3 299.6L653.3 300L654.2 300.3L655.2 300.7L656.1 301L657.1 301.3L658.1 301.6L659 301.9L660 302.1L661 302.4L662 302.6L663 302.9L663.9 303.1L664.9 303.3L665.9 303.5L666.9 303.7L667.9 304L668.9 304.2L669.9 304.3L670.9 304.5L671.9 304.7L672.9 304.9L673.8 305.1L674.8 305.3L675.8 305.4L676.8 305.6L677.8 305.8L678.8 305.9L679.8 306.1L680.8 306.3L681.8 306.4L682.8 306.6L683.8 306.7L684.8 306.9L685.8 307L686.8 307.2L687.8 307.3L688.8 307.4L689.8 307.6L690.8 307.7L691.8 307.8L692.8 308L693.8 308.1L694.8 308.2L695.8 308.4L696.8 308.5L697.8 308.6L698.8 308.7L699.8 308.9L700.8 309L701.8 309.1L702.8 309.2L703.8 309.3L704.9 309.4L705.9 309.5L706.9 309.6L707.9 309.7L708.9 309.8L709.9 309.8L710.9 309.9L711.9 310L712.9 310L713.9 310.1L714.9 310.2L715.9 310.2L716.9 310.3L717.9 310.4L719 310.4L720 310.5L721 310.5L722 310.6L723 310.6L724 310.7L725 310.7L726 310.8L727 310.8L728 310.9L729 310.9L730 311L731.1 311L732.1 311.1L733.1 311.1L734.1 311.1L735.1 311.2L736.1 311.2L737.1 311.2L738.1 311.2L739.1 311.3L740.1 311.3L741.1 311.3L742.2 311.3L743.2 311.3L744.2 311.4L745.2 311.4L746.2 311.4L747.2 311.4L748.2 311.4L749.2 311.5L750.2 311.5L751.2 311.5L752.3 311.5L753.3 311.5L754.3 311.5L755.3 311.5L756.3 311.6L757.3 311.6L758.3 311.6L759.3 311.6L760.3 311.6L761.3 311.6L762.4 311.6L763.4 311.6L764.4 311.6L765.4 311.6L766.4 311.6L767.4 311.6L768.4 311.6L769.4 311.6L770.4 311.6L771.4 311.6L772.5 311.6L773.5 311.6L774.5 311.6L775.5 311.6L776.5 311.6L777.5 311.6L778.5 311.6L779.5 311.6L780.5 311.6L781.5 311.6L782.6 311.6L783.6 311.6L784.6 311.6L785.6 311.6L786.6 311.6L787.6 311.6L788.6 311.6L789.6 311.6L790.6 311.6L791.6 311.6L792.7 311.6L793.7 311.6L794.7 311.6L795.7 311.6L796.7 311.6L797.7 311.6M618 242L618.8 256.4" fill="none" stroke="#EB6235" stroke-width="1.25" stroke-linejoin="round"/>
<path d="M618 242h0M618.1 239.2h0M618.2 236.4h0M618.8 233.9h0M619.6 231.6h0M620.6 229.2h0M621.6 227.2h0M623 225h0M624.3 223.3h0M625.7 221.8h0M626.9 220.4h0M629.4 218.1h0M631.9 216.1h0M634.4 214.4h0M636.5 212.9h0M638.8 211.6h0M640.9 210.5h0M643.1 209.5h0M645.1 208.7h0M647 208h0M648.9 207.4h0M650.9 206.8h0M652.6 206.3h0M656.1 205.5h0M659.5 205h0M662.8 204.4h0M665.8 204h0M668.8 203.6h0M671.6 203.3h0M674.4 203h0M677 202.7h0M679.6 202.4h0M681.9 202.2h0M686.5 201.9h0M690.9 201.6h0M695.1 201.4h0M698.9 201.2h0M702.7 201.1h0M706.2 201h0M709.6 200.9h0M712.8 200.8h0M715.8 200.8h0M718.8 200.7h0M724.4 200.6h0M729.4 200.5h0M734.2 200.5h0M738.8 200.4h0M743 200.3h0M747 200.3h0M750.8 200.3h0M754.4 200.2h0M757.8 200.2h0M761 200.2h0M764.2 200.1h0M767.2 200.1h0M770.1 200.1h0M772.9 200.1h0M775.7 200.1h0M778.1 200.1h0M780.7 200h0M783.1 200h0M785.5 200h0M787.7 200h0M789.9 200h0M791.9 200h0M794.1 200h0M796.1 200h0M797.7 200h0M618.8 256.4h0M619.2 259h0M619.6 261.5h0M620.2 264.1h0M620.9 266.6h0M621.6 268.9h0M622.5 271.1h0M623.4 273.2h0M624.3 275.1h0M625.6 277.4h0M626.9 279.4h0M628.2 281.2h0M629.4 282.8h0M630.7 284.3h0M631.9 285.7h0M634.3 288.1h0M636.5 290.1h0M638.7 291.9h0M640.9 293.4h0M643 294.8h0M645.1 296.1h0M647 297.2h0M649 298.2h0M650.8 299h0M652.7 299.7h0M654.6 300.4h0M656.3 301h0M659.5 302h0M662.8 302.8h0M665.8 303.5h0M668.7 304.1h0M671.7 304.7h0M674.4 305.2h0M677 305.6h0M679.5 306.1h0M681.9 306.4h0M686.5 307.1h0M690.9 307.7h0M695 308.3h0M699 308.8h0M702.6 309.2h0M706.2 309.5h0M709.6 309.8h0M712.8 310h0M715.8 310.2h0M718.8 310.4h0M724.4 310.7h0M729.4 311h0M734.2 311.1h0M738.8 311.3h0M743 311.3h0M747 311.4h0M750.8 311.5h0M754.4 311.5h0M757.8 311.6h0M761 311.6h0M764.2 311.6h0M767.2 311.6h0M770 311.6h0M772.9 311.6h0M775.7 311.6h0M778.3 311.6h0M780.7 311.6h0M783.1 311.6h0M785.5 311.6h0M787.7 311.6h0M789.9 311.6h0M791.9 311.6h0M794.1 311.6h0M796.1 311.6h0M797.7 311.6h0" stroke="#EB6235" stroke-width="4.6" stroke-linecap="round" fill="none"/>
<path d="M623.7 229L623.8 228L623.9 227L624 226L624.2 225L624.4 224L624.6 223L624.9 222L625.1 221.1L625.5 220.1L625.9 219.2L626.3 218.2L626.7 217.3L627.2 216.5L627.8 215.6L628.4 214.8L629 214L629.6 213.2L630.2 212.4L630.9 211.6L631.6 210.9L632.3 210.2L633 209.5L633.8 208.9L634.6 208.3L635.4 207.7L636.3 207.1L637.2 206.6L638 206.1L638.9 205.7L639.9 205.2L640.8 204.8L641.7 204.4L642.7 204.1L643.6 203.8L644.6 203.5L645.6 203.3L646.6 203.1L647.5 202.9L648.5 202.7L649.5 202.5L650.5 202.3L651.5 202.2L652.5 202L653.5 201.9L654.5 201.8L655.5 201.6L656.5 201.5L657.5 201.3L658.5 201.2L659.5 201.1L660.5 201L661.5 200.9L662.5 200.9L663.6 200.8L664.6 200.7L665.6 200.6L666.6 200.6L667.6 200.5L668.6 200.4L669.6 200.4L670.6 200.3L671.6 200.2L672.6 200.2L673.6 200.2L674.6 200.1L675.6 200.1L676.6 200L677.7 200L678.7 200L679.7 199.9L680.7 199.9L681.7 199.9L682.7 199.8L683.7 199.8L684.7 199.8L685.7 199.8L686.7 199.7L687.7 199.7L688.7 199.7L689.8 199.7L690.8 199.6L691.8 199.6L692.8 199.6L693.8 199.6L694.8 199.6L695.8 199.5L696.8 199.5L697.8 199.5L698.8 199.5L699.8 199.5L700.9 199.5L701.9 199.5L702.9 199.5L703.9 199.5L704.9 199.5L705.9 199.5L706.9 199.5L707.9 199.5L708.9 199.4L709.9 199.4L710.9 199.4L711.9 199.4L713 199.4L714 199.4L715 199.4L716 199.4L717 199.4L718 199.4L719 199.4L720 199.4L721 199.4L722 199.4L723 199.4L724.1 199.4L725.1 199.4L726.1 199.4L727.1 199.4L728.1 199.3L729.1 199.3L730.1 199.3L731.1 199.3L732.1 199.3L733.1 199.3L734.1 199.3L735.1 199.3L736.2 199.3L737.2 199.3L738.2 199.3L739.2 199.3L740.2 199.3L741.2 199.3L742.2 199.3L743.2 199.3L744.2 199.3L745.2 199.3L746.2 199.3L747.3 199.3L748.3 199.3L749.3 199.3L750.3 199.3L751.3 199.3L752.3 199.3L753.3 199.3L754.3 199.3L755.3 199.3L756.3 199.3L757.3 199.2L758.4 199.2L759.4 199.2L760.4 199.2L761.4 199.2L762.4 199.2L763.4 199.2L764.4 199.2L765.4 199.2L766.4 199.2L767.4 199.2L768.4 199.2L769.4 199.2L770.5 199.2L771.5 199.2L772.5 199.2L773.5 199.2L774.5 199.2L775.5 199.2L776.5 199.2L777.5 199.2L778.5 199.2L779.5 199.2L780.5 199.2L781.6 199.2L782.6 199.2L783.6 199.2L784.6 199.2L785.6 199.2L786.6 199.2L787.6 199.2L788.6 199.2L789.6 199.2L790.6 199.2L791.6 199.2L792.7 199.2L793.7 199.2L794.7 199.2L795.7 199.2L796.7 199.2L797.7 199.2M624.2 231.5L624.2 232.5L624.3 233.5L624.4 234.5L624.5 235.5L624.6 236.5L624.7 237.5L624.9 238.5L625.2 239.5L625.5 240.4L625.8 241.4L626.1 242.4L626.4 243.3L626.7 244.3L627 245.2L627.4 246.2L627.8 247.1L628.2 248L628.6 248.9L629.1 249.8L629.6 250.7L630.1 251.6L630.6 252.5L631.1 253.3L631.6 254.2L632.1 255L632.7 255.9L633.3 256.7L633.9 257.5L634.5 258.3L635.2 259.1L635.8 259.8L636.5 260.6L637.2 261.3L638 262L638.7 262.7L639.4 263.3L640.2 264L641 264.6L641.8 265.3L642.6 265.9L643.4 266.5L644.2 267L645.1 267.6L645.9 268.1L646.8 268.6L647.7 269.1L648.5 269.6L649.4 270.2L650.2 270.7L651.1 271.2L652 271.7L652.9 272.1L653.8 272.6L654.7 273.1L655.6 273.5L656.5 273.9L657.4 274.4L658.3 274.8L659.2 275.3L660.1 275.7L661 276.2L662 276.6L662.9 277L663.8 277.4L664.7 277.7L665.7 278.1L666.6 278.4L667.6 278.7L668.5 279L669.5 279.3L670.5 279.5L671.5 279.8L672.4 280.1L673.4 280.3L674.4 280.5L675.4 280.8L676.4 281L677.3 281.2L678.3 281.4L679.3 281.6L680.3 281.8L681.3 282L682.3 282.2L683.3 282.4L684.2 282.6L685.2 282.8L686.2 283L687.2 283.1L688.2 283.3L689.2 283.5L690.2 283.6L691.2 283.8L692.2 284L693.2 284.1L694.2 284.3L695.2 284.5L696.2 284.6L697.2 284.8L698.2 284.9L699.2 285.1L700.2 285.2L701.1 285.4L702.1 285.5L703.1 285.6L704.1 285.8L705.1 285.9L706.1 286L707.1 286.1L708.1 286.2L709.1 286.3L710.1 286.4L711.1 286.4L712.2 286.5L713.2 286.6L714.2 286.7L715.2 286.7L716.2 286.8L717.2 286.8L718.2 286.9L719.2 286.9L720.2 287L721.2 287L722.2 287.1L723.2 287.1L724.2 287.2L725.2 287.2L726.2 287.3L727.2 287.3L728.2 287.3L729.2 287.4L730.3 287.4L731.3 287.4L732.3 287.5L733.3 287.5L734.3 287.5L735.3 287.6L736.3 287.6L737.3 287.6L738.3 287.7L739.3 287.7L740.3 287.7L741.3 287.7L742.3 287.8L743.3 287.8L744.3 287.8L745.4 287.8L746.4 287.9L747.4 287.9L748.4 287.9L749.4 287.9L750.4 287.9L751.4 288L752.4 288L753.4 288L754.4 288L755.4 288.1L756.4 288.1L757.4 288.1L758.4 288.1L759.4 288.1L760.5 288.1L761.5 288.2L762.5 288.2L763.5 288.2L764.5 288.2L765.5 288.2L766.5 288.2L767.5 288.2L768.5 288.2L769.5 288.3L770.5 288.3L771.5 288.3L772.5 288.3L773.5 288.3L774.5 288.3L775.6 288.3L776.6 288.3L777.6 288.4L778.6 288.4L779.6 288.4L780.6 288.4L781.6 288.4L782.6 288.4L783.6 288.4L784.6 288.4L785.6 288.4L786.6 288.4L787.6 288.4L788.6 288.5L789.6 288.5L790.7 288.5L791.7 288.5L792.7 288.5L793.7 288.5L794.7 288.5L795.7 288.5L796.7 288.5L797.7 288.5M623.9 229L624.2 231.5" fill="none" stroke="#8FB032" stroke-width="1.25" stroke-linejoin="round"/>
<path d="M623.7 229h0M623.9 226.6h0M624.3 224.4h0M625 221.7h0M625.8 219.2h0M627 216.9h0M628.3 214.9h0M629.5 213.3h0M631.9 210.6h0M634.3 208.5h0M636.7 206.9h0M638.7 205.8h0M640.9 204.7h0M643 204h0M645.1 203.4h0M647.1 202.9h0M649 202.6h0M650.8 202.3h0M652.6 202h0M656.2 201.5h0M659.6 201.1h0M662.7 200.8h0M665.7 200.6h0M668.7 200.4h0M671.5 200.3h0M674.3 200.1h0M676.9 200h0M679.5 199.9h0M681.9 199.9h0M686.6 199.7h0M691 199.6h0M695 199.6h0M699 199.5h0M702.6 199.5h0M706.2 199.5h0M709.6 199.4h0M712.8 199.4h0M715.8 199.4h0M718.8 199.4h0M724.2 199.4h0M729.4 199.3h0M734.2 199.3h0M738.8 199.3h0M743 199.3h0M747 199.3h0M750.8 199.3h0M754.4 199.3h0M757.8 199.2h0M761 199.2h0M764.3 199.2h0M767.3 199.2h0M770.1 199.2h0M772.9 199.2h0M775.7 199.2h0M778.1 199.2h0M780.7 199.2h0M783.1 199.2h0M785.3 199.2h0M787.7 199.2h0M789.9 199.2h0M791.9 199.2h0M794.1 199.2h0M796.1 199.2h0M797.7 199.2h0M624.2 231.5h0M624.3 234.3h0M624.6 237.1h0M625.3 239.8h0M626.1 242.5h0M626.9 245h0M627.8 247h0M628.6 248.8h0M629.4 250.4h0M630.7 252.7h0M632 254.8h0M633.2 256.6h0M634.3 258h0M636.5 260.6h0M638.9 262.8h0M641 264.6h0M643 266.2h0M645.1 267.5h0M647.1 268.8h0M649 269.9h0M650.9 271.1h0M652.7 272h0M654.4 272.9h0M656.2 273.8h0M659.5 275.4h0M662.8 276.9h0M665.7 278.1h0M668.8 279h0M671.7 279.9h0M674.2 280.5h0M677 281.1h0M679.5 281.7h0M681.9 282.2h0M686.6 283h0M690.9 283.8h0M695.1 284.4h0M699 285.1h0M702.6 285.6h0M706.2 286h0M709.6 286.3h0M712.8 286.6h0M715.8 286.8h0M718.8 286.9h0M724.4 287.2h0M729.4 287.4h0M734.2 287.5h0M738.8 287.7h0M743 287.8h0M747 287.9h0M750.8 288h0M754.4 288h0M757.8 288.1h0M761 288.1h0M764.2 288.2h0M767.2 288.2h0M770.1 288.3h0M772.9 288.3h0M775.7 288.3h0M778.1 288.4h0M780.7 288.4h0M783.1 288.4h0M785.5 288.4h0M787.7 288.4h0M789.9 288.5h0M791.9 288.5h0M794.1 288.5h0M796.1 288.5h0M797.7 288.5h0" stroke="#8FB032" stroke-width="4.6" stroke-linecap="square" fill="none"/>
<path d="M629.3 215L629.8 214.1L630.2 213.2L630.8 212.3L631.3 211.5L631.8 210.6L632.4 209.8L633 209L633.7 208.2L634.4 207.5L635.1 206.7L635.8 206L636.5 205.3L637.3 204.7L638.2 204.1L639 203.6L639.9 203L640.7 202.5L641.7 202.1L642.6 201.7L643.5 201.3L644.5 201L645.5 200.8L646.5 200.5L647.4 200.3L648.4 200.1L649.4 200L650.4 199.8L651.4 199.6L652.4 199.5L653.5 199.4L654.5 199.3L655.5 199.3L656.5 199.3L657.5 199.2L658.5 199.2L659.5 199.2L660.5 199.2L661.5 199.2L662.5 199.1L663.5 199.1L664.6 199.1L665.6 199.1L666.6 199.1L667.6 199.1L668.6 199.1L669.6 199.1L670.6 199.1L671.6 199.1L672.7 199.1L673.7 199.1L674.7 199.1L675.7 199.1L676.7 199.1L677.7 199.1L678.7 199.1L679.7 199.1L680.7 199.1L681.8 199.1L682.8 199.1L683.8 199.1L684.8 199.1L685.8 199.1L686.8 199.1L687.8 199.1L688.8 199.1L689.8 199.1L690.9 199.1L691.9 199.1L692.9 199.1L693.9 199.1L694.9 199.1L695.9 199.1L696.9 199.1L697.9 199.1L698.9 199.1L700 199.1L701 199.1L702 199.1L703 199.1L704 199.1L705 199.1L706 199.1L707 199.1L708 199.1L709.1 199.1L710.1 199.1L711.1 199.1L712.1 199.1L713.1 199.1L714.1 199.1L715.1 199.1L716.1 199.1L717.1 199.1L718.2 199.1L719.2 199.1L720.2 199.1L721.2 199.1L722.2 199.1L723.2 199.1L724.2 199.1L725.2 199.1L726.2 199.1L727.3 199.1L728.3 199.1L729.3 199.1L730.3 199.1L731.3 199.1L732.3 199.1L733.3 199.1L734.3 199.1L735.3 199.1L736.4 199.1L737.4 199.1L738.4 199.1L739.4 199.1L740.4 199.1L741.4 199.1L742.4 199.1L743.4 199.1L744.4 199.1L745.5 199.1L746.5 199.1L747.5 199.1L748.5 199.1L749.5 199.1M629.9 221.9L630.2 222.9L630.6 223.8L630.9 224.7L631.3 225.7L631.7 226.6L632.1 227.5L632.6 228.4L633 229.3L633.5 230.2L633.9 231.1L634.4 232L634.9 232.9L635.3 233.8L635.8 234.7L636.3 235.5L636.8 236.4L637.3 237.3L637.8 238.1L638.4 239L638.9 239.8L639.5 240.6L640.2 241.4L640.8 242.1L641.5 242.9L642.3 243.6L643 244.3L643.7 245L644.5 245.6L645.3 246.3L646 246.9L646.8 247.5L647.6 248.1L648.5 248.7L649.3 249.3L650.2 249.8L651 250.3L651.9 250.9L652.8 251.4L653.7 251.8L654.5 252.3L655.4 252.7L656.4 253.2L657.3 253.6L658.2 254L659.1 254.4L660.1 254.7L661 255.1L662 255.5L662.9 255.8L663.8 256.1L664.8 256.5L665.7 256.8L666.7 257.1L667.7 257.4L668.6 257.7L669.6 258L670.6 258.3L671.5 258.5L672.5 258.8L673.5 259L674.5 259.2L675.4 259.4L676.4 259.6L677.4 259.7L678.4 259.9L679.4 260L680.4 260.2L681.4 260.3L682.4 260.5L683.4 260.6L684.4 260.8L685.4 261L686.4 261.1L687.4 261.3L688.4 261.4L689.4 261.6L690.4 261.8L691.3 261.9L692.3 262.1L693.3 262.2L694.3 262.4L695.3 262.6L696.3 262.7L697.3 262.9L698.3 263L699.3 263.2L700.3 263.3L701.3 263.5L702.3 263.6L703.3 263.8L704.3 263.9L705.3 264L706.3 264.1L707.3 264.2L708.3 264.3L709.3 264.4L710.3 264.5L711.3 264.5L712.3 264.6L713.3 264.7L714.3 264.8L715.3 264.8L716.3 264.9L717.3 265L718.3 265L719.3 265.1L720.3 265.2L721.3 265.2L722.3 265.3L723.3 265.3L724.3 265.4L725.3 265.4L726.3 265.5L727.3 265.5L728.3 265.6L729.3 265.6L730.4 265.7L731.4 265.7L732.4 265.8L733.4 265.8L734.4 265.9L735.4 265.9L736.4 266L737.4 266L738.4 266.1L739.4 266.1L740.4 266.2L741.4 266.2L742.4 266.3L743.4 266.3L744.4 266.3L745.4 266.4L746.4 266.4L747.4 266.5L748.4 266.5L749.4 266.5L750.4 266.6L751.4 266.6L752.5 266.6L753.5 266.7L754.5 266.7L755.5 266.7L756.5 266.8L757.5 266.8L758.5 266.8L759.5 266.8L760.5 266.8L761.5 266.9L762.5 266.9L763.5 266.9L764.5 266.9L765.5 266.9L766.5 267L767.5 267L768.5 267L769.5 267L770.5 267L771.6 267L772.6 267.1L773.6 267.1L774.6 267.1L775.6 267.1L776.6 267.1L777.6 267.1L778.6 267.2L779.6 267.2L780.6 267.2L781.6 267.2L782.6 267.2L783.6 267.2L784.6 267.2L785.6 267.2L786.6 267.2L787.6 267.3L788.6 267.3L789.7 267.3L790.7 267.3L791.7 267.3L792.7 267.3L793.7 267.3L794.7 267.3L795.7 267.3L796.7 267.3L797.7 267.3M629.4 215L629.9 221.9" fill="none" stroke="#E19C24" stroke-width="1.25" stroke-linejoin="round"/>
<path d="M626.6 215l2.65-3.1 2.65 3.1-2.65 3.1zM628 212.5l2.65-3.1 2.65 3.1-2.65 3.1zM629.3 210.5l2.65-3.1 2.65 3.1-2.65 3.1zM630.5 208.9l2.65-3.1 2.65 3.1-2.65 3.1zM631.7 207.5l2.65-3.1 2.65 3.1-2.65 3.1zM634 205.3l2.65-3.1 2.65 3.1-2.65 3.1zM636.2 203.6l2.65-3.1 2.65 3.1-2.65 3.1zM638.3 202.4l2.65-3.1 2.65 3.1-2.65 3.1zM640.4 201.5l2.65-3.1 2.65 3.1-2.65 3.1zM642.4 200.9l2.65-3.1 2.65 3.1-2.65 3.1zM644.4 200.4l2.65-3.1 2.65 3.1-2.65 3.1zM646.4 200l2.65-3.1 2.65 3.1-2.65 3.1zM648.2 199.7l2.65-3.1 2.65 3.1-2.65 3.1zM650 199.5l2.65-3.1 2.65 3.1-2.65 3.1zM653.6 199.3l2.65-3.1 2.65 3.1-2.65 3.1zM657 199.2l2.65-3.1 2.65 3.1-2.65 3.1zM660.2 199.1l2.65-3.1 2.65 3.1-2.65 3.1zM663.2 199.1l2.65-3.1 2.65 3.1-2.65 3.1zM666.2 199.1l2.65-3.1 2.65 3.1-2.65 3.1zM669 199.1l2.65-3.1 2.65 3.1-2.65 3.1zM671.6 199.1l2.65-3.1 2.65 3.1-2.65 3.1zM674.2 199.1l2.65-3.1 2.65 3.1-2.65 3.1zM676.8 199.1l2.65-3.1 2.65 3.1-2.65 3.1zM679.2 199.1l2.65-3.1 2.65 3.1-2.65 3.1zM683.9 199.1l2.65-3.1 2.65 3.1-2.65 3.1zM688.3 199.1l2.65-3.1 2.65 3.1-2.65 3.1zM692.5 199.1l2.65-3.1 2.65 3.1-2.65 3.1zM696.3 199.1l2.65-3.1 2.65 3.1-2.65 3.1zM699.9 199.1l2.65-3.1 2.65 3.1-2.65 3.1zM703.5 199.1l2.65-3.1 2.65 3.1-2.65 3.1zM706.9 199.1l2.65-3.1 2.65 3.1-2.65 3.1zM710.1 199.1l2.65-3.1 2.65 3.1-2.65 3.1zM713.1 199.1l2.65-3.1 2.65 3.1-2.65 3.1zM716.2 199.1l2.65-3.1 2.65 3.1-2.65 3.1zM721.6 199.1l2.65-3.1 2.65 3.1-2.65 3.1zM726.8 199.1l2.65-3.1 2.65 3.1-2.65 3.1zM731.6 199.1l2.65-3.1 2.65 3.1-2.65 3.1zM736 199.1l2.65-3.1 2.65 3.1-2.65 3.1zM740.4 199.1l2.65-3.1 2.65 3.1-2.65 3.1zM744.4 199.1l2.65-3.1 2.65 3.1-2.65 3.1zM746.9 199.1l2.65-3.1 2.65 3.1-2.65 3.1zM627.2 221.9l2.65-3.1 2.65 3.1-2.65 3.1zM628.2 224.5l2.65-3.1 2.65 3.1-2.65 3.1zM629.3 227.1l2.65-3.1 2.65 3.1-2.65 3.1zM630.5 229.6l2.65-3.1 2.65 3.1-2.65 3.1zM631.6 231.8l2.65-3.1 2.65 3.1-2.65 3.1zM632.8 233.9l2.65-3.1 2.65 3.1-2.65 3.1zM633.9 236l2.65-3.1 2.65 3.1-2.65 3.1zM635 237.9l2.65-3.1 2.65 3.1-2.65 3.1zM636.1 239.6l2.65-3.1 2.65 3.1-2.65 3.1zM638.3 242.2l2.65-3.1 2.65 3.1-2.65 3.1zM640.4 244.4l2.65-3.1 2.65 3.1-2.65 3.1zM642.4 246.1l2.65-3.1 2.65 3.1-2.65 3.1zM644.4 247.7l2.65-3.1 2.65 3.1-2.65 3.1zM646.4 249.1l2.65-3.1 2.65 3.1-2.65 3.1zM648.2 250.3l2.65-3.1 2.65 3.1-2.65 3.1zM650 251.3l2.65-3.1 2.65 3.1-2.65 3.1zM651.9 252.3l2.65-3.1 2.65 3.1-2.65 3.1zM653.5 253.1l2.65-3.1 2.65 3.1-2.65 3.1zM656.9 254.5l2.65-3.1 2.65 3.1-2.65 3.1zM660 255.7l2.65-3.1 2.65 3.1-2.65 3.1zM663.3 256.8l2.65-3.1 2.65 3.1-2.65 3.1zM666.1 257.8l2.65-3.1 2.65 3.1-2.65 3.1zM669 258.6l2.65-3.1 2.65 3.1-2.65 3.1zM671.7 259.2l2.65-3.1 2.65 3.1-2.65 3.1zM674.3 259.7l2.65-3.1 2.65 3.1-2.65 3.1zM676.9 260.1l2.65-3.1 2.65 3.1-2.65 3.1zM679.3 260.4l2.65-3.1 2.65 3.1-2.65 3.1zM684 261.2l2.65-3.1 2.65 3.1-2.65 3.1zM688.4 261.9l2.65-3.1 2.65 3.1-2.65 3.1zM692.3 262.5l2.65-3.1 2.65 3.1-2.65 3.1zM696.3 263.1l2.65-3.1 2.65 3.1-2.65 3.1zM700 263.7l2.65-3.1 2.65 3.1-2.65 3.1zM703.6 264.1l2.65-3.1 2.65 3.1-2.65 3.1zM706.8 264.4l2.65-3.1 2.65 3.1-2.65 3.1zM710 264.6l2.65-3.1 2.65 3.1-2.65 3.1zM713.2 264.9l2.65-3.1 2.65 3.1-2.65 3.1zM716.2 265.1l2.65-3.1 2.65 3.1-2.65 3.1zM721.6 265.4l2.65-3.1 2.65 3.1-2.65 3.1zM726.8 265.7l2.65-3.1 2.65 3.1-2.65 3.1zM731.6 265.9l2.65-3.1 2.65 3.1-2.65 3.1zM736.2 266.1l2.65-3.1 2.65 3.1-2.65 3.1zM740.4 266.3l2.65-3.1 2.65 3.1-2.65 3.1zM744.4 266.4l2.65-3.1 2.65 3.1-2.65 3.1zM748.2 266.6l2.65-3.1 2.65 3.1-2.65 3.1zM751.8 266.7l2.65-3.1 2.65 3.1-2.65 3.1zM755.2 266.8l2.65-3.1 2.65 3.1-2.65 3.1zM758.4 266.8l2.65-3.1 2.65 3.1-2.65 3.1zM761.6 266.9l2.65-3.1 2.65 3.1-2.65 3.1zM764.6 267l2.65-3.1 2.65 3.1-2.65 3.1zM767.4 267l2.65-3.1 2.65 3.1-2.65 3.1zM770.2 267.1l2.65-3.1 2.65 3.1-2.65 3.1zM773 267.1l2.65-3.1 2.65 3.1-2.65 3.1zM775.4 267.1l2.65-3.1 2.65 3.1-2.65 3.1zM778 267.2l2.65-3.1 2.65 3.1-2.65 3.1zM780.4 267.2l2.65-3.1 2.65 3.1-2.65 3.1zM782.6 267.2l2.65-3.1 2.65 3.1-2.65 3.1zM785 267.3l2.65-3.1 2.65 3.1-2.65 3.1zM787.2 267.3l2.65-3.1 2.65 3.1-2.65 3.1zM789.2 267.3l2.65-3.1 2.65 3.1-2.65 3.1zM791.4 267.3l2.65-3.1 2.65 3.1-2.65 3.1zM793.4 267.3l2.65-3.1 2.65 3.1-2.65 3.1zM795.1 267.3l2.65-3.1 2.65 3.1-2.65 3.1z" fill="#E19C24"/>
<path d="M654.2 208.8L655.1 209.3L656 209.8L656.8 210.3L657.7 210.8L658.6 211.3L659.5 211.7L660.4 212.2L661.3 212.7L662.2 213.1L663.1 213.6L664 214.1L664.9 214.5L665.8 214.9L666.7 215.3L667.7 215.7L668.6 216.1L669.5 216.5L670.5 216.9L671.4 217.2L672.4 217.6L673.3 217.9L674.3 218.2L675.2 218.5L676.2 218.8L677.2 219.1L678.2 219.3L679.1 219.6L680.1 219.8L681.1 220.1L682.1 220.3L683.1 220.6L684 220.8L685 221L686 221.2L687 221.4L688 221.6L689 221.8L690 222L691 222.1L692 222.3L693 222.4L694 222.6L695 222.7L696 222.8L697 223L698 223.1L699 223.2L700 223.4L701 223.6L702 223.8L702.9 224L703.9 224.2L704.9 224.4L705.9 224.6L706.9 224.7L707.9 224.8L708.9 224.9L709.9 225L710.9 225.1L711.9 225.2L712.9 225.3L713.9 225.4L715 225.5L716 225.6L717 225.6L718 225.7L719 225.8L720 225.9L721 225.9L722 226L723 226.1L724 226.1L725 226.2L726 226.3L727 226.3L728.1 226.4L729.1 226.4L730.1 226.5L731.1 226.5L732.1 226.6L733.1 226.6L734.1 226.7L735.1 226.7L736.1 226.7L737.1 226.8L738.1 226.8L739.2 226.9L740.2 226.9L741.2 226.9L742.2 227L743.2 227L744.2 227L745.2 227.1L746.2 227.1L747.2 227.1L748.2 227.2L749.2 227.2L750.3 227.2L751.3 227.2L752.3 227.3L753.3 227.3L754.3 227.3L755.3 227.3L756.3 227.4L757.3 227.4L758.3 227.4L759.3 227.4L760.3 227.4L761.4 227.4L762.4 227.5L763.4 227.5L764.4 227.5L765.4 227.5L766.4 227.5L767.4 227.6L768.4 227.6L769.4 227.6L770.4 227.6L771.4 227.6L772.5 227.6L773.5 227.7L774.5 227.7L775.5 227.7L776.5 227.7L777.5 227.7L778.5 227.7L779.5 227.7L780.5 227.8L781.5 227.8L782.6 227.8L783.6 227.8L784.6 227.8L785.6 227.8L786.6 227.8L787.6 227.8L788.6 227.8L789.6 227.9L790.6 227.9L791.6 227.9L792.7 227.9L793.7 227.9L794.7 227.9L795.7 227.9L796.7 227.9L797.7 227.9" fill="none" stroke="#5E81B5" stroke-width="1.25" stroke-linejoin="round"/>
<path d="M651.5 211.1l2.7-4.8 2.7 4.8zM653.4 212.2l2.7-4.8 2.7 4.8zM655.2 213.2l2.7-4.8 2.7 4.8zM656.8 214l2.7-4.8 2.7 4.8zM660.1 215.8l2.7-4.8 2.7 4.8zM663.2 217.3l2.7-4.8 2.7 4.8zM666 218.5l2.7-4.8 2.7 4.8zM669 219.6l2.7-4.8 2.7 4.8zM671.6 220.5l2.7-4.8 2.7 4.8zM674.3 221.3l2.7-4.8 2.7 4.8zM676.8 222l2.7-4.8 2.7 4.8zM679.2 222.6l2.7-4.8 2.7 4.8zM683.9 223.6l2.7-4.8 2.7 4.8zM688.2 224.4l2.7-4.8 2.7 4.8zM692.4 225l2.7-4.8 2.7 4.8zM696.2 225.5l2.7-4.8 2.7 4.8zM699.9 226.2l2.7-4.8 2.7 4.8zM703.4 226.9l2.7-4.8 2.7 4.8zM706.8 227.3l2.7-4.8 2.7 4.8zM710 227.6l2.7-4.8 2.7 4.8zM713 227.8l2.7-4.8 2.7 4.8zM716 228.1l2.7-4.8 2.7 4.8zM721.6 228.5l2.7-4.8 2.7 4.8zM726.8 228.8l2.7-4.8 2.7 4.8zM731.6 229l2.7-4.8 2.7 4.8zM736 229.1l2.7-4.8 2.7 4.8zM740.3 229.3l2.7-4.8 2.7 4.8zM744.3 229.4l2.7-4.8 2.7 4.8zM748.1 229.5l2.7-4.8 2.7 4.8zM751.7 229.6l2.7-4.8 2.7 4.8zM755.1 229.7l2.7-4.8 2.7 4.8zM758.5 229.7l2.7-4.8 2.7 4.8zM761.5 229.8l2.7-4.8 2.7 4.8zM764.5 229.9l2.7-4.8 2.7 4.8zM767.5 229.9l2.7-4.8 2.7 4.8zM770.1 229.9l2.7-4.8 2.7 4.8zM772.9 230l2.7-4.8 2.7 4.8zM775.5 230l2.7-4.8 2.7 4.8zM778 230.1l2.7-4.8 2.7 4.8zM780.4 230.1l2.7-4.8 2.7 4.8zM782.8 230.1l2.7-4.8 2.7 4.8zM785 230.1l2.7-4.8 2.7 4.8zM787.2 230.2l2.7-4.8 2.7 4.8zM789.2 230.2l2.7-4.8 2.7 4.8zM791.4 230.2l2.7-4.8 2.7 4.8zM793.4 230.2l2.7-4.8 2.7 4.8zM795 230.2l2.7-4.8 2.7 4.8z" fill="#5E81B5"/>
<path d="M648 202.5L650.8 198L653.6 202.2" fill="none" stroke="#5E81B5" stroke-width="2.1" stroke-linejoin="round"/>
<text x="617" y="183.7" font-size="11.65" fill="#0a0aff" text-anchor="start">A1–BWSt4: <tspan font-style="italic">M</tspan>=16, <tspan font-style="italic">R</tspan>=8, <tspan font-style="italic">q</tspan>=2</text>
<text x="794.8" y="185.4" font-size="11.8" fill="#1a1a1a" text-anchor="start">(f)</text>
<text x="585.4" y="184.2" font-size="12.5" fill="#1a1a1a" text-anchor="middle" font-style="italic">β</text>
<text x="802.9" y="322" font-size="12.3" fill="#1a1a1a" font-style="italic">r<tspan font-size="8.2" dy="2.2">w</tspan><tspan dy="-2.2" font-style="normal">/</tspan>a<tspan font-size="8.2" dy="2.4" font-style="normal">0</tspan></text>
<path d="M628.3 349.6 h15" stroke="#5E81B5" stroke-width="1.3"/>
<path d="M632.8 352.3l3.15-5.5 3.15 5.5z" fill="#5E81B5"/>
<text x="649.2" y="352" font-size="12.1" fill="#0a0aff" text-anchor="start">1</text>
<path d="M664.5 349.6 h15" stroke="#E19C24" stroke-width="1.3"/>
<path d="M669.5 349.6l2.65-3.1 2.65 3.1-2.65 3.1z" fill="#E19C24"/>
<text x="685.4" y="352" font-size="12.1" fill="#0a0aff" text-anchor="start">2</text>
<path d="M700.9 349 h15" stroke="#8FB032" stroke-width="1.3"/>
<path d="M708.5 349h0" stroke="#8FB032" stroke-width="4.6" stroke-linecap="square" fill="none"/>
<text x="721.8" y="352" font-size="12.1" fill="#0a0aff" text-anchor="start">4</text>
<path d="M737.4 349 h15" stroke="#EB6235" stroke-width="1.3"/>
<path d="M745 349h0" stroke="#EB6235" stroke-width="4.6" stroke-linecap="round" fill="none"/>
<text x="757.8" y="353.2" font-size="13" fill="#0a0aff" text-anchor="start">∞</text>
</svg>
</body></html>
